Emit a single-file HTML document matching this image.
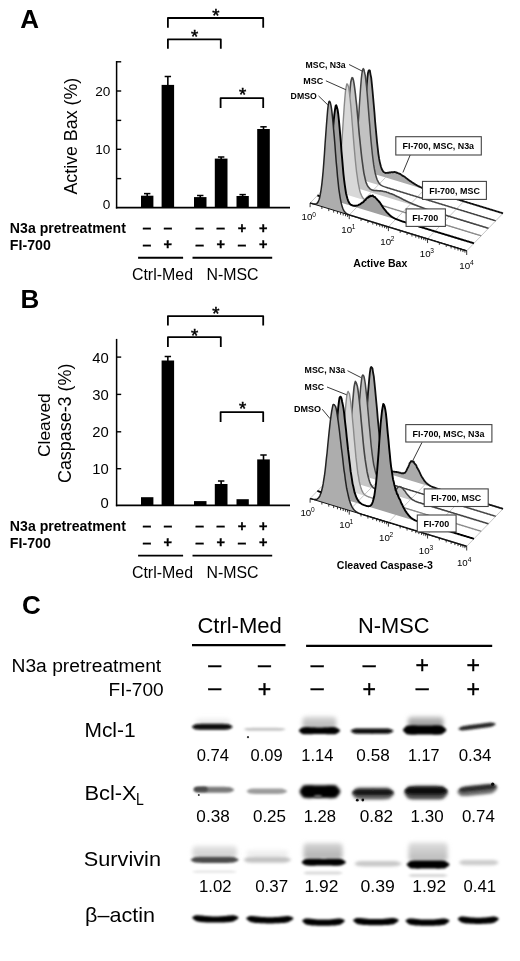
<!DOCTYPE html>
<html><head><meta charset="utf-8"><title>Figure</title>
<style>html,body{margin:0;padding:0;background:#fff;} svg{display:block;} text{font-family:'Liberation Sans', Arial, Helvetica, sans-serif;}</style>
</head><body>
<svg width="520" height="961" viewBox="0 0 520 961">
<defs><linearGradient id="g0" x1="0" y1="0" x2="0" y2="1"><stop offset="0" stop-color="#f2f2f2"/><stop offset="1" stop-color="#e4e4e4"/></linearGradient><linearGradient id="g1" x1="0" y1="0" x2="0" y2="1"><stop offset="0" stop-color="#d8d8d8"/><stop offset="1" stop-color="#b0b0b0"/></linearGradient><linearGradient id="g2" x1="0" y1="0" x2="0" y2="1"><stop offset="0" stop-color="#c8c8c8"/><stop offset="1" stop-color="#8a8a8a"/></linearGradient><linearGradient id="g3" x1="0" y1="0" x2="0" y2="1"><stop offset="0" stop-color="#e6e6e6"/><stop offset="1" stop-color="#cccccc"/></linearGradient><linearGradient id="g4" x1="0" y1="0" x2="0" y2="1"><stop offset="0" stop-color="#f4f4f4"/><stop offset="1" stop-color="#e8e8e8"/></linearGradient><linearGradient id="g5" x1="0" y1="0" x2="0" y2="1"><stop offset="0" stop-color="#d6d6d6"/><stop offset="1" stop-color="#acacac"/></linearGradient><linearGradient id="g6" x1="0" y1="0" x2="0" y2="1"><stop offset="0" stop-color="#dedede"/><stop offset="1" stop-color="#b8b8b8"/></linearGradient><filter id="bl5" filterUnits="userSpaceOnUse" x="0" y="0" width="520" height="961"><feGaussianBlur stdDeviation="0.5"/></filter><filter id="bl10" filterUnits="userSpaceOnUse" x="0" y="0" width="520" height="961"><feGaussianBlur stdDeviation="1.0"/></filter><filter id="bl12" filterUnits="userSpaceOnUse" x="0" y="0" width="520" height="961"><feGaussianBlur stdDeviation="1.2"/></filter><filter id="bl13" filterUnits="userSpaceOnUse" x="0" y="0" width="520" height="961"><feGaussianBlur stdDeviation="1.3"/></filter><filter id="bl14" filterUnits="userSpaceOnUse" x="0" y="0" width="520" height="961"><feGaussianBlur stdDeviation="1.4"/></filter><filter id="bl16" filterUnits="userSpaceOnUse" x="0" y="0" width="520" height="961"><feGaussianBlur stdDeviation="1.6"/></filter><filter id="bl17" filterUnits="userSpaceOnUse" x="0" y="0" width="520" height="961"><feGaussianBlur stdDeviation="1.7"/></filter><filter id="bl22" filterUnits="userSpaceOnUse" x="0" y="0" width="520" height="961"><feGaussianBlur stdDeviation="2.2"/></filter></defs>
<rect width="520" height="961" fill="#fff"/>
<text x="20.15" y="27.80" font-size="26" font-weight="bold" fill="#000">A</text>
<text transform="translate(76.60,194.53) rotate(-90) scale(1.012,1)" font-size="17.6">Active Bax (%)</text>
<line x1="116.60" y1="61.00" x2="116.60" y2="208.50" stroke="#000" stroke-width="1.5" stroke-linecap="butt" />
<line x1="116.60" y1="61.80" x2="121.20" y2="61.80" stroke="#000" stroke-width="1.4" stroke-linecap="butt" />
<line x1="116.60" y1="91.00" x2="121.20" y2="91.00" stroke="#000" stroke-width="1.4" stroke-linecap="butt" />
<line x1="116.60" y1="149.30" x2="121.20" y2="149.30" stroke="#000" stroke-width="1.4" stroke-linecap="butt" />
<line x1="116.60" y1="120.40" x2="121.20" y2="120.40" stroke="#000" stroke-width="1.4" stroke-linecap="butt" />
<line x1="116.60" y1="178.60" x2="121.20" y2="178.60" stroke="#000" stroke-width="1.4" stroke-linecap="butt" />
<line x1="115.90" y1="207.60" x2="290.00" y2="207.60" stroke="#000" stroke-width="1.8" stroke-linecap="butt" />
<text x="95.20" y="95.70" font-size="13.6" fill="#000">20</text>
<text x="95.20" y="154.40" font-size="13.6" fill="#000">10</text>
<text x="102.77" y="208.70" font-size="13.6" fill="#000">0</text>
<rect x="141.00" y="195.70" width="12.40" height="11.90" fill="#000" />
<line x1="147.20" y1="193.60" x2="147.20" y2="196.70" stroke="#000" stroke-width="1.6" stroke-linecap="butt" />
<line x1="144.00" y1="193.60" x2="150.40" y2="193.60" stroke="#000" stroke-width="1.5" stroke-linecap="butt" />
<rect x="161.60" y="84.90" width="12.50" height="122.70" fill="#000" />
<line x1="167.85" y1="76.50" x2="167.85" y2="85.90" stroke="#000" stroke-width="1.6" stroke-linecap="butt" />
<line x1="164.65" y1="76.50" x2="171.05" y2="76.50" stroke="#000" stroke-width="1.5" stroke-linecap="butt" />
<rect x="194.00" y="197.10" width="12.50" height="10.50" fill="#000" />
<line x1="200.25" y1="195.50" x2="200.25" y2="198.10" stroke="#000" stroke-width="1.6" stroke-linecap="butt" />
<line x1="197.05" y1="195.50" x2="203.45" y2="195.50" stroke="#000" stroke-width="1.5" stroke-linecap="butt" />
<rect x="214.80" y="158.60" width="12.70" height="49.00" fill="#000" />
<line x1="221.15" y1="157.00" x2="221.15" y2="159.60" stroke="#000" stroke-width="1.6" stroke-linecap="butt" />
<line x1="217.95" y1="157.00" x2="224.35" y2="157.00" stroke="#000" stroke-width="1.5" stroke-linecap="butt" />
<rect x="236.50" y="196.00" width="12.30" height="11.60" fill="#000" />
<line x1="242.65" y1="194.60" x2="242.65" y2="197.00" stroke="#000" stroke-width="1.6" stroke-linecap="butt" />
<line x1="239.45" y1="194.60" x2="245.85" y2="194.60" stroke="#000" stroke-width="1.5" stroke-linecap="butt" />
<rect x="257.20" y="129.00" width="12.60" height="78.60" fill="#000" />
<line x1="263.50" y1="126.80" x2="263.50" y2="130.00" stroke="#000" stroke-width="1.6" stroke-linecap="butt" />
<line x1="260.30" y1="126.80" x2="266.70" y2="126.80" stroke="#000" stroke-width="1.5" stroke-linecap="butt" />
<path d="M167.90,27.80 V18.00 H263.20 V27.80" fill="none" stroke="#000" stroke-width="1.8" stroke-linejoin="round" stroke-linejoin="miter"/>
<path d="M167.90,48.70 V39.30 H220.80 V48.70" fill="none" stroke="#000" stroke-width="1.8" stroke-linejoin="round" stroke-linejoin="miter"/>
<path d="M220.60,108.00 V98.10 H263.20 V108.00" fill="none" stroke="#000" stroke-width="1.8" stroke-linejoin="round" stroke-linejoin="miter"/>
<text x="212.20" y="22.07" font-size="18.6" fill="#000" stroke="#000" stroke-width="0.5">*</text>
<text x="190.90" y="43.27" font-size="18.6" fill="#000" stroke="#000" stroke-width="0.5">*</text>
<text x="239.00" y="101.37" font-size="18.6" fill="#000" stroke="#000" stroke-width="0.5">*</text>
<text transform="translate(9.86,232.90) scale(1.008,1)" font-size="14.0" font-weight="bold" fill="#000">N3a pretreatment</text>
<text transform="translate(9.85,250.40) scale(1.014,1)" font-size="14.0" font-weight="bold" fill="#000">FI-700</text>
<text transform="translate(142.40,232.88) scale(1.096,1)" font-size="14.46" font-weight="bold" fill="#000" stroke="#000" stroke-width="0.35">–</text>
<text transform="translate(142.40,249.78) scale(1.096,1)" font-size="14.46" font-weight="bold" fill="#000" stroke="#000" stroke-width="0.35">–</text>
<text transform="translate(163.40,232.88) scale(1.096,1)" font-size="14.46" font-weight="bold" fill="#000" stroke="#000" stroke-width="0.35">–</text>
<text x="163.57" y="249.41" font-size="14.46" font-weight="bold" fill="#000" stroke="#000" stroke-width="0.35">+</text>
<text transform="translate(195.20,232.88) scale(1.096,1)" font-size="14.46" font-weight="bold" fill="#000" stroke="#000" stroke-width="0.35">–</text>
<text transform="translate(195.20,249.78) scale(1.096,1)" font-size="14.46" font-weight="bold" fill="#000" stroke="#000" stroke-width="0.35">–</text>
<text transform="translate(216.30,232.88) scale(1.096,1)" font-size="14.46" font-weight="bold" fill="#000" stroke="#000" stroke-width="0.35">–</text>
<text x="216.47" y="249.41" font-size="14.46" font-weight="bold" fill="#000" stroke="#000" stroke-width="0.35">+</text>
<text x="237.77" y="233.21" font-size="14.46" font-weight="bold" fill="#000" stroke="#000" stroke-width="0.35">+</text>
<text transform="translate(237.60,249.78) scale(1.096,1)" font-size="14.46" font-weight="bold" fill="#000" stroke="#000" stroke-width="0.35">–</text>
<text x="258.97" y="233.21" font-size="14.46" font-weight="bold" fill="#000" stroke="#000" stroke-width="0.35">+</text>
<text x="258.97" y="249.41" font-size="14.46" font-weight="bold" fill="#000" stroke="#000" stroke-width="0.35">+</text>
<line x1="138.10" y1="257.80" x2="183.10" y2="257.80" stroke="#000" stroke-width="1.9" stroke-linecap="butt" />
<line x1="192.50" y1="257.80" x2="272.20" y2="257.80" stroke="#000" stroke-width="1.9" stroke-linecap="butt" />
<text transform="translate(131.89,279.80) scale(0.998,1)" font-size="16" fill="#000">Ctrl-Med</text>
<text transform="translate(206.50,279.80) scale(0.994,1)" font-size="16" fill="#000">N-MSC</text>
<text x="20.46" y="308.40" font-size="26" font-weight="bold" fill="#000">B</text>
<text transform="translate(49.70,456.98) rotate(-90) scale(0.999,1)" font-size="17.4">Cleaved</text>
<text transform="translate(70.70,483.01) rotate(-90) scale(1.017,1)" font-size="17.6">Caspase-3 (%)</text>
<line x1="116.60" y1="338.90" x2="116.60" y2="506.30" stroke="#000" stroke-width="1.5" stroke-linecap="butt" />
<line x1="116.60" y1="357.10" x2="121.20" y2="357.10" stroke="#000" stroke-width="1.4" stroke-linecap="butt" />
<line x1="116.60" y1="394.40" x2="121.20" y2="394.40" stroke="#000" stroke-width="1.4" stroke-linecap="butt" />
<line x1="116.60" y1="431.80" x2="121.20" y2="431.80" stroke="#000" stroke-width="1.4" stroke-linecap="butt" />
<line x1="116.60" y1="468.70" x2="121.20" y2="468.70" stroke="#000" stroke-width="1.4" stroke-linecap="butt" />
<line x1="115.90" y1="505.40" x2="290.00" y2="505.40" stroke="#000" stroke-width="1.8" stroke-linecap="butt" />
<text x="92.22" y="363.30" font-size="14.8" fill="#000">40</text>
<text x="92.22" y="399.90" font-size="14.8" fill="#000">30</text>
<text x="92.22" y="436.90" font-size="14.8" fill="#000">20</text>
<text x="92.22" y="474.00" font-size="14.8" fill="#000">10</text>
<text x="100.45" y="507.50" font-size="14.8" fill="#000">0</text>
<rect x="141.00" y="497.20" width="12.40" height="8.20" fill="#000" />
<rect x="161.60" y="360.50" width="12.50" height="144.90" fill="#000" />
<line x1="167.85" y1="356.50" x2="167.85" y2="361.50" stroke="#000" stroke-width="1.6" stroke-linecap="butt" />
<line x1="164.65" y1="356.50" x2="171.05" y2="356.50" stroke="#000" stroke-width="1.5" stroke-linecap="butt" />
<rect x="194.00" y="501.10" width="12.50" height="4.30" fill="#000" />
<rect x="214.80" y="484.00" width="12.70" height="21.40" fill="#000" />
<line x1="221.15" y1="481.00" x2="221.15" y2="485.00" stroke="#000" stroke-width="1.6" stroke-linecap="butt" />
<line x1="217.95" y1="481.00" x2="224.35" y2="481.00" stroke="#000" stroke-width="1.5" stroke-linecap="butt" />
<rect x="236.50" y="499.20" width="12.30" height="6.20" fill="#000" />
<rect x="257.20" y="459.40" width="12.60" height="46.00" fill="#000" />
<line x1="263.50" y1="455.00" x2="263.50" y2="460.40" stroke="#000" stroke-width="1.6" stroke-linecap="butt" />
<line x1="260.30" y1="455.00" x2="266.70" y2="455.00" stroke="#000" stroke-width="1.5" stroke-linecap="butt" />
<path d="M167.90,325.60 V316.10 H263.20 V325.60" fill="none" stroke="#000" stroke-width="1.8" stroke-linejoin="round" stroke-linejoin="miter"/>
<path d="M167.90,347.00 V337.20 H220.80 V347.00" fill="none" stroke="#000" stroke-width="1.8" stroke-linejoin="round" stroke-linejoin="miter"/>
<path d="M220.60,421.90 V412.05 H263.20 V421.90" fill="none" stroke="#000" stroke-width="1.8" stroke-linejoin="round" stroke-linejoin="miter"/>
<text x="212.20" y="320.17" font-size="18.6" fill="#000" stroke="#000" stroke-width="0.5">*</text>
<text x="190.90" y="341.57" font-size="18.6" fill="#000" stroke="#000" stroke-width="0.5">*</text>
<text x="239.00" y="415.37" font-size="18.6" fill="#000" stroke="#000" stroke-width="0.5">*</text>
<text transform="translate(9.86,530.70) scale(1.008,1)" font-size="14.0" font-weight="bold" fill="#000">N3a pretreatment</text>
<text transform="translate(9.85,548.20) scale(1.014,1)" font-size="14.0" font-weight="bold" fill="#000">FI-700</text>
<text transform="translate(142.40,530.68) scale(1.096,1)" font-size="14.46" font-weight="bold" fill="#000" stroke="#000" stroke-width="0.35">–</text>
<text transform="translate(142.40,547.58) scale(1.096,1)" font-size="14.46" font-weight="bold" fill="#000" stroke="#000" stroke-width="0.35">–</text>
<text transform="translate(163.40,530.68) scale(1.096,1)" font-size="14.46" font-weight="bold" fill="#000" stroke="#000" stroke-width="0.35">–</text>
<text x="163.57" y="547.21" font-size="14.46" font-weight="bold" fill="#000" stroke="#000" stroke-width="0.35">+</text>
<text transform="translate(195.20,530.68) scale(1.096,1)" font-size="14.46" font-weight="bold" fill="#000" stroke="#000" stroke-width="0.35">–</text>
<text transform="translate(195.20,547.58) scale(1.096,1)" font-size="14.46" font-weight="bold" fill="#000" stroke="#000" stroke-width="0.35">–</text>
<text transform="translate(216.30,530.68) scale(1.096,1)" font-size="14.46" font-weight="bold" fill="#000" stroke="#000" stroke-width="0.35">–</text>
<text x="216.47" y="547.21" font-size="14.46" font-weight="bold" fill="#000" stroke="#000" stroke-width="0.35">+</text>
<text x="237.77" y="531.01" font-size="14.46" font-weight="bold" fill="#000" stroke="#000" stroke-width="0.35">+</text>
<text transform="translate(237.60,547.58) scale(1.096,1)" font-size="14.46" font-weight="bold" fill="#000" stroke="#000" stroke-width="0.35">–</text>
<text x="258.97" y="531.01" font-size="14.46" font-weight="bold" fill="#000" stroke="#000" stroke-width="0.35">+</text>
<text x="258.97" y="547.21" font-size="14.46" font-weight="bold" fill="#000" stroke="#000" stroke-width="0.35">+</text>
<line x1="138.10" y1="555.60" x2="183.10" y2="555.60" stroke="#000" stroke-width="1.9" stroke-linecap="butt" />
<line x1="192.50" y1="555.60" x2="272.20" y2="555.60" stroke="#000" stroke-width="1.9" stroke-linecap="butt" />
<text transform="translate(131.89,577.60) scale(0.998,1)" font-size="16" fill="#000">Ctrl-Med</text>
<text transform="translate(206.50,577.60) scale(0.994,1)" font-size="16" fill="#000">N-MSC</text>
<line x1="310.10" y1="203.00" x2="346.40" y2="165.50" stroke="#b8b8b8" stroke-width="0.8" stroke-linecap="butt" />
<line x1="349.25" y1="214.95" x2="385.55" y2="177.45" stroke="#b8b8b8" stroke-width="0.8" stroke-linecap="butt" />
<line x1="388.40" y1="226.90" x2="424.70" y2="189.40" stroke="#b8b8b8" stroke-width="0.8" stroke-linecap="butt" />
<line x1="427.55" y1="238.85" x2="463.85" y2="201.35" stroke="#b8b8b8" stroke-width="0.8" stroke-linecap="butt" />
<line x1="466.70" y1="250.80" x2="503.00" y2="213.30" stroke="#b8b8b8" stroke-width="0.8" stroke-linecap="butt" />
<path d="M346.40,165.50 L347.05,165.70 L347.71,165.90 L348.36,166.10 L349.01,166.29 L349.66,166.49 L350.32,166.69 L350.97,166.88 L351.62,167.07 L352.27,167.25 L352.93,167.41 L353.58,167.55 L354.23,167.64 L354.88,167.68 L355.54,167.61 L356.19,167.41 L356.84,167.03 L357.49,166.38 L358.15,165.22 L358.80,163.87 L359.45,161.52 L360.10,158.72 L360.76,155.29 L361.41,150.04 L362.06,144.90 L362.71,137.51 L363.37,130.23 L364.02,121.65 L364.67,112.13 L365.32,102.39 L365.98,94.50 L366.63,86.28 L367.28,78.90 L367.93,73.35 L368.59,70.80 L369.24,70.26 L369.89,70.57 L370.54,74.57 L371.20,77.59 L371.85,83.82 L372.50,90.49 L373.15,97.78 L373.81,105.24 L374.46,112.48 L375.11,121.27 L375.76,128.33 L376.42,135.42 L377.07,142.36 L377.72,148.00 L378.37,153.82 L379.03,158.17 L379.68,161.60 L380.33,164.18 L380.98,166.80 L381.64,168.74 L382.29,170.05 L382.94,171.17 L383.59,171.98 L384.25,172.32 L384.90,172.67 L385.55,172.99 L386.20,172.95 L386.86,172.95 L387.51,172.75 L388.16,172.69 L388.81,172.74 L389.47,172.31 L390.12,172.56 L390.77,172.30 L391.42,172.04 L392.08,172.27 L392.73,172.06 L393.38,172.29 L394.03,171.98 L394.69,172.00 L395.34,172.23 L395.99,172.22 L396.64,172.75 L397.30,172.76 L397.95,173.08 L398.60,173.37 L399.25,173.74 L399.91,173.86 L400.56,174.16 L401.21,174.78 L401.86,175.07 L402.52,175.78 L403.17,175.88 L403.82,176.34 L404.47,176.64 L405.12,177.18 L405.78,177.86 L406.43,178.29 L407.08,178.66 L407.74,179.36 L408.39,179.68 L409.04,180.25 L409.69,180.73 L410.35,181.20 L411.00,181.47 L411.65,182.08 L412.30,182.50 L412.96,182.90 L413.61,183.24 L414.26,183.80 L414.91,184.14 L415.57,184.52 L416.22,184.86 L416.87,185.25 L417.52,185.61 L418.18,186.00 L418.83,186.34 L419.48,186.67 L420.13,186.99 L420.79,187.30 L421.44,187.60 L422.09,187.89 L422.74,188.17 L423.40,188.45 L424.05,188.72 L424.70,188.98 L425.35,189.23 L426.00,189.48 L426.66,189.72 L427.31,189.96 L427.96,190.19 L428.62,190.42 L429.27,190.64 L429.92,190.86 L430.57,191.08 L431.23,191.30 L431.88,191.51 L432.53,191.72 L433.18,191.93 L433.84,192.14 L434.49,192.35 L435.14,192.55 L435.79,192.76 L436.45,192.96 L437.10,193.17 L437.75,193.37 L438.40,193.57 L439.06,193.77 L439.71,193.97 L440.36,194.17 L441.01,194.37 L441.67,194.57 L442.32,194.77 L442.97,194.97 L443.62,195.17 L444.28,195.37 L444.93,195.57 L445.58,195.77 L446.23,195.97 L446.89,196.17 L447.54,196.37 L448.19,196.57 L448.84,196.77 L449.50,196.97 L450.15,197.17 L450.80,197.37 L451.45,197.57 L452.11,197.76 L452.76,197.96 L453.41,198.16 L454.06,198.36 L454.72,198.56 L455.37,198.76 L456.02,198.96 L456.67,199.16 L457.33,199.36 L457.98,199.56 L458.63,199.76 L459.28,199.96 L459.94,200.15 L460.59,200.35 L461.24,200.55 L461.89,200.75 L462.55,200.95 L463.20,201.15 L463.85,201.35 L464.50,201.55 L465.16,201.75 L465.81,201.95 L466.46,202.15 L467.11,202.35 L467.77,202.54 L468.42,202.74 L469.07,202.94 L469.72,203.14 L470.38,203.34 L471.03,203.54 L471.68,203.74 L472.33,203.94 L472.99,204.14 L473.64,204.34 L474.29,204.54 L474.94,204.74 L475.60,204.93 L476.25,205.13 L476.90,205.33 L477.55,205.53 L478.21,205.73 L478.86,205.93 L479.51,206.13 L480.16,206.33 L480.82,206.53 L481.47,206.73 L482.12,206.93 L482.77,207.13 L483.43,207.32 L484.08,207.52 L484.73,207.72 L485.38,207.92 L486.04,208.12 L486.69,208.32 L487.34,208.52 L487.99,208.72 L488.65,208.92 L489.30,209.12 L489.95,209.32 L490.60,209.52 L491.25,209.71 L491.91,209.91 L492.56,210.11 L493.21,210.31 L493.87,210.51 L494.52,210.71 L495.17,210.91 L495.82,211.11 L496.48,211.31 L497.13,211.51 L497.78,211.71 L498.43,211.91 L499.09,212.10 L499.74,212.30 L500.39,212.50 L501.04,212.70 L501.70,212.90 L502.35,213.10 L503.00,213.30 L503.00,213.30 L346.40,165.50 Z" fill="#ababab" stroke="none" stroke-width="1" stroke-linejoin="round" />
<path d="M346.40,165.50 L347.05,165.70 L347.71,165.90 L348.36,166.10 L349.01,166.29 L349.66,166.49 L350.32,166.69 L350.97,166.88 L351.62,167.07 L352.27,167.25 L352.93,167.41 L353.58,167.55 L354.23,167.64 L354.88,167.68 L355.54,167.61 L356.19,167.41 L356.84,167.03 L357.49,166.38 L358.15,165.22 L358.80,163.87 L359.45,161.52 L360.10,158.72 L360.76,155.29 L361.41,150.04 L362.06,144.90 L362.71,137.51 L363.37,130.23 L364.02,121.65 L364.67,112.13 L365.32,102.39 L365.98,94.50 L366.63,86.28 L367.28,78.90 L367.93,73.35 L368.59,70.80 L369.24,70.26 L369.89,70.57 L370.54,74.57 L371.20,77.59 L371.85,83.82 L372.50,90.49 L373.15,97.78 L373.81,105.24 L374.46,112.48 L375.11,121.27 L375.76,128.33 L376.42,135.42 L377.07,142.36 L377.72,148.00 L378.37,153.82 L379.03,158.17 L379.68,161.60 L380.33,164.18 L380.98,166.80 L381.64,168.74 L382.29,170.05 L382.94,171.17 L383.59,171.98 L384.25,172.32 L384.90,172.67 L385.55,172.99 L386.20,172.95 L386.86,172.95 L387.51,172.75 L388.16,172.69 L388.81,172.74 L389.47,172.31 L390.12,172.56 L390.77,172.30 L391.42,172.04 L392.08,172.27 L392.73,172.06 L393.38,172.29 L394.03,171.98 L394.69,172.00 L395.34,172.23 L395.99,172.22 L396.64,172.75 L397.30,172.76 L397.95,173.08 L398.60,173.37 L399.25,173.74 L399.91,173.86 L400.56,174.16 L401.21,174.78 L401.86,175.07 L402.52,175.78 L403.17,175.88 L403.82,176.34 L404.47,176.64 L405.12,177.18 L405.78,177.86 L406.43,178.29 L407.08,178.66 L407.74,179.36 L408.39,179.68 L409.04,180.25 L409.69,180.73 L410.35,181.20 L411.00,181.47 L411.65,182.08 L412.30,182.50 L412.96,182.90 L413.61,183.24 L414.26,183.80 L414.91,184.14 L415.57,184.52 L416.22,184.86 L416.87,185.25 L417.52,185.61 L418.18,186.00 L418.83,186.34 L419.48,186.67 L420.13,186.99 L420.79,187.30 L421.44,187.60 L422.09,187.89 L422.74,188.17 L423.40,188.45 L424.05,188.72 L424.70,188.98 L425.35,189.23 L426.00,189.48 L426.66,189.72 L427.31,189.96 L427.96,190.19 L428.62,190.42 L429.27,190.64 L429.92,190.86 L430.57,191.08 L431.23,191.30 L431.88,191.51 L432.53,191.72 L433.18,191.93 L433.84,192.14 L434.49,192.35 L435.14,192.55 L435.79,192.76 L436.45,192.96 L437.10,193.17 L437.75,193.37 L438.40,193.57 L439.06,193.77 L439.71,193.97 L440.36,194.17 L441.01,194.37 L441.67,194.57 L442.32,194.77 L442.97,194.97 L443.62,195.17 L444.28,195.37 L444.93,195.57 L445.58,195.77 L446.23,195.97 L446.89,196.17 L447.54,196.37 L448.19,196.57 L448.84,196.77 L449.50,196.97 L450.15,197.17 L450.80,197.37 L451.45,197.57 L452.11,197.76 L452.76,197.96 L453.41,198.16 L454.06,198.36 L454.72,198.56 L455.37,198.76 L456.02,198.96 L456.67,199.16 L457.33,199.36 L457.98,199.56 L458.63,199.76 L459.28,199.96 L459.94,200.15 L460.59,200.35 L461.24,200.55 L461.89,200.75 L462.55,200.95 L463.20,201.15 L463.85,201.35 L464.50,201.55 L465.16,201.75 L465.81,201.95 L466.46,202.15 L467.11,202.35 L467.77,202.54 L468.42,202.74 L469.07,202.94 L469.72,203.14 L470.38,203.34 L471.03,203.54 L471.68,203.74 L472.33,203.94 L472.99,204.14 L473.64,204.34 L474.29,204.54 L474.94,204.74 L475.60,204.93 L476.25,205.13 L476.90,205.33 L477.55,205.53 L478.21,205.73 L478.86,205.93 L479.51,206.13 L480.16,206.33 L480.82,206.53 L481.47,206.73 L482.12,206.93 L482.77,207.13 L483.43,207.32 L484.08,207.52 L484.73,207.72 L485.38,207.92 L486.04,208.12 L486.69,208.32 L487.34,208.52 L487.99,208.72 L488.65,208.92 L489.30,209.12 L489.95,209.32 L490.60,209.52 L491.25,209.71 L491.91,209.91 L492.56,210.11 L493.21,210.31 L493.87,210.51 L494.52,210.71 L495.17,210.91 L495.82,211.11 L496.48,211.31 L497.13,211.51 L497.78,211.71 L498.43,211.91 L499.09,212.10 L499.74,212.30 L500.39,212.50 L501.04,212.70 L501.70,212.90 L502.35,213.10 L503.00,213.30" fill="none" stroke="#111" stroke-width="1.8" stroke-linejoin="round" />
<path d="M339.14,173.00 L339.79,173.20 L340.45,173.40 L341.10,173.60 L341.75,173.80 L342.40,173.99 L343.06,174.19 L343.71,174.39 L344.36,174.59 L345.01,174.78 L345.67,174.97 L346.32,175.14 L346.97,175.31 L347.62,175.44 L348.28,175.53 L348.93,175.56 L349.58,175.49 L350.23,175.26 L350.89,174.86 L351.54,174.12 L352.19,173.01 L352.84,171.16 L353.50,168.74 L354.15,166.18 L354.80,162.20 L355.45,157.10 L356.11,150.86 L356.76,143.15 L357.41,134.59 L358.06,125.77 L358.72,116.28 L359.37,105.67 L360.02,95.99 L360.67,86.77 L361.33,78.63 L361.98,73.21 L362.63,69.87 L363.28,68.61 L363.94,69.46 L364.59,72.77 L365.24,75.43 L365.89,80.71 L366.55,86.77 L367.20,93.91 L367.85,102.13 L368.50,110.13 L369.16,118.68 L369.81,125.98 L370.46,134.53 L371.11,141.84 L371.77,148.40 L372.42,154.59 L373.07,159.79 L373.72,164.94 L374.38,168.97 L375.03,172.21 L375.68,175.08 L376.33,177.28 L376.99,179.35 L377.64,180.64 L378.29,181.99 L378.94,183.08 L379.60,183.86 L380.25,184.48 L380.90,185.01 L381.55,185.44 L382.21,185.80 L382.86,186.12 L383.51,186.39 L384.16,186.65 L384.82,186.88 L385.47,187.10 L386.12,187.32 L386.77,187.52 L387.43,187.73 L388.08,187.93 L388.73,188.13 L389.38,188.33 L390.04,188.53 L390.69,188.73 L391.34,188.93 L391.99,189.13 L392.65,189.33 L393.30,189.53 L393.95,189.73 L394.60,189.93 L395.26,190.13 L395.91,190.33 L396.56,190.53 L397.21,190.73 L397.87,190.92 L398.52,191.12 L399.17,191.32 L399.82,191.52 L400.48,191.72 L401.13,191.92 L401.78,192.12 L402.43,192.32 L403.09,192.52 L403.74,192.72 L404.39,192.92 L405.04,193.12 L405.70,193.31 L406.35,193.51 L407.00,193.71 L407.65,193.91 L408.31,194.11 L408.96,194.31 L409.61,194.51 L410.26,194.71 L410.92,194.91 L411.57,195.11 L412.22,195.31 L412.87,195.51 L413.53,195.70 L414.18,195.90 L414.83,196.10 L415.48,196.30 L416.14,196.50 L416.79,196.70 L417.44,196.90 L418.09,197.10 L418.75,197.30 L419.40,197.50 L420.05,197.70 L420.70,197.90 L421.36,198.09 L422.01,198.29 L422.66,198.49 L423.31,198.69 L423.97,198.89 L424.62,199.09 L425.27,199.29 L425.92,199.49 L426.58,199.69 L427.23,199.89 L427.88,200.09 L428.53,200.29 L429.19,200.48 L429.84,200.68 L430.49,200.88 L431.14,201.08 L431.80,201.28 L432.45,201.48 L433.10,201.68 L433.75,201.88 L434.41,202.08 L435.06,202.28 L435.71,202.48 L436.36,202.68 L437.02,202.88 L437.67,203.07 L438.32,203.27 L438.97,203.47 L439.63,203.67 L440.28,203.87 L440.93,204.07 L441.58,204.27 L442.24,204.47 L442.89,204.67 L443.54,204.87 L444.19,205.07 L444.85,205.26 L445.50,205.46 L446.15,205.66 L446.80,205.86 L447.46,206.06 L448.11,206.26 L448.76,206.46 L449.41,206.66 L450.07,206.86 L450.72,207.06 L451.37,207.26 L452.02,207.46 L452.68,207.66 L453.33,207.85 L453.98,208.05 L454.63,208.25 L455.29,208.45 L455.94,208.65 L456.59,208.85 L457.24,209.05 L457.90,209.25 L458.55,209.45 L459.20,209.65 L459.85,209.85 L460.51,210.05 L461.16,210.24 L461.81,210.44 L462.46,210.64 L463.12,210.84 L463.77,211.04 L464.42,211.24 L465.07,211.44 L465.73,211.64 L466.38,211.84 L467.03,212.04 L467.68,212.24 L468.34,212.44 L468.99,212.63 L469.64,212.83 L470.29,213.03 L470.95,213.23 L471.60,213.43 L472.25,213.63 L472.90,213.83 L473.56,214.03 L474.21,214.23 L474.86,214.43 L475.51,214.63 L476.17,214.82 L476.82,215.02 L477.47,215.22 L478.12,215.42 L478.78,215.62 L479.43,215.82 L480.08,216.02 L480.73,216.22 L481.39,216.42 L482.04,216.62 L482.69,216.82 L483.34,217.02 L484.00,217.22 L484.65,217.41 L485.30,217.61 L485.95,217.81 L486.61,218.01 L487.26,218.21 L487.91,218.41 L488.56,218.61 L489.22,218.81 L489.87,219.01 L490.52,219.21 L491.17,219.41 L491.83,219.60 L492.48,219.80 L493.13,220.00 L493.78,220.20 L494.44,220.40 L495.09,220.60 L495.74,220.80 L495.74,220.80 L339.14,173.00 Z" fill="#c2c2c2" stroke="none" stroke-width="1" stroke-linejoin="round" />
<path d="M339.14,173.00 L339.79,173.20 L340.45,173.40 L341.10,173.60 L341.75,173.80 L342.40,173.99 L343.06,174.19 L343.71,174.39 L344.36,174.59 L345.01,174.78 L345.67,174.97 L346.32,175.14 L346.97,175.31 L347.62,175.44 L348.28,175.53 L348.93,175.56 L349.58,175.49 L350.23,175.26 L350.89,174.86 L351.54,174.12 L352.19,173.01 L352.84,171.16 L353.50,168.74 L354.15,166.18 L354.80,162.20 L355.45,157.10 L356.11,150.86 L356.76,143.15 L357.41,134.59 L358.06,125.77 L358.72,116.28 L359.37,105.67 L360.02,95.99 L360.67,86.77 L361.33,78.63 L361.98,73.21 L362.63,69.87 L363.28,68.61 L363.94,69.46 L364.59,72.77 L365.24,75.43 L365.89,80.71 L366.55,86.77 L367.20,93.91 L367.85,102.13 L368.50,110.13 L369.16,118.68 L369.81,125.98 L370.46,134.53 L371.11,141.84 L371.77,148.40 L372.42,154.59 L373.07,159.79 L373.72,164.94 L374.38,168.97 L375.03,172.21 L375.68,175.08 L376.33,177.28 L376.99,179.35 L377.64,180.64 L378.29,181.99 L378.94,183.08 L379.60,183.86 L380.25,184.48 L380.90,185.01 L381.55,185.44 L382.21,185.80 L382.86,186.12 L383.51,186.39 L384.16,186.65 L384.82,186.88 L385.47,187.10 L386.12,187.32 L386.77,187.52 L387.43,187.73 L388.08,187.93 L388.73,188.13 L389.38,188.33 L390.04,188.53 L390.69,188.73 L391.34,188.93 L391.99,189.13 L392.65,189.33 L393.30,189.53 L393.95,189.73 L394.60,189.93 L395.26,190.13 L395.91,190.33 L396.56,190.53 L397.21,190.73 L397.87,190.92 L398.52,191.12 L399.17,191.32 L399.82,191.52 L400.48,191.72 L401.13,191.92 L401.78,192.12 L402.43,192.32 L403.09,192.52 L403.74,192.72 L404.39,192.92 L405.04,193.12 L405.70,193.31 L406.35,193.51 L407.00,193.71 L407.65,193.91 L408.31,194.11 L408.96,194.31 L409.61,194.51 L410.26,194.71 L410.92,194.91 L411.57,195.11 L412.22,195.31 L412.87,195.51 L413.53,195.70 L414.18,195.90 L414.83,196.10 L415.48,196.30 L416.14,196.50 L416.79,196.70 L417.44,196.90 L418.09,197.10 L418.75,197.30 L419.40,197.50 L420.05,197.70 L420.70,197.90 L421.36,198.09 L422.01,198.29 L422.66,198.49 L423.31,198.69 L423.97,198.89 L424.62,199.09 L425.27,199.29 L425.92,199.49 L426.58,199.69 L427.23,199.89 L427.88,200.09 L428.53,200.29 L429.19,200.48 L429.84,200.68 L430.49,200.88 L431.14,201.08 L431.80,201.28 L432.45,201.48 L433.10,201.68 L433.75,201.88 L434.41,202.08 L435.06,202.28 L435.71,202.48 L436.36,202.68 L437.02,202.88 L437.67,203.07 L438.32,203.27 L438.97,203.47 L439.63,203.67 L440.28,203.87 L440.93,204.07 L441.58,204.27 L442.24,204.47 L442.89,204.67 L443.54,204.87 L444.19,205.07 L444.85,205.26 L445.50,205.46 L446.15,205.66 L446.80,205.86 L447.46,206.06 L448.11,206.26 L448.76,206.46 L449.41,206.66 L450.07,206.86 L450.72,207.06 L451.37,207.26 L452.02,207.46 L452.68,207.66 L453.33,207.85 L453.98,208.05 L454.63,208.25 L455.29,208.45 L455.94,208.65 L456.59,208.85 L457.24,209.05 L457.90,209.25 L458.55,209.45 L459.20,209.65 L459.85,209.85 L460.51,210.05 L461.16,210.24 L461.81,210.44 L462.46,210.64 L463.12,210.84 L463.77,211.04 L464.42,211.24 L465.07,211.44 L465.73,211.64 L466.38,211.84 L467.03,212.04 L467.68,212.24 L468.34,212.44 L468.99,212.63 L469.64,212.83 L470.29,213.03 L470.95,213.23 L471.60,213.43 L472.25,213.63 L472.90,213.83 L473.56,214.03 L474.21,214.23 L474.86,214.43 L475.51,214.63 L476.17,214.82 L476.82,215.02 L477.47,215.22 L478.12,215.42 L478.78,215.62 L479.43,215.82 L480.08,216.02 L480.73,216.22 L481.39,216.42 L482.04,216.62 L482.69,216.82 L483.34,217.02 L484.00,217.22 L484.65,217.41 L485.30,217.61 L485.95,217.81 L486.61,218.01 L487.26,218.21 L487.91,218.41 L488.56,218.61 L489.22,218.81 L489.87,219.01 L490.52,219.21 L491.17,219.41 L491.83,219.60 L492.48,219.80 L493.13,220.00 L493.78,220.20 L494.44,220.40 L495.09,220.60 L495.74,220.80" fill="none" stroke="#444" stroke-width="1.5" stroke-linejoin="round" />
<path d="M331.88,180.50 L332.53,180.70 L333.19,180.89 L333.84,181.08 L334.49,181.27 L335.14,181.45 L335.80,181.61 L336.45,181.74 L337.10,181.84 L337.75,181.86 L338.40,181.79 L339.06,181.56 L339.71,181.15 L340.36,180.43 L341.01,179.38 L341.67,177.49 L342.32,175.05 L342.97,172.28 L343.62,168.26 L344.28,163.77 L344.93,157.60 L345.58,150.02 L346.24,141.86 L346.89,131.98 L347.54,123.28 L348.19,113.69 L348.84,102.91 L349.50,94.84 L350.15,88.05 L350.80,81.97 L351.45,79.33 L352.11,77.67 L352.76,77.90 L353.41,80.13 L354.06,83.59 L354.72,88.47 L355.37,93.51 L356.02,99.74 L356.68,105.43 L357.33,112.70 L357.98,119.52 L358.63,127.36 L359.28,134.61 L359.94,140.64 L360.59,146.90 L361.24,153.14 L361.89,158.75 L362.55,163.73 L363.20,168.28 L363.85,172.85 L364.50,175.84 L365.16,178.84 L365.81,181.44 L366.46,183.38 L367.12,184.85 L367.77,186.16 L368.42,187.06 L369.07,187.83 L369.73,188.62 L370.38,189.02 L371.03,189.41 L371.68,189.72 L372.33,190.06 L372.99,190.26 L373.64,190.39 L374.29,190.50 L374.94,190.58 L375.60,190.55 L376.25,190.54 L376.90,190.60 L377.56,190.73 L378.21,190.74 L378.86,190.74 L379.51,191.01 L380.17,190.90 L380.82,190.90 L381.47,191.02 L382.12,191.12 L382.77,191.31 L383.43,191.53 L384.08,191.46 L384.73,191.76 L385.38,191.76 L386.04,191.87 L386.69,192.27 L387.34,192.47 L388.00,192.49 L388.65,192.79 L389.30,193.21 L389.95,193.46 L390.61,193.70 L391.26,193.70 L391.91,193.99 L392.56,194.48 L393.21,194.53 L393.87,194.77 L394.52,195.16 L395.17,195.55 L395.82,195.79 L396.48,196.21 L397.13,196.55 L397.78,196.60 L398.44,197.00 L399.09,197.35 L399.74,197.57 L400.39,198.02 L401.04,198.24 L401.70,198.58 L402.35,199.04 L403.00,199.35 L403.65,199.67 L404.31,200.00 L404.96,200.26 L405.61,200.64 L406.26,200.93 L406.92,201.29 L407.57,201.49 L408.22,201.88 L408.88,202.17 L409.53,202.46 L410.18,202.73 L410.83,203.08 L411.49,203.37 L412.14,203.66 L412.79,203.95 L413.44,204.23 L414.10,204.51 L414.75,204.79 L415.40,205.06 L416.05,205.33 L416.70,205.60 L417.36,205.86 L418.01,206.11 L418.66,206.37 L419.31,206.62 L419.97,206.86 L420.62,207.11 L421.27,207.35 L421.92,207.59 L422.58,207.82 L423.23,208.05 L423.88,208.28 L424.53,208.51 L425.19,208.74 L425.84,208.96 L426.49,209.18 L427.14,209.40 L427.80,209.62 L428.45,209.83 L429.10,210.05 L429.75,210.26 L430.41,210.47 L431.06,210.68 L431.71,210.89 L432.37,211.10 L433.02,211.31 L433.67,211.51 L434.32,211.72 L434.98,211.93 L435.63,212.13 L436.28,212.33 L436.93,212.54 L437.58,212.74 L438.24,212.94 L438.89,213.14 L439.54,213.35 L440.19,213.55 L440.85,213.75 L441.50,213.95 L442.15,214.15 L442.81,214.35 L443.46,214.55 L444.11,214.75 L444.76,214.95 L445.41,215.15 L446.07,215.35 L446.72,215.55 L447.37,215.75 L448.02,215.95 L448.68,216.15 L449.33,216.35 L449.98,216.55 L450.63,216.75 L451.29,216.95 L451.94,217.15 L452.59,217.35 L453.25,217.54 L453.90,217.74 L454.55,217.94 L455.20,218.14 L455.86,218.34 L456.51,218.54 L457.16,218.74 L457.81,218.94 L458.46,219.14 L459.12,219.34 L459.77,219.54 L460.42,219.74 L461.07,219.93 L461.73,220.13 L462.38,220.33 L463.03,220.53 L463.69,220.73 L464.34,220.93 L464.99,221.13 L465.64,221.33 L466.29,221.53 L466.95,221.73 L467.60,221.93 L468.25,222.13 L468.90,222.32 L469.56,222.52 L470.21,222.72 L470.86,222.92 L471.51,223.12 L472.17,223.32 L472.82,223.52 L473.47,223.72 L474.12,223.92 L474.78,224.12 L475.43,224.32 L476.08,224.52 L476.74,224.71 L477.39,224.91 L478.04,225.11 L478.69,225.31 L479.35,225.51 L480.00,225.71 L480.65,225.91 L481.30,226.11 L481.95,226.31 L482.61,226.51 L483.26,226.71 L483.91,226.91 L484.56,227.10 L485.22,227.30 L485.87,227.50 L486.52,227.70 L487.17,227.90 L487.83,228.10 L488.48,228.30 L488.48,228.30 L331.88,180.50 Z" fill="#c6c6c6" stroke="none" stroke-width="1" stroke-linejoin="round" />
<path d="M331.88,180.50 L332.53,180.70 L333.19,180.89 L333.84,181.08 L334.49,181.27 L335.14,181.45 L335.80,181.61 L336.45,181.74 L337.10,181.84 L337.75,181.86 L338.40,181.79 L339.06,181.56 L339.71,181.15 L340.36,180.43 L341.01,179.38 L341.67,177.49 L342.32,175.05 L342.97,172.28 L343.62,168.26 L344.28,163.77 L344.93,157.60 L345.58,150.02 L346.24,141.86 L346.89,131.98 L347.54,123.28 L348.19,113.69 L348.84,102.91 L349.50,94.84 L350.15,88.05 L350.80,81.97 L351.45,79.33 L352.11,77.67 L352.76,77.90 L353.41,80.13 L354.06,83.59 L354.72,88.47 L355.37,93.51 L356.02,99.74 L356.68,105.43 L357.33,112.70 L357.98,119.52 L358.63,127.36 L359.28,134.61 L359.94,140.64 L360.59,146.90 L361.24,153.14 L361.89,158.75 L362.55,163.73 L363.20,168.28 L363.85,172.85 L364.50,175.84 L365.16,178.84 L365.81,181.44 L366.46,183.38 L367.12,184.85 L367.77,186.16 L368.42,187.06 L369.07,187.83 L369.73,188.62 L370.38,189.02 L371.03,189.41 L371.68,189.72 L372.33,190.06 L372.99,190.26 L373.64,190.39 L374.29,190.50 L374.94,190.58 L375.60,190.55 L376.25,190.54 L376.90,190.60 L377.56,190.73 L378.21,190.74 L378.86,190.74 L379.51,191.01 L380.17,190.90 L380.82,190.90 L381.47,191.02 L382.12,191.12 L382.77,191.31 L383.43,191.53 L384.08,191.46 L384.73,191.76 L385.38,191.76 L386.04,191.87 L386.69,192.27 L387.34,192.47 L388.00,192.49 L388.65,192.79 L389.30,193.21 L389.95,193.46 L390.61,193.70 L391.26,193.70 L391.91,193.99 L392.56,194.48 L393.21,194.53 L393.87,194.77 L394.52,195.16 L395.17,195.55 L395.82,195.79 L396.48,196.21 L397.13,196.55 L397.78,196.60 L398.44,197.00 L399.09,197.35 L399.74,197.57 L400.39,198.02 L401.04,198.24 L401.70,198.58 L402.35,199.04 L403.00,199.35 L403.65,199.67 L404.31,200.00 L404.96,200.26 L405.61,200.64 L406.26,200.93 L406.92,201.29 L407.57,201.49 L408.22,201.88 L408.88,202.17 L409.53,202.46 L410.18,202.73 L410.83,203.08 L411.49,203.37 L412.14,203.66 L412.79,203.95 L413.44,204.23 L414.10,204.51 L414.75,204.79 L415.40,205.06 L416.05,205.33 L416.70,205.60 L417.36,205.86 L418.01,206.11 L418.66,206.37 L419.31,206.62 L419.97,206.86 L420.62,207.11 L421.27,207.35 L421.92,207.59 L422.58,207.82 L423.23,208.05 L423.88,208.28 L424.53,208.51 L425.19,208.74 L425.84,208.96 L426.49,209.18 L427.14,209.40 L427.80,209.62 L428.45,209.83 L429.10,210.05 L429.75,210.26 L430.41,210.47 L431.06,210.68 L431.71,210.89 L432.37,211.10 L433.02,211.31 L433.67,211.51 L434.32,211.72 L434.98,211.93 L435.63,212.13 L436.28,212.33 L436.93,212.54 L437.58,212.74 L438.24,212.94 L438.89,213.14 L439.54,213.35 L440.19,213.55 L440.85,213.75 L441.50,213.95 L442.15,214.15 L442.81,214.35 L443.46,214.55 L444.11,214.75 L444.76,214.95 L445.41,215.15 L446.07,215.35 L446.72,215.55 L447.37,215.75 L448.02,215.95 L448.68,216.15 L449.33,216.35 L449.98,216.55 L450.63,216.75 L451.29,216.95 L451.94,217.15 L452.59,217.35 L453.25,217.54 L453.90,217.74 L454.55,217.94 L455.20,218.14 L455.86,218.34 L456.51,218.54 L457.16,218.74 L457.81,218.94 L458.46,219.14 L459.12,219.34 L459.77,219.54 L460.42,219.74 L461.07,219.93 L461.73,220.13 L462.38,220.33 L463.03,220.53 L463.69,220.73 L464.34,220.93 L464.99,221.13 L465.64,221.33 L466.29,221.53 L466.95,221.73 L467.60,221.93 L468.25,222.13 L468.90,222.32 L469.56,222.52 L470.21,222.72 L470.86,222.92 L471.51,223.12 L472.17,223.32 L472.82,223.52 L473.47,223.72 L474.12,223.92 L474.78,224.12 L475.43,224.32 L476.08,224.52 L476.74,224.71 L477.39,224.91 L478.04,225.11 L478.69,225.31 L479.35,225.51 L480.00,225.71 L480.65,225.91 L481.30,226.11 L481.95,226.31 L482.61,226.51 L483.26,226.71 L483.91,226.91 L484.56,227.10 L485.22,227.30 L485.87,227.50 L486.52,227.70 L487.17,227.90 L487.83,228.10 L488.48,228.30" fill="none" stroke="#444" stroke-width="1.6" stroke-linejoin="round" />
<path d="M324.62,188.00 L325.27,188.20 L325.93,188.40 L326.58,188.60 L327.23,188.79 L327.88,188.99 L328.54,189.19 L329.19,189.38 L329.84,189.56 L330.49,189.73 L331.14,189.89 L331.80,190.01 L332.45,190.08 L333.10,190.07 L333.75,189.94 L334.41,189.65 L335.06,189.05 L335.71,188.23 L336.37,186.90 L337.02,185.01 L337.67,182.73 L338.32,179.00 L338.98,174.89 L339.63,169.65 L340.28,161.86 L340.93,154.96 L341.58,145.78 L342.24,135.91 L342.89,126.20 L343.54,116.56 L344.19,106.83 L344.85,98.34 L345.50,91.11 L346.15,87.13 L346.81,83.88 L347.46,84.14 L348.11,85.67 L348.76,88.07 L349.42,92.91 L350.07,98.53 L350.72,104.94 L351.37,112.18 L352.02,120.78 L352.68,128.74 L353.33,137.09 L353.98,145.08 L354.63,152.43 L355.29,159.86 L355.94,166.21 L356.59,172.08 L357.25,176.52 L357.90,181.30 L358.55,184.92 L359.20,188.08 L359.86,191.11 L360.51,193.06 L361.16,194.66 L361.81,196.08 L362.47,197.30 L363.12,198.15 L363.77,198.79 L364.42,199.35 L365.07,199.80 L365.73,200.18 L366.38,200.50 L367.03,200.79 L367.69,201.04 L368.34,201.28 L368.99,201.50 L369.64,201.72 L370.30,201.93 L370.95,202.13 L371.60,202.33 L372.25,202.54 L372.91,202.74 L373.56,202.94 L374.21,203.14 L374.86,203.34 L375.51,203.53 L376.17,203.73 L376.82,203.93 L377.47,204.13 L378.12,204.33 L378.78,204.53 L379.43,204.73 L380.08,204.93 L380.74,205.13 L381.39,205.33 L382.04,205.53 L382.69,205.73 L383.35,205.92 L384.00,206.12 L384.65,206.32 L385.30,206.52 L385.95,206.72 L386.61,206.92 L387.26,207.12 L387.91,207.32 L388.56,207.52 L389.22,207.72 L389.87,207.92 L390.52,208.12 L391.18,208.31 L391.83,208.51 L392.48,208.71 L393.13,208.91 L393.78,209.11 L394.44,209.31 L395.09,209.51 L395.74,209.71 L396.39,209.91 L397.05,210.11 L397.70,210.31 L398.35,210.51 L399.00,210.70 L399.66,210.90 L400.31,211.10 L400.96,211.30 L401.62,211.50 L402.27,211.70 L402.92,211.90 L403.57,212.10 L404.23,212.30 L404.88,212.50 L405.53,212.70 L406.18,212.90 L406.84,213.09 L407.49,213.29 L408.14,213.49 L408.79,213.69 L409.44,213.89 L410.10,214.09 L410.75,214.29 L411.40,214.49 L412.06,214.69 L412.71,214.89 L413.36,215.09 L414.01,215.29 L414.66,215.48 L415.32,215.68 L415.97,215.88 L416.62,216.08 L417.27,216.28 L417.93,216.48 L418.58,216.68 L419.23,216.88 L419.88,217.08 L420.54,217.28 L421.19,217.48 L421.84,217.68 L422.50,217.88 L423.15,218.07 L423.80,218.27 L424.45,218.47 L425.11,218.67 L425.76,218.87 L426.41,219.07 L427.06,219.27 L427.72,219.47 L428.37,219.67 L429.02,219.87 L429.67,220.07 L430.32,220.26 L430.98,220.46 L431.63,220.66 L432.28,220.86 L432.94,221.06 L433.59,221.26 L434.24,221.46 L434.89,221.66 L435.55,221.86 L436.20,222.06 L436.85,222.26 L437.50,222.46 L438.15,222.66 L438.81,222.85 L439.46,223.05 L440.11,223.25 L440.76,223.45 L441.42,223.65 L442.07,223.85 L442.72,224.05 L443.38,224.25 L444.03,224.45 L444.68,224.65 L445.33,224.85 L445.99,225.05 L446.64,225.24 L447.29,225.44 L447.94,225.64 L448.60,225.84 L449.25,226.04 L449.90,226.24 L450.55,226.44 L451.20,226.64 L451.86,226.84 L452.51,227.04 L453.16,227.24 L453.81,227.44 L454.47,227.63 L455.12,227.83 L455.77,228.03 L456.43,228.23 L457.08,228.43 L457.73,228.63 L458.38,228.83 L459.03,229.03 L459.69,229.23 L460.34,229.43 L460.99,229.63 L461.64,229.82 L462.30,230.02 L462.95,230.22 L463.60,230.42 L464.25,230.62 L464.91,230.82 L465.56,231.02 L466.21,231.22 L466.87,231.42 L467.52,231.62 L468.17,231.82 L468.82,232.02 L469.48,232.22 L470.13,232.41 L470.78,232.61 L471.43,232.81 L472.09,233.01 L472.74,233.21 L473.39,233.41 L474.04,233.61 L474.69,233.81 L475.35,234.01 L476.00,234.21 L476.65,234.41 L477.31,234.60 L477.96,234.80 L478.61,235.00 L479.26,235.20 L479.91,235.40 L480.57,235.60 L481.22,235.80 L481.22,235.80 L324.62,188.00 Z" fill="#d8d8d8" stroke="none" stroke-width="1" stroke-linejoin="round" />
<path d="M324.62,188.00 L325.27,188.20 L325.93,188.40 L326.58,188.60 L327.23,188.79 L327.88,188.99 L328.54,189.19 L329.19,189.38 L329.84,189.56 L330.49,189.73 L331.14,189.89 L331.80,190.01 L332.45,190.08 L333.10,190.07 L333.75,189.94 L334.41,189.65 L335.06,189.05 L335.71,188.23 L336.37,186.90 L337.02,185.01 L337.67,182.73 L338.32,179.00 L338.98,174.89 L339.63,169.65 L340.28,161.86 L340.93,154.96 L341.58,145.78 L342.24,135.91 L342.89,126.20 L343.54,116.56 L344.19,106.83 L344.85,98.34 L345.50,91.11 L346.15,87.13 L346.81,83.88 L347.46,84.14 L348.11,85.67 L348.76,88.07 L349.42,92.91 L350.07,98.53 L350.72,104.94 L351.37,112.18 L352.02,120.78 L352.68,128.74 L353.33,137.09 L353.98,145.08 L354.63,152.43 L355.29,159.86 L355.94,166.21 L356.59,172.08 L357.25,176.52 L357.90,181.30 L358.55,184.92 L359.20,188.08 L359.86,191.11 L360.51,193.06 L361.16,194.66 L361.81,196.08 L362.47,197.30 L363.12,198.15 L363.77,198.79 L364.42,199.35 L365.07,199.80 L365.73,200.18 L366.38,200.50 L367.03,200.79 L367.69,201.04 L368.34,201.28 L368.99,201.50 L369.64,201.72 L370.30,201.93 L370.95,202.13 L371.60,202.33 L372.25,202.54 L372.91,202.74 L373.56,202.94 L374.21,203.14 L374.86,203.34 L375.51,203.53 L376.17,203.73 L376.82,203.93 L377.47,204.13 L378.12,204.33 L378.78,204.53 L379.43,204.73 L380.08,204.93 L380.74,205.13 L381.39,205.33 L382.04,205.53 L382.69,205.73 L383.35,205.92 L384.00,206.12 L384.65,206.32 L385.30,206.52 L385.95,206.72 L386.61,206.92 L387.26,207.12 L387.91,207.32 L388.56,207.52 L389.22,207.72 L389.87,207.92 L390.52,208.12 L391.18,208.31 L391.83,208.51 L392.48,208.71 L393.13,208.91 L393.78,209.11 L394.44,209.31 L395.09,209.51 L395.74,209.71 L396.39,209.91 L397.05,210.11 L397.70,210.31 L398.35,210.51 L399.00,210.70 L399.66,210.90 L400.31,211.10 L400.96,211.30 L401.62,211.50 L402.27,211.70 L402.92,211.90 L403.57,212.10 L404.23,212.30 L404.88,212.50 L405.53,212.70 L406.18,212.90 L406.84,213.09 L407.49,213.29 L408.14,213.49 L408.79,213.69 L409.44,213.89 L410.10,214.09 L410.75,214.29 L411.40,214.49 L412.06,214.69 L412.71,214.89 L413.36,215.09 L414.01,215.29 L414.66,215.48 L415.32,215.68 L415.97,215.88 L416.62,216.08 L417.27,216.28 L417.93,216.48 L418.58,216.68 L419.23,216.88 L419.88,217.08 L420.54,217.28 L421.19,217.48 L421.84,217.68 L422.50,217.88 L423.15,218.07 L423.80,218.27 L424.45,218.47 L425.11,218.67 L425.76,218.87 L426.41,219.07 L427.06,219.27 L427.72,219.47 L428.37,219.67 L429.02,219.87 L429.67,220.07 L430.32,220.26 L430.98,220.46 L431.63,220.66 L432.28,220.86 L432.94,221.06 L433.59,221.26 L434.24,221.46 L434.89,221.66 L435.55,221.86 L436.20,222.06 L436.85,222.26 L437.50,222.46 L438.15,222.66 L438.81,222.85 L439.46,223.05 L440.11,223.25 L440.76,223.45 L441.42,223.65 L442.07,223.85 L442.72,224.05 L443.38,224.25 L444.03,224.45 L444.68,224.65 L445.33,224.85 L445.99,225.05 L446.64,225.24 L447.29,225.44 L447.94,225.64 L448.60,225.84 L449.25,226.04 L449.90,226.24 L450.55,226.44 L451.20,226.64 L451.86,226.84 L452.51,227.04 L453.16,227.24 L453.81,227.44 L454.47,227.63 L455.12,227.83 L455.77,228.03 L456.43,228.23 L457.08,228.43 L457.73,228.63 L458.38,228.83 L459.03,229.03 L459.69,229.23 L460.34,229.43 L460.99,229.63 L461.64,229.82 L462.30,230.02 L462.95,230.22 L463.60,230.42 L464.25,230.62 L464.91,230.82 L465.56,231.02 L466.21,231.22 L466.87,231.42 L467.52,231.62 L468.17,231.82 L468.82,232.02 L469.48,232.22 L470.13,232.41 L470.78,232.61 L471.43,232.81 L472.09,233.01 L472.74,233.21 L473.39,233.41 L474.04,233.61 L474.69,233.81 L475.35,234.01 L476.00,234.21 L476.65,234.41 L477.31,234.60 L477.96,234.80 L478.61,235.00 L479.26,235.20 L479.91,235.40 L480.57,235.60 L481.22,235.80" fill="none" stroke="#8a8a8a" stroke-width="1.4" stroke-linejoin="round" />
<path d="M317.36,195.49 L318.01,195.69 L318.67,195.88 L319.32,196.06 L319.97,196.23 L320.62,196.37 L321.28,196.48 L321.93,196.53 L322.58,196.50 L323.23,196.34 L323.88,196.00 L324.54,195.42 L325.19,194.58 L325.84,193.19 L326.50,191.38 L327.15,188.42 L327.80,184.84 L328.45,180.28 L329.11,175.97 L329.76,168.92 L330.41,161.84 L331.06,154.66 L331.72,145.22 L332.37,136.53 L333.02,129.25 L333.67,120.58 L334.32,114.84 L334.98,109.75 L335.63,105.97 L336.28,105.21 L336.94,107.19 L337.59,109.65 L338.24,114.00 L338.89,120.12 L339.55,127.29 L340.20,134.85 L340.85,142.44 L341.50,151.65 L342.16,158.91 L342.81,166.62 L343.46,174.12 L344.11,179.82 L344.76,184.76 L345.42,189.42 L346.07,193.52 L346.72,195.93 L347.38,198.50 L348.03,200.35 L348.68,202.03 L349.33,203.07 L349.99,203.91 L350.64,204.46 L351.29,204.91 L351.94,205.23 L352.60,205.46 L353.25,205.62 L353.90,205.71 L354.55,205.76 L355.21,205.76 L355.86,205.68 L356.51,205.65 L357.16,205.54 L357.81,205.31 L358.47,204.98 L359.12,204.70 L359.77,204.51 L360.43,204.17 L361.08,203.47 L361.73,203.11 L362.38,202.52 L363.04,202.26 L363.69,201.70 L364.34,200.71 L364.99,200.25 L365.65,199.88 L366.30,198.59 L366.95,198.22 L367.60,197.50 L368.25,197.65 L368.91,196.44 L369.56,196.87 L370.21,195.72 L370.87,195.96 L371.52,195.99 L372.17,195.75 L372.82,195.44 L373.48,196.43 L374.13,196.90 L374.78,196.86 L375.43,197.69 L376.09,198.40 L376.74,199.00 L377.39,199.83 L378.04,200.46 L378.69,201.18 L379.35,202.07 L380.00,202.60 L380.65,203.92 L381.31,204.71 L381.96,205.88 L382.61,206.71 L383.26,207.83 L383.92,208.60 L384.57,209.59 L385.22,210.13 L385.87,211.04 L386.52,211.95 L387.18,212.60 L387.83,213.18 L388.48,214.05 L389.13,214.52 L389.79,215.18 L390.44,215.71 L391.09,216.17 L391.75,216.69 L392.40,217.11 L393.05,217.52 L393.70,217.90 L394.36,218.25 L395.01,218.58 L395.66,218.89 L396.31,219.18 L396.97,219.46 L397.62,219.72 L398.27,219.98 L398.92,220.22 L399.58,220.46 L400.23,220.68 L400.88,220.91 L401.53,221.13 L402.19,221.34 L402.84,221.55 L403.49,221.76 L404.14,221.97 L404.80,222.17 L405.45,222.37 L406.10,222.58 L406.75,222.78 L407.40,222.98 L408.06,223.18 L408.71,223.38 L409.36,223.58 L410.01,223.78 L410.67,223.98 L411.32,224.18 L411.97,224.38 L412.62,224.58 L413.28,224.78 L413.93,224.98 L414.58,225.18 L415.24,225.37 L415.89,225.57 L416.54,225.77 L417.19,225.97 L417.85,226.17 L418.50,226.37 L419.15,226.57 L419.80,226.77 L420.46,226.97 L421.11,227.17 L421.76,227.37 L422.41,227.57 L423.06,227.76 L423.72,227.96 L424.37,228.16 L425.02,228.36 L425.68,228.56 L426.33,228.76 L426.98,228.96 L427.63,229.16 L428.29,229.36 L428.94,229.56 L429.59,229.76 L430.24,229.96 L430.89,230.15 L431.55,230.35 L432.20,230.55 L432.85,230.75 L433.50,230.95 L434.16,231.15 L434.81,231.35 L435.46,231.55 L436.12,231.75 L436.77,231.95 L437.42,232.15 L438.07,232.35 L438.73,232.54 L439.38,232.74 L440.03,232.94 L440.68,233.14 L441.34,233.34 L441.99,233.54 L442.64,233.74 L443.29,233.94 L443.94,234.14 L444.60,234.34 L445.25,234.54 L445.90,234.74 L446.56,234.94 L447.21,235.13 L447.86,235.33 L448.51,235.53 L449.17,235.73 L449.82,235.93 L450.47,236.13 L451.12,236.33 L451.77,236.53 L452.43,236.73 L453.08,236.93 L453.73,237.13 L454.38,237.32 L455.04,237.52 L455.69,237.72 L456.34,237.92 L457.00,238.12 L457.65,238.32 L458.30,238.52 L458.95,238.72 L459.61,238.92 L460.26,239.12 L460.91,239.32 L461.56,239.52 L462.22,239.72 L462.87,239.91 L463.52,240.11 L464.17,240.31 L464.83,240.51 L465.48,240.71 L466.13,240.91 L466.78,241.11 L467.44,241.31 L468.09,241.51 L468.74,241.71 L469.39,241.91 L470.05,242.10 L470.70,242.30 L471.35,242.50 L472.00,242.70 L472.65,242.90 L473.31,243.10 L473.96,243.30 L473.96,243.30 L317.36,195.50 Z" fill="#a0a0a0" stroke="none" stroke-width="1" stroke-linejoin="round" />
<path d="M317.36,195.49 L318.01,195.69 L318.67,195.88 L319.32,196.06 L319.97,196.23 L320.62,196.37 L321.28,196.48 L321.93,196.53 L322.58,196.50 L323.23,196.34 L323.88,196.00 L324.54,195.42 L325.19,194.58 L325.84,193.19 L326.50,191.38 L327.15,188.42 L327.80,184.84 L328.45,180.28 L329.11,175.97 L329.76,168.92 L330.41,161.84 L331.06,154.66 L331.72,145.22 L332.37,136.53 L333.02,129.25 L333.67,120.58 L334.32,114.84 L334.98,109.75 L335.63,105.97 L336.28,105.21 L336.94,107.19 L337.59,109.65 L338.24,114.00 L338.89,120.12 L339.55,127.29 L340.20,134.85 L340.85,142.44 L341.50,151.65 L342.16,158.91 L342.81,166.62 L343.46,174.12 L344.11,179.82 L344.76,184.76 L345.42,189.42 L346.07,193.52 L346.72,195.93 L347.38,198.50 L348.03,200.35 L348.68,202.03 L349.33,203.07 L349.99,203.91 L350.64,204.46 L351.29,204.91 L351.94,205.23 L352.60,205.46 L353.25,205.62 L353.90,205.71 L354.55,205.76 L355.21,205.76 L355.86,205.68 L356.51,205.65 L357.16,205.54 L357.81,205.31 L358.47,204.98 L359.12,204.70 L359.77,204.51 L360.43,204.17 L361.08,203.47 L361.73,203.11 L362.38,202.52 L363.04,202.26 L363.69,201.70 L364.34,200.71 L364.99,200.25 L365.65,199.88 L366.30,198.59 L366.95,198.22 L367.60,197.50 L368.25,197.65 L368.91,196.44 L369.56,196.87 L370.21,195.72 L370.87,195.96 L371.52,195.99 L372.17,195.75 L372.82,195.44 L373.48,196.43 L374.13,196.90 L374.78,196.86 L375.43,197.69 L376.09,198.40 L376.74,199.00 L377.39,199.83 L378.04,200.46 L378.69,201.18 L379.35,202.07 L380.00,202.60 L380.65,203.92 L381.31,204.71 L381.96,205.88 L382.61,206.71 L383.26,207.83 L383.92,208.60 L384.57,209.59 L385.22,210.13 L385.87,211.04 L386.52,211.95 L387.18,212.60 L387.83,213.18 L388.48,214.05 L389.13,214.52 L389.79,215.18 L390.44,215.71 L391.09,216.17 L391.75,216.69 L392.40,217.11 L393.05,217.52 L393.70,217.90 L394.36,218.25 L395.01,218.58 L395.66,218.89 L396.31,219.18 L396.97,219.46 L397.62,219.72 L398.27,219.98 L398.92,220.22 L399.58,220.46 L400.23,220.68 L400.88,220.91 L401.53,221.13 L402.19,221.34 L402.84,221.55 L403.49,221.76 L404.14,221.97 L404.80,222.17 L405.45,222.37 L406.10,222.58 L406.75,222.78 L407.40,222.98 L408.06,223.18 L408.71,223.38 L409.36,223.58 L410.01,223.78 L410.67,223.98 L411.32,224.18 L411.97,224.38 L412.62,224.58 L413.28,224.78 L413.93,224.98 L414.58,225.18 L415.24,225.37 L415.89,225.57 L416.54,225.77 L417.19,225.97 L417.85,226.17 L418.50,226.37 L419.15,226.57 L419.80,226.77 L420.46,226.97 L421.11,227.17 L421.76,227.37 L422.41,227.57 L423.06,227.76 L423.72,227.96 L424.37,228.16 L425.02,228.36 L425.68,228.56 L426.33,228.76 L426.98,228.96 L427.63,229.16 L428.29,229.36 L428.94,229.56 L429.59,229.76 L430.24,229.96 L430.89,230.15 L431.55,230.35 L432.20,230.55 L432.85,230.75 L433.50,230.95 L434.16,231.15 L434.81,231.35 L435.46,231.55 L436.12,231.75 L436.77,231.95 L437.42,232.15 L438.07,232.35 L438.73,232.54 L439.38,232.74 L440.03,232.94 L440.68,233.14 L441.34,233.34 L441.99,233.54 L442.64,233.74 L443.29,233.94 L443.94,234.14 L444.60,234.34 L445.25,234.54 L445.90,234.74 L446.56,234.94 L447.21,235.13 L447.86,235.33 L448.51,235.53 L449.17,235.73 L449.82,235.93 L450.47,236.13 L451.12,236.33 L451.77,236.53 L452.43,236.73 L453.08,236.93 L453.73,237.13 L454.38,237.32 L455.04,237.52 L455.69,237.72 L456.34,237.92 L457.00,238.12 L457.65,238.32 L458.30,238.52 L458.95,238.72 L459.61,238.92 L460.26,239.12 L460.91,239.32 L461.56,239.52 L462.22,239.72 L462.87,239.91 L463.52,240.11 L464.17,240.31 L464.83,240.51 L465.48,240.71 L466.13,240.91 L466.78,241.11 L467.44,241.31 L468.09,241.51 L468.74,241.71 L469.39,241.91 L470.05,242.10 L470.70,242.30 L471.35,242.50 L472.00,242.70 L472.65,242.90 L473.31,243.10 L473.96,243.30" fill="none" stroke="#000" stroke-width="1.9" stroke-linejoin="round" />
<path d="M310.10,202.99 L310.75,203.19 L311.41,203.38 L312.06,203.56 L312.71,203.73 L313.36,203.88 L314.02,204.00 L314.67,204.07 L315.32,204.05 L315.97,203.93 L316.62,203.63 L317.28,203.10 L317.93,202.21 L318.58,200.83 L319.24,199.24 L319.89,196.47 L320.54,193.21 L321.19,189.01 L321.85,184.08 L322.50,177.88 L323.15,170.96 L323.80,162.59 L324.46,153.68 L325.11,143.30 L325.76,134.47 L326.41,125.48 L327.06,117.34 L327.72,109.38 L328.37,104.20 L329.02,101.46 L329.68,101.29 L330.33,102.56 L330.98,105.30 L331.63,109.35 L332.29,115.36 L332.94,121.60 L333.59,129.32 L334.24,136.33 L334.90,144.56 L335.55,153.40 L336.20,161.84 L336.85,168.42 L337.50,176.37 L338.16,182.68 L338.81,188.83 L339.46,193.21 L340.12,197.28 L340.77,200.79 L341.42,203.90 L342.07,206.10 L342.73,208.19 L343.38,209.61 L344.03,210.84 L344.68,211.73 L345.34,212.47 L345.99,213.07 L346.64,213.56 L347.29,213.96 L347.95,214.29 L348.60,214.58 L349.25,214.84 L349.90,215.08 L350.56,215.31 L351.21,215.52 L351.86,215.73 L352.51,215.94 L353.17,216.14 L353.82,216.34 L354.47,216.54 L355.12,216.74 L355.78,216.94 L356.43,217.14 L357.08,217.34 L357.73,217.54 L358.39,217.74 L359.04,217.94 L359.69,218.14 L360.34,218.34 L361.00,218.53 L361.65,218.73 L362.30,218.93 L362.95,219.13 L363.61,219.33 L364.26,219.53 L364.91,219.73 L365.56,219.93 L366.22,220.13 L366.87,220.33 L367.52,220.53 L368.17,220.73 L368.83,220.92 L369.48,221.12 L370.13,221.32 L370.78,221.52 L371.44,221.72 L372.09,221.92 L372.74,222.12 L373.39,222.32 L374.05,222.52 L374.70,222.72 L375.35,222.92 L376.00,223.12 L376.66,223.31 L377.31,223.51 L377.96,223.71 L378.61,223.91 L379.26,224.11 L379.92,224.31 L380.57,224.51 L381.22,224.71 L381.88,224.91 L382.53,225.11 L383.18,225.31 L383.83,225.51 L384.49,225.70 L385.14,225.90 L385.79,226.10 L386.44,226.30 L387.10,226.50 L387.75,226.70 L388.40,226.90 L389.05,227.10 L389.71,227.30 L390.36,227.50 L391.01,227.70 L391.66,227.90 L392.32,228.09 L392.97,228.29 L393.62,228.49 L394.27,228.69 L394.93,228.89 L395.58,229.09 L396.23,229.29 L396.88,229.49 L397.54,229.69 L398.19,229.89 L398.84,230.09 L399.49,230.29 L400.14,230.48 L400.80,230.68 L401.45,230.88 L402.10,231.08 L402.75,231.28 L403.41,231.48 L404.06,231.68 L404.71,231.88 L405.37,232.08 L406.02,232.28 L406.67,232.48 L407.32,232.68 L407.98,232.88 L408.63,233.07 L409.28,233.27 L409.93,233.47 L410.59,233.67 L411.24,233.87 L411.89,234.07 L412.54,234.27 L413.20,234.47 L413.85,234.67 L414.50,234.87 L415.15,235.07 L415.81,235.26 L416.46,235.46 L417.11,235.66 L417.76,235.86 L418.42,236.06 L419.07,236.26 L419.72,236.46 L420.37,236.66 L421.03,236.86 L421.68,237.06 L422.33,237.26 L422.98,237.46 L423.63,237.66 L424.29,237.85 L424.94,238.05 L425.59,238.25 L426.25,238.45 L426.90,238.65 L427.55,238.85 L428.20,239.05 L428.86,239.25 L429.51,239.45 L430.16,239.65 L430.81,239.85 L431.47,240.05 L432.12,240.24 L432.77,240.44 L433.42,240.64 L434.08,240.84 L434.73,241.04 L435.38,241.24 L436.03,241.44 L436.69,241.64 L437.34,241.84 L437.99,242.04 L438.64,242.24 L439.30,242.44 L439.95,242.63 L440.60,242.83 L441.25,243.03 L441.91,243.23 L442.56,243.43 L443.21,243.63 L443.86,243.83 L444.51,244.03 L445.17,244.23 L445.82,244.43 L446.47,244.63 L447.12,244.82 L447.78,245.02 L448.43,245.22 L449.08,245.42 L449.74,245.62 L450.39,245.82 L451.04,246.02 L451.69,246.22 L452.35,246.42 L453.00,246.62 L453.65,246.82 L454.30,247.02 L454.96,247.22 L455.61,247.41 L456.26,247.61 L456.91,247.81 L457.57,248.01 L458.22,248.21 L458.87,248.41 L459.52,248.61 L460.18,248.81 L460.83,249.01 L461.48,249.21 L462.13,249.41 L462.79,249.60 L463.44,249.80 L464.09,250.00 L464.74,250.20 L465.39,250.40 L466.05,250.60 L466.70,250.80 L466.70,250.80 L310.10,203.00 Z" fill="#adadad" stroke="none" stroke-width="1" stroke-linejoin="round" />
<path d="M310.10,202.99 L310.75,203.19 L311.41,203.38 L312.06,203.56 L312.71,203.73 L313.36,203.88 L314.02,204.00 L314.67,204.07 L315.32,204.05 L315.97,203.93 L316.62,203.63 L317.28,203.10 L317.93,202.21 L318.58,200.83 L319.24,199.24 L319.89,196.47 L320.54,193.21 L321.19,189.01 L321.85,184.08 L322.50,177.88 L323.15,170.96 L323.80,162.59 L324.46,153.68 L325.11,143.30 L325.76,134.47 L326.41,125.48 L327.06,117.34 L327.72,109.38 L328.37,104.20 L329.02,101.46 L329.68,101.29 L330.33,102.56 L330.98,105.30 L331.63,109.35 L332.29,115.36 L332.94,121.60 L333.59,129.32 L334.24,136.33 L334.90,144.56 L335.55,153.40 L336.20,161.84 L336.85,168.42 L337.50,176.37 L338.16,182.68 L338.81,188.83 L339.46,193.21 L340.12,197.28 L340.77,200.79 L341.42,203.90 L342.07,206.10 L342.73,208.19 L343.38,209.61 L344.03,210.84 L344.68,211.73 L345.34,212.47 L345.99,213.07 L346.64,213.56 L347.29,213.96 L347.95,214.29 L348.60,214.58 L349.25,214.84 L349.90,215.08 L350.56,215.31 L351.21,215.52 L351.86,215.73 L352.51,215.94 L353.17,216.14 L353.82,216.34 L354.47,216.54 L355.12,216.74 L355.78,216.94 L356.43,217.14 L357.08,217.34 L357.73,217.54 L358.39,217.74 L359.04,217.94 L359.69,218.14 L360.34,218.34 L361.00,218.53 L361.65,218.73 L362.30,218.93 L362.95,219.13 L363.61,219.33 L364.26,219.53 L364.91,219.73 L365.56,219.93 L366.22,220.13 L366.87,220.33 L367.52,220.53 L368.17,220.73 L368.83,220.92 L369.48,221.12 L370.13,221.32 L370.78,221.52 L371.44,221.72 L372.09,221.92 L372.74,222.12 L373.39,222.32 L374.05,222.52 L374.70,222.72 L375.35,222.92 L376.00,223.12 L376.66,223.31 L377.31,223.51 L377.96,223.71 L378.61,223.91 L379.26,224.11 L379.92,224.31 L380.57,224.51 L381.22,224.71 L381.88,224.91 L382.53,225.11 L383.18,225.31 L383.83,225.51 L384.49,225.70 L385.14,225.90 L385.79,226.10 L386.44,226.30 L387.10,226.50 L387.75,226.70 L388.40,226.90 L389.05,227.10 L389.71,227.30 L390.36,227.50 L391.01,227.70 L391.66,227.90 L392.32,228.09 L392.97,228.29 L393.62,228.49 L394.27,228.69 L394.93,228.89 L395.58,229.09 L396.23,229.29 L396.88,229.49 L397.54,229.69 L398.19,229.89 L398.84,230.09 L399.49,230.29 L400.14,230.48 L400.80,230.68 L401.45,230.88 L402.10,231.08 L402.75,231.28 L403.41,231.48 L404.06,231.68 L404.71,231.88 L405.37,232.08 L406.02,232.28 L406.67,232.48 L407.32,232.68 L407.98,232.88 L408.63,233.07 L409.28,233.27 L409.93,233.47 L410.59,233.67 L411.24,233.87 L411.89,234.07 L412.54,234.27 L413.20,234.47 L413.85,234.67 L414.50,234.87 L415.15,235.07 L415.81,235.26 L416.46,235.46 L417.11,235.66 L417.76,235.86 L418.42,236.06 L419.07,236.26 L419.72,236.46 L420.37,236.66 L421.03,236.86 L421.68,237.06 L422.33,237.26 L422.98,237.46 L423.63,237.66 L424.29,237.85 L424.94,238.05 L425.59,238.25 L426.25,238.45 L426.90,238.65 L427.55,238.85 L428.20,239.05 L428.86,239.25 L429.51,239.45 L430.16,239.65 L430.81,239.85 L431.47,240.05 L432.12,240.24 L432.77,240.44 L433.42,240.64 L434.08,240.84 L434.73,241.04 L435.38,241.24 L436.03,241.44 L436.69,241.64 L437.34,241.84 L437.99,242.04 L438.64,242.24 L439.30,242.44 L439.95,242.63 L440.60,242.83 L441.25,243.03 L441.91,243.23 L442.56,243.43 L443.21,243.63 L443.86,243.83 L444.51,244.03 L445.17,244.23 L445.82,244.43 L446.47,244.63 L447.12,244.82 L447.78,245.02 L448.43,245.22 L449.08,245.42 L449.74,245.62 L450.39,245.82 L451.04,246.02 L451.69,246.22 L452.35,246.42 L453.00,246.62 L453.65,246.82 L454.30,247.02 L454.96,247.22 L455.61,247.41 L456.26,247.61 L456.91,247.81 L457.57,248.01 L458.22,248.21 L458.87,248.41 L459.52,248.61 L460.18,248.81 L460.83,249.01 L461.48,249.21 L462.13,249.41 L462.79,249.60 L463.44,249.80 L464.09,250.00 L464.74,250.20 L465.39,250.40 L466.05,250.60 L466.70,250.80" fill="none" stroke="#222" stroke-width="1.5" stroke-linejoin="round" />
<line x1="310.10" y1="203.00" x2="310.10" y2="207.20" stroke="#222" stroke-width="0.9" stroke-linecap="butt" />
<line x1="321.89" y1="206.60" x2="321.89" y2="209.00" stroke="#222" stroke-width="0.9" stroke-linecap="butt" />
<line x1="328.78" y1="208.70" x2="328.78" y2="211.10" stroke="#222" stroke-width="0.9" stroke-linecap="butt" />
<line x1="333.67" y1="210.19" x2="333.67" y2="212.59" stroke="#222" stroke-width="0.9" stroke-linecap="butt" />
<line x1="337.46" y1="211.35" x2="337.46" y2="213.75" stroke="#222" stroke-width="0.9" stroke-linecap="butt" />
<line x1="340.56" y1="212.30" x2="340.56" y2="214.70" stroke="#222" stroke-width="0.9" stroke-linecap="butt" />
<line x1="343.19" y1="213.10" x2="343.19" y2="215.50" stroke="#222" stroke-width="0.9" stroke-linecap="butt" />
<line x1="345.46" y1="213.79" x2="345.46" y2="216.19" stroke="#222" stroke-width="0.9" stroke-linecap="butt" />
<line x1="347.46" y1="214.40" x2="347.46" y2="216.80" stroke="#222" stroke-width="0.9" stroke-linecap="butt" />
<line x1="349.25" y1="214.95" x2="349.25" y2="219.15" stroke="#222" stroke-width="0.9" stroke-linecap="butt" />
<line x1="361.04" y1="218.55" x2="361.04" y2="220.95" stroke="#222" stroke-width="0.9" stroke-linecap="butt" />
<line x1="367.93" y1="220.65" x2="367.93" y2="223.05" stroke="#222" stroke-width="0.9" stroke-linecap="butt" />
<line x1="372.82" y1="222.14" x2="372.82" y2="224.54" stroke="#222" stroke-width="0.9" stroke-linecap="butt" />
<line x1="376.61" y1="223.30" x2="376.61" y2="225.70" stroke="#222" stroke-width="0.9" stroke-linecap="butt" />
<line x1="379.71" y1="224.25" x2="379.71" y2="226.65" stroke="#222" stroke-width="0.9" stroke-linecap="butt" />
<line x1="382.34" y1="225.05" x2="382.34" y2="227.45" stroke="#222" stroke-width="0.9" stroke-linecap="butt" />
<line x1="384.61" y1="225.74" x2="384.61" y2="228.14" stroke="#222" stroke-width="0.9" stroke-linecap="butt" />
<line x1="386.61" y1="226.35" x2="386.61" y2="228.75" stroke="#222" stroke-width="0.9" stroke-linecap="butt" />
<line x1="388.40" y1="226.90" x2="388.40" y2="231.10" stroke="#222" stroke-width="0.9" stroke-linecap="butt" />
<line x1="400.19" y1="230.50" x2="400.19" y2="232.90" stroke="#222" stroke-width="0.9" stroke-linecap="butt" />
<line x1="407.08" y1="232.60" x2="407.08" y2="235.00" stroke="#222" stroke-width="0.9" stroke-linecap="butt" />
<line x1="411.97" y1="234.09" x2="411.97" y2="236.49" stroke="#222" stroke-width="0.9" stroke-linecap="butt" />
<line x1="415.76" y1="235.25" x2="415.76" y2="237.65" stroke="#222" stroke-width="0.9" stroke-linecap="butt" />
<line x1="418.86" y1="236.20" x2="418.86" y2="238.60" stroke="#222" stroke-width="0.9" stroke-linecap="butt" />
<line x1="421.49" y1="237.00" x2="421.49" y2="239.40" stroke="#222" stroke-width="0.9" stroke-linecap="butt" />
<line x1="423.76" y1="237.69" x2="423.76" y2="240.09" stroke="#222" stroke-width="0.9" stroke-linecap="butt" />
<line x1="425.76" y1="238.30" x2="425.76" y2="240.70" stroke="#222" stroke-width="0.9" stroke-linecap="butt" />
<line x1="427.55" y1="238.85" x2="427.55" y2="243.05" stroke="#222" stroke-width="0.9" stroke-linecap="butt" />
<line x1="439.34" y1="242.45" x2="439.34" y2="244.85" stroke="#222" stroke-width="0.9" stroke-linecap="butt" />
<line x1="446.23" y1="244.55" x2="446.23" y2="246.95" stroke="#222" stroke-width="0.9" stroke-linecap="butt" />
<line x1="451.12" y1="246.04" x2="451.12" y2="248.44" stroke="#222" stroke-width="0.9" stroke-linecap="butt" />
<line x1="454.91" y1="247.20" x2="454.91" y2="249.60" stroke="#222" stroke-width="0.9" stroke-linecap="butt" />
<line x1="458.01" y1="248.15" x2="458.01" y2="250.55" stroke="#222" stroke-width="0.9" stroke-linecap="butt" />
<line x1="460.64" y1="248.95" x2="460.64" y2="251.35" stroke="#222" stroke-width="0.9" stroke-linecap="butt" />
<line x1="462.91" y1="249.64" x2="462.91" y2="252.04" stroke="#222" stroke-width="0.9" stroke-linecap="butt" />
<line x1="464.91" y1="250.25" x2="464.91" y2="252.65" stroke="#222" stroke-width="0.9" stroke-linecap="butt" />
<line x1="466.70" y1="250.80" x2="466.70" y2="255.00" stroke="#222" stroke-width="0.9" stroke-linecap="butt" />
<line x1="310.10" y1="203.00" x2="466.70" y2="250.80" stroke="#111" stroke-width="1.0" stroke-linecap="butt" />
<text transform="translate(305.62,67.70) scale(0.946,1)" font-size="9.2" font-weight="bold" fill="#000">MSC, N3a</text>
<text transform="translate(303.20,83.60) scale(0.976,1)" font-size="9.2" font-weight="bold" fill="#000">MSC</text>
<text transform="translate(290.62,98.80) scale(0.947,1)" font-size="9.2" font-weight="bold" fill="#000">DMSO</text>
<line x1="349.10" y1="64.50" x2="362.60" y2="71.30" stroke="#222" stroke-width="0.9" stroke-linecap="butt" />
<line x1="325.90" y1="80.80" x2="345.80" y2="89.70" stroke="#222" stroke-width="0.9" stroke-linecap="butt" />
<line x1="318.50" y1="95.90" x2="327.80" y2="104.90" stroke="#222" stroke-width="0.9" stroke-linecap="butt" />
<line x1="410.20" y1="155.00" x2="402.90" y2="172.50" stroke="#222" stroke-width="0.9" stroke-linecap="butt" />
<rect x="395.80" y="136.70" width="85.50" height="18.30" fill="#fff" stroke="#444" stroke-width="1.1"/>
<text transform="translate(402.51,149.20) scale(0.936,1)" font-size="9.5" font-weight="bold" fill="#000">FI-700, MSC, N3a</text>
<rect x="422.50" y="181.40" width="63.90" height="18.00" fill="#fff" stroke="#444" stroke-width="1.1"/>
<text transform="translate(429.20,193.90) scale(0.941,1)" font-size="9.5" font-weight="bold" fill="#000">FI-700, MSC</text>
<rect x="406.10" y="208.90" width="39.30" height="17.50" fill="#fff" stroke="#444" stroke-width="1.1"/>
<text transform="translate(412.20,221.00) scale(0.950,1)" font-size="9.5" font-weight="bold" fill="#000">FI-700</text>
<text transform="translate(301.56,220.40) scale(1.093,1)" font-size="8.9" fill="#000">10</text>
<text x="312.14" y="216.50" font-size="6.6" fill="#000">0</text>
<text transform="translate(341.36,232.50) scale(1.093,1)" font-size="8.9" fill="#000">10</text>
<text x="351.70" y="228.60" font-size="6.6" fill="#000">1</text>
<text transform="translate(380.26,244.50) scale(1.093,1)" font-size="8.9" fill="#000">10</text>
<text x="390.77" y="240.60" font-size="6.6" fill="#000">2</text>
<text transform="translate(419.76,256.50) scale(1.093,1)" font-size="8.9" fill="#000">10</text>
<text x="430.35" y="252.60" font-size="6.6" fill="#000">3</text>
<text transform="translate(459.26,268.50) scale(1.093,1)" font-size="8.9" fill="#000">10</text>
<text x="469.95" y="264.60" font-size="6.6" fill="#000">4</text>
<text transform="translate(353.34,266.50) scale(1.006,1)" font-size="10.5" font-weight="bold" fill="#000">Active Bax</text>
<line x1="310.10" y1="498.50" x2="346.40" y2="461.00" stroke="#b8b8b8" stroke-width="0.8" stroke-linecap="butt" />
<line x1="349.25" y1="510.45" x2="385.55" y2="472.95" stroke="#b8b8b8" stroke-width="0.8" stroke-linecap="butt" />
<line x1="388.40" y1="522.40" x2="424.70" y2="484.90" stroke="#b8b8b8" stroke-width="0.8" stroke-linecap="butt" />
<line x1="427.55" y1="534.35" x2="463.85" y2="496.85" stroke="#b8b8b8" stroke-width="0.8" stroke-linecap="butt" />
<line x1="466.70" y1="546.30" x2="503.00" y2="508.80" stroke="#b8b8b8" stroke-width="0.8" stroke-linecap="butt" />
<path d="M346.40,461.00 L347.05,461.20 L347.71,461.40 L348.36,461.60 L349.01,461.80 L349.66,462.00 L350.32,462.19 L350.97,462.39 L351.62,462.59 L352.27,462.79 L352.93,462.98 L353.58,463.17 L354.23,463.35 L354.88,463.53 L355.54,463.67 L356.19,463.79 L356.84,463.86 L357.49,463.84 L358.15,463.70 L358.80,463.40 L359.45,462.87 L360.10,462.04 L360.76,460.59 L361.41,458.96 L362.06,456.16 L362.71,452.92 L363.37,449.03 L364.02,443.14 L364.67,437.44 L365.32,429.53 L365.98,421.84 L366.63,412.99 L367.28,403.41 L367.93,393.85 L368.59,386.42 L369.24,378.93 L369.89,372.53 L370.54,368.15 L371.20,366.92 L371.85,367.54 L372.50,368.56 L373.15,373.04 L373.81,376.31 L374.46,382.57 L375.11,389.08 L375.76,396.05 L376.42,403.10 L377.07,409.86 L377.72,418.16 L378.37,424.77 L379.03,431.46 L379.68,438.09 L380.33,443.52 L380.98,449.22 L381.64,453.57 L382.29,457.05 L382.94,459.73 L383.59,462.53 L384.25,464.70 L384.90,466.24 L385.55,467.62 L386.20,468.69 L386.86,469.33 L387.51,469.94 L388.16,470.48 L388.81,470.72 L389.47,470.96 L390.12,471.05 L390.77,471.20 L391.42,471.40 L392.08,471.30 L392.73,471.58 L393.38,471.57 L394.03,471.54 L394.69,471.79 L395.34,471.78 L395.99,472.01 L396.64,471.94 L397.30,472.04 L397.95,472.25 L398.60,472.31 L399.25,472.67 L399.91,472.73 L400.56,472.94 L401.21,473.11 L401.86,473.28 L402.52,473.23 L403.17,473.18 L403.82,473.23 L404.47,472.87 L405.12,472.65 L405.78,471.63 L406.43,470.67 L407.08,469.19 L407.74,467.82 L408.39,466.69 L409.04,464.97 L409.69,463.09 L410.35,462.60 L411.00,461.10 L411.65,461.08 L412.30,461.30 L412.96,461.82 L413.61,461.45 L414.26,463.08 L414.91,463.82 L415.57,464.66 L416.22,465.24 L416.87,467.36 L417.52,468.24 L418.18,469.48 L418.83,470.54 L419.48,471.97 L420.13,473.28 L420.79,474.96 L421.44,476.10 L422.09,477.28 L422.74,478.15 L423.40,479.16 L424.05,480.37 L424.70,481.21 L425.35,481.96 L426.00,482.66 L426.66,483.25 L427.31,483.81 L427.96,484.37 L428.62,484.81 L429.27,485.24 L429.92,485.63 L430.57,485.98 L431.23,486.31 L431.88,486.61 L432.53,486.89 L433.18,487.16 L433.84,487.41 L434.49,487.66 L435.14,487.90 L435.79,488.13 L436.45,488.35 L437.10,488.57 L437.75,488.79 L438.40,489.00 L439.06,489.21 L439.71,489.42 L440.36,489.63 L441.01,489.83 L441.67,490.04 L442.32,490.24 L442.97,490.45 L443.62,490.65 L444.28,490.85 L444.93,491.06 L445.58,491.26 L446.23,491.46 L446.89,491.66 L447.54,491.86 L448.19,492.06 L448.84,492.26 L449.50,492.46 L450.15,492.66 L450.80,492.86 L451.45,493.06 L452.11,493.26 L452.76,493.46 L453.41,493.66 L454.06,493.86 L454.72,494.06 L455.37,494.26 L456.02,494.46 L456.67,494.66 L457.33,494.86 L457.98,495.06 L458.63,495.26 L459.28,495.46 L459.94,495.65 L460.59,495.85 L461.24,496.05 L461.89,496.25 L462.55,496.45 L463.20,496.65 L463.85,496.85 L464.50,497.05 L465.16,497.25 L465.81,497.45 L466.46,497.65 L467.11,497.85 L467.77,498.04 L468.42,498.24 L469.07,498.44 L469.72,498.64 L470.38,498.84 L471.03,499.04 L471.68,499.24 L472.33,499.44 L472.99,499.64 L473.64,499.84 L474.29,500.04 L474.94,500.24 L475.60,500.43 L476.25,500.63 L476.90,500.83 L477.55,501.03 L478.21,501.23 L478.86,501.43 L479.51,501.63 L480.16,501.83 L480.82,502.03 L481.47,502.23 L482.12,502.43 L482.77,502.63 L483.43,502.82 L484.08,503.02 L484.73,503.22 L485.38,503.42 L486.04,503.62 L486.69,503.82 L487.34,504.02 L487.99,504.22 L488.65,504.42 L489.30,504.62 L489.95,504.82 L490.60,505.02 L491.25,505.21 L491.91,505.41 L492.56,505.61 L493.21,505.81 L493.87,506.01 L494.52,506.21 L495.17,506.41 L495.82,506.61 L496.48,506.81 L497.13,507.01 L497.78,507.21 L498.43,507.41 L499.09,507.60 L499.74,507.80 L500.39,508.00 L501.04,508.20 L501.70,508.40 L502.35,508.60 L503.00,508.80 L503.00,508.80 L346.40,461.00 Z" fill="#ababab" stroke="none" stroke-width="1" stroke-linejoin="round" />
<path d="M346.40,461.00 L347.05,461.20 L347.71,461.40 L348.36,461.60 L349.01,461.80 L349.66,462.00 L350.32,462.19 L350.97,462.39 L351.62,462.59 L352.27,462.79 L352.93,462.98 L353.58,463.17 L354.23,463.35 L354.88,463.53 L355.54,463.67 L356.19,463.79 L356.84,463.86 L357.49,463.84 L358.15,463.70 L358.80,463.40 L359.45,462.87 L360.10,462.04 L360.76,460.59 L361.41,458.96 L362.06,456.16 L362.71,452.92 L363.37,449.03 L364.02,443.14 L364.67,437.44 L365.32,429.53 L365.98,421.84 L366.63,412.99 L367.28,403.41 L367.93,393.85 L368.59,386.42 L369.24,378.93 L369.89,372.53 L370.54,368.15 L371.20,366.92 L371.85,367.54 L372.50,368.56 L373.15,373.04 L373.81,376.31 L374.46,382.57 L375.11,389.08 L375.76,396.05 L376.42,403.10 L377.07,409.86 L377.72,418.16 L378.37,424.77 L379.03,431.46 L379.68,438.09 L380.33,443.52 L380.98,449.22 L381.64,453.57 L382.29,457.05 L382.94,459.73 L383.59,462.53 L384.25,464.70 L384.90,466.24 L385.55,467.62 L386.20,468.69 L386.86,469.33 L387.51,469.94 L388.16,470.48 L388.81,470.72 L389.47,470.96 L390.12,471.05 L390.77,471.20 L391.42,471.40 L392.08,471.30 L392.73,471.58 L393.38,471.57 L394.03,471.54 L394.69,471.79 L395.34,471.78 L395.99,472.01 L396.64,471.94 L397.30,472.04 L397.95,472.25 L398.60,472.31 L399.25,472.67 L399.91,472.73 L400.56,472.94 L401.21,473.11 L401.86,473.28 L402.52,473.23 L403.17,473.18 L403.82,473.23 L404.47,472.87 L405.12,472.65 L405.78,471.63 L406.43,470.67 L407.08,469.19 L407.74,467.82 L408.39,466.69 L409.04,464.97 L409.69,463.09 L410.35,462.60 L411.00,461.10 L411.65,461.08 L412.30,461.30 L412.96,461.82 L413.61,461.45 L414.26,463.08 L414.91,463.82 L415.57,464.66 L416.22,465.24 L416.87,467.36 L417.52,468.24 L418.18,469.48 L418.83,470.54 L419.48,471.97 L420.13,473.28 L420.79,474.96 L421.44,476.10 L422.09,477.28 L422.74,478.15 L423.40,479.16 L424.05,480.37 L424.70,481.21 L425.35,481.96 L426.00,482.66 L426.66,483.25 L427.31,483.81 L427.96,484.37 L428.62,484.81 L429.27,485.24 L429.92,485.63 L430.57,485.98 L431.23,486.31 L431.88,486.61 L432.53,486.89 L433.18,487.16 L433.84,487.41 L434.49,487.66 L435.14,487.90 L435.79,488.13 L436.45,488.35 L437.10,488.57 L437.75,488.79 L438.40,489.00 L439.06,489.21 L439.71,489.42 L440.36,489.63 L441.01,489.83 L441.67,490.04 L442.32,490.24 L442.97,490.45 L443.62,490.65 L444.28,490.85 L444.93,491.06 L445.58,491.26 L446.23,491.46 L446.89,491.66 L447.54,491.86 L448.19,492.06 L448.84,492.26 L449.50,492.46 L450.15,492.66 L450.80,492.86 L451.45,493.06 L452.11,493.26 L452.76,493.46 L453.41,493.66 L454.06,493.86 L454.72,494.06 L455.37,494.26 L456.02,494.46 L456.67,494.66 L457.33,494.86 L457.98,495.06 L458.63,495.26 L459.28,495.46 L459.94,495.65 L460.59,495.85 L461.24,496.05 L461.89,496.25 L462.55,496.45 L463.20,496.65 L463.85,496.85 L464.50,497.05 L465.16,497.25 L465.81,497.45 L466.46,497.65 L467.11,497.85 L467.77,498.04 L468.42,498.24 L469.07,498.44 L469.72,498.64 L470.38,498.84 L471.03,499.04 L471.68,499.24 L472.33,499.44 L472.99,499.64 L473.64,499.84 L474.29,500.04 L474.94,500.24 L475.60,500.43 L476.25,500.63 L476.90,500.83 L477.55,501.03 L478.21,501.23 L478.86,501.43 L479.51,501.63 L480.16,501.83 L480.82,502.03 L481.47,502.23 L482.12,502.43 L482.77,502.63 L483.43,502.82 L484.08,503.02 L484.73,503.22 L485.38,503.42 L486.04,503.62 L486.69,503.82 L487.34,504.02 L487.99,504.22 L488.65,504.42 L489.30,504.62 L489.95,504.82 L490.60,505.02 L491.25,505.21 L491.91,505.41 L492.56,505.61 L493.21,505.81 L493.87,506.01 L494.52,506.21 L495.17,506.41 L495.82,506.61 L496.48,506.81 L497.13,507.01 L497.78,507.21 L498.43,507.41 L499.09,507.60 L499.74,507.80 L500.39,508.00 L501.04,508.20 L501.70,508.40 L502.35,508.60 L503.00,508.80" fill="none" stroke="#111" stroke-width="1.8" stroke-linejoin="round" />
<path d="M339.14,468.50 L339.79,468.70 L340.45,468.90 L341.10,469.10 L341.75,469.30 L342.40,469.49 L343.06,469.69 L343.71,469.89 L344.36,470.08 L345.01,470.28 L345.67,470.46 L346.32,470.63 L346.97,470.79 L347.62,470.91 L348.28,470.99 L348.93,470.99 L349.58,470.89 L350.23,470.62 L350.89,470.19 L351.54,469.33 L352.19,468.13 L352.84,466.31 L353.50,463.63 L354.15,460.54 L354.80,456.57 L355.45,451.31 L356.11,445.07 L356.76,438.79 L357.41,429.57 L358.06,421.03 L358.72,411.83 L359.37,402.89 L360.02,394.91 L360.67,387.31 L361.33,381.57 L361.98,376.51 L362.63,375.12 L363.28,375.13 L363.94,376.50 L364.59,379.50 L365.24,383.45 L365.89,389.14 L366.55,395.39 L367.20,402.04 L367.85,409.40 L368.50,416.53 L369.16,424.49 L369.81,430.59 L370.46,437.88 L371.11,444.97 L371.77,450.69 L372.42,455.80 L373.07,460.37 L373.72,464.57 L374.38,467.27 L375.03,470.07 L375.68,472.73 L376.33,474.63 L376.99,476.28 L377.64,477.49 L378.29,478.42 L378.94,479.19 L379.60,479.82 L380.25,480.34 L380.90,480.76 L381.55,481.12 L382.21,481.43 L382.86,481.70 L383.51,481.95 L384.16,482.18 L384.82,482.41 L385.47,482.62 L386.12,482.83 L386.77,483.03 L387.43,483.23 L388.08,483.43 L388.73,483.64 L389.38,483.83 L390.04,484.03 L390.69,484.23 L391.34,484.43 L391.99,484.63 L392.65,484.83 L393.30,485.03 L393.95,485.23 L394.60,485.43 L395.26,485.63 L395.91,485.83 L396.56,486.03 L397.21,486.23 L397.87,486.42 L398.52,486.62 L399.17,486.82 L399.82,487.02 L400.48,487.22 L401.13,487.42 L401.78,487.62 L402.43,487.82 L403.09,488.02 L403.74,488.22 L404.39,488.42 L405.04,488.62 L405.70,488.81 L406.35,489.01 L407.00,489.21 L407.65,489.41 L408.31,489.61 L408.96,489.81 L409.61,490.01 L410.26,490.21 L410.92,490.41 L411.57,490.61 L412.22,490.81 L412.87,491.01 L413.53,491.20 L414.18,491.40 L414.83,491.60 L415.48,491.80 L416.14,492.00 L416.79,492.20 L417.44,492.40 L418.09,492.60 L418.75,492.80 L419.40,493.00 L420.05,493.20 L420.70,493.40 L421.36,493.60 L422.01,493.79 L422.66,493.99 L423.31,494.19 L423.97,494.39 L424.62,494.59 L425.27,494.79 L425.92,494.99 L426.58,495.19 L427.23,495.39 L427.88,495.59 L428.53,495.79 L429.19,495.99 L429.84,496.18 L430.49,496.38 L431.14,496.58 L431.80,496.78 L432.45,496.98 L433.10,497.18 L433.75,497.38 L434.41,497.58 L435.06,497.78 L435.71,497.98 L436.36,498.18 L437.02,498.38 L437.67,498.57 L438.32,498.77 L438.97,498.97 L439.63,499.17 L440.28,499.37 L440.93,499.57 L441.58,499.77 L442.24,499.97 L442.89,500.17 L443.54,500.37 L444.19,500.57 L444.85,500.76 L445.50,500.96 L446.15,501.16 L446.80,501.36 L447.46,501.56 L448.11,501.76 L448.76,501.96 L449.41,502.16 L450.07,502.36 L450.72,502.56 L451.37,502.76 L452.02,502.96 L452.68,503.15 L453.33,503.35 L453.98,503.55 L454.63,503.75 L455.29,503.95 L455.94,504.15 L456.59,504.35 L457.24,504.55 L457.90,504.75 L458.55,504.95 L459.20,505.15 L459.85,505.35 L460.51,505.55 L461.16,505.74 L461.81,505.94 L462.46,506.14 L463.12,506.34 L463.77,506.54 L464.42,506.74 L465.07,506.94 L465.73,507.14 L466.38,507.34 L467.03,507.54 L467.68,507.74 L468.34,507.94 L468.99,508.13 L469.64,508.33 L470.29,508.53 L470.95,508.73 L471.60,508.93 L472.25,509.13 L472.90,509.33 L473.56,509.53 L474.21,509.73 L474.86,509.93 L475.51,510.13 L476.17,510.32 L476.82,510.52 L477.47,510.72 L478.12,510.92 L478.78,511.12 L479.43,511.32 L480.08,511.52 L480.73,511.72 L481.39,511.92 L482.04,512.12 L482.69,512.32 L483.34,512.52 L484.00,512.72 L484.65,512.91 L485.30,513.11 L485.95,513.31 L486.61,513.51 L487.26,513.71 L487.91,513.91 L488.56,514.11 L489.22,514.31 L489.87,514.51 L490.52,514.71 L491.17,514.91 L491.83,515.11 L492.48,515.30 L493.13,515.50 L493.78,515.70 L494.44,515.90 L495.09,516.10 L495.74,516.30 L495.74,516.30 L339.14,468.50 Z" fill="#c2c2c2" stroke="none" stroke-width="1" stroke-linejoin="round" />
<path d="M339.14,468.50 L339.79,468.70 L340.45,468.90 L341.10,469.10 L341.75,469.30 L342.40,469.49 L343.06,469.69 L343.71,469.89 L344.36,470.08 L345.01,470.28 L345.67,470.46 L346.32,470.63 L346.97,470.79 L347.62,470.91 L348.28,470.99 L348.93,470.99 L349.58,470.89 L350.23,470.62 L350.89,470.19 L351.54,469.33 L352.19,468.13 L352.84,466.31 L353.50,463.63 L354.15,460.54 L354.80,456.57 L355.45,451.31 L356.11,445.07 L356.76,438.79 L357.41,429.57 L358.06,421.03 L358.72,411.83 L359.37,402.89 L360.02,394.91 L360.67,387.31 L361.33,381.57 L361.98,376.51 L362.63,375.12 L363.28,375.13 L363.94,376.50 L364.59,379.50 L365.24,383.45 L365.89,389.14 L366.55,395.39 L367.20,402.04 L367.85,409.40 L368.50,416.53 L369.16,424.49 L369.81,430.59 L370.46,437.88 L371.11,444.97 L371.77,450.69 L372.42,455.80 L373.07,460.37 L373.72,464.57 L374.38,467.27 L375.03,470.07 L375.68,472.73 L376.33,474.63 L376.99,476.28 L377.64,477.49 L378.29,478.42 L378.94,479.19 L379.60,479.82 L380.25,480.34 L380.90,480.76 L381.55,481.12 L382.21,481.43 L382.86,481.70 L383.51,481.95 L384.16,482.18 L384.82,482.41 L385.47,482.62 L386.12,482.83 L386.77,483.03 L387.43,483.23 L388.08,483.43 L388.73,483.64 L389.38,483.83 L390.04,484.03 L390.69,484.23 L391.34,484.43 L391.99,484.63 L392.65,484.83 L393.30,485.03 L393.95,485.23 L394.60,485.43 L395.26,485.63 L395.91,485.83 L396.56,486.03 L397.21,486.23 L397.87,486.42 L398.52,486.62 L399.17,486.82 L399.82,487.02 L400.48,487.22 L401.13,487.42 L401.78,487.62 L402.43,487.82 L403.09,488.02 L403.74,488.22 L404.39,488.42 L405.04,488.62 L405.70,488.81 L406.35,489.01 L407.00,489.21 L407.65,489.41 L408.31,489.61 L408.96,489.81 L409.61,490.01 L410.26,490.21 L410.92,490.41 L411.57,490.61 L412.22,490.81 L412.87,491.01 L413.53,491.20 L414.18,491.40 L414.83,491.60 L415.48,491.80 L416.14,492.00 L416.79,492.20 L417.44,492.40 L418.09,492.60 L418.75,492.80 L419.40,493.00 L420.05,493.20 L420.70,493.40 L421.36,493.60 L422.01,493.79 L422.66,493.99 L423.31,494.19 L423.97,494.39 L424.62,494.59 L425.27,494.79 L425.92,494.99 L426.58,495.19 L427.23,495.39 L427.88,495.59 L428.53,495.79 L429.19,495.99 L429.84,496.18 L430.49,496.38 L431.14,496.58 L431.80,496.78 L432.45,496.98 L433.10,497.18 L433.75,497.38 L434.41,497.58 L435.06,497.78 L435.71,497.98 L436.36,498.18 L437.02,498.38 L437.67,498.57 L438.32,498.77 L438.97,498.97 L439.63,499.17 L440.28,499.37 L440.93,499.57 L441.58,499.77 L442.24,499.97 L442.89,500.17 L443.54,500.37 L444.19,500.57 L444.85,500.76 L445.50,500.96 L446.15,501.16 L446.80,501.36 L447.46,501.56 L448.11,501.76 L448.76,501.96 L449.41,502.16 L450.07,502.36 L450.72,502.56 L451.37,502.76 L452.02,502.96 L452.68,503.15 L453.33,503.35 L453.98,503.55 L454.63,503.75 L455.29,503.95 L455.94,504.15 L456.59,504.35 L457.24,504.55 L457.90,504.75 L458.55,504.95 L459.20,505.15 L459.85,505.35 L460.51,505.55 L461.16,505.74 L461.81,505.94 L462.46,506.14 L463.12,506.34 L463.77,506.54 L464.42,506.74 L465.07,506.94 L465.73,507.14 L466.38,507.34 L467.03,507.54 L467.68,507.74 L468.34,507.94 L468.99,508.13 L469.64,508.33 L470.29,508.53 L470.95,508.73 L471.60,508.93 L472.25,509.13 L472.90,509.33 L473.56,509.53 L474.21,509.73 L474.86,509.93 L475.51,510.13 L476.17,510.32 L476.82,510.52 L477.47,510.72 L478.12,510.92 L478.78,511.12 L479.43,511.32 L480.08,511.52 L480.73,511.72 L481.39,511.92 L482.04,512.12 L482.69,512.32 L483.34,512.52 L484.00,512.72 L484.65,512.91 L485.30,513.11 L485.95,513.31 L486.61,513.51 L487.26,513.71 L487.91,513.91 L488.56,514.11 L489.22,514.31 L489.87,514.51 L490.52,514.71 L491.17,514.91 L491.83,515.11 L492.48,515.30 L493.13,515.50 L493.78,515.70 L494.44,515.90 L495.09,516.10 L495.74,516.30" fill="none" stroke="#444" stroke-width="1.5" stroke-linejoin="round" />
<path d="M331.88,476.00 L332.53,476.20 L333.19,476.40 L333.84,476.60 L334.49,476.80 L335.14,476.99 L335.80,477.19 L336.45,477.39 L337.10,477.58 L337.75,477.77 L338.40,477.96 L339.06,478.13 L339.71,478.28 L340.36,478.40 L341.01,478.46 L341.67,478.45 L342.32,478.32 L342.97,478.01 L343.62,477.50 L344.28,476.52 L344.93,475.39 L345.58,473.64 L346.24,470.56 L346.89,467.47 L347.54,463.64 L348.19,457.84 L348.84,452.23 L349.50,444.21 L350.15,435.40 L350.80,426.76 L351.45,417.90 L352.11,409.52 L352.76,400.96 L353.41,393.88 L354.06,387.18 L354.72,383.56 L355.37,381.43 L356.02,382.36 L356.68,384.13 L357.33,386.11 L357.98,389.76 L358.63,394.80 L359.28,400.53 L359.94,406.80 L360.59,413.64 L361.24,421.32 L361.89,427.94 L362.55,435.10 L363.20,442.24 L363.85,448.56 L364.50,454.08 L365.16,459.46 L365.81,463.66 L366.46,467.60 L367.12,471.94 L367.77,474.71 L368.42,477.45 L369.07,479.80 L369.73,481.97 L370.38,483.55 L371.03,484.79 L371.68,485.81 L372.33,486.63 L372.99,487.28 L373.64,487.84 L374.29,488.30 L374.94,488.70 L375.60,489.04 L376.25,489.33 L376.90,489.60 L377.56,489.85 L378.21,490.08 L378.86,490.30 L379.51,490.51 L380.17,490.72 L380.82,490.93 L381.47,491.13 L382.12,491.33 L382.77,491.53 L383.43,491.73 L384.08,491.93 L384.73,492.13 L385.38,492.32 L386.04,492.51 L386.69,492.70 L387.34,492.88 L388.00,493.04 L388.65,493.18 L389.30,493.29 L389.95,493.35 L390.61,493.36 L391.26,493.30 L391.91,493.14 L392.56,492.86 L393.21,492.43 L393.87,491.92 L394.52,491.37 L395.17,490.60 L395.82,489.74 L396.48,489.24 L397.13,488.19 L397.78,487.35 L398.44,486.90 L399.09,486.61 L399.74,486.75 L400.39,487.16 L401.04,487.07 L401.70,487.83 L402.35,488.08 L403.00,488.64 L403.65,489.73 L404.31,490.52 L404.96,491.09 L405.61,492.07 L406.26,493.17 L406.92,494.04 L407.57,494.85 L408.22,495.44 L408.88,496.24 L409.53,497.08 L410.18,497.62 L410.83,498.21 L411.49,498.82 L412.14,499.32 L412.79,499.76 L413.44,500.17 L414.10,500.53 L414.75,500.87 L415.40,501.17 L416.05,501.45 L416.70,501.72 L417.36,501.96 L418.01,502.20 L418.66,502.43 L419.31,502.64 L419.97,502.86 L420.62,503.07 L421.27,503.27 L421.92,503.48 L422.58,503.68 L423.23,503.88 L423.88,504.08 L424.53,504.28 L425.19,504.48 L425.84,504.68 L426.49,504.88 L427.14,505.08 L427.80,505.28 L428.45,505.48 L429.10,505.68 L429.75,505.87 L430.41,506.07 L431.06,506.27 L431.71,506.47 L432.37,506.67 L433.02,506.87 L433.67,507.07 L434.32,507.27 L434.98,507.47 L435.63,507.67 L436.28,507.87 L436.93,508.07 L437.58,508.26 L438.24,508.46 L438.89,508.66 L439.54,508.86 L440.19,509.06 L440.85,509.26 L441.50,509.46 L442.15,509.66 L442.81,509.86 L443.46,510.06 L444.11,510.26 L444.76,510.46 L445.41,510.65 L446.07,510.85 L446.72,511.05 L447.37,511.25 L448.02,511.45 L448.68,511.65 L449.33,511.85 L449.98,512.05 L450.63,512.25 L451.29,512.45 L451.94,512.65 L452.59,512.85 L453.25,513.04 L453.90,513.24 L454.55,513.44 L455.20,513.64 L455.86,513.84 L456.51,514.04 L457.16,514.24 L457.81,514.44 L458.46,514.64 L459.12,514.84 L459.77,515.04 L460.42,515.24 L461.07,515.43 L461.73,515.63 L462.38,515.83 L463.03,516.03 L463.69,516.23 L464.34,516.43 L464.99,516.63 L465.64,516.83 L466.29,517.03 L466.95,517.23 L467.60,517.43 L468.25,517.63 L468.90,517.83 L469.56,518.02 L470.21,518.22 L470.86,518.42 L471.51,518.62 L472.17,518.82 L472.82,519.02 L473.47,519.22 L474.12,519.42 L474.78,519.62 L475.43,519.82 L476.08,520.02 L476.74,520.22 L477.39,520.41 L478.04,520.61 L478.69,520.81 L479.35,521.01 L480.00,521.21 L480.65,521.41 L481.30,521.61 L481.95,521.81 L482.61,522.01 L483.26,522.21 L483.91,522.41 L484.56,522.61 L485.22,522.80 L485.87,523.00 L486.52,523.20 L487.17,523.40 L487.83,523.60 L488.48,523.80 L488.48,523.80 L331.88,476.00 Z" fill="#c6c6c6" stroke="none" stroke-width="1" stroke-linejoin="round" />
<path d="M331.88,476.00 L332.53,476.20 L333.19,476.40 L333.84,476.60 L334.49,476.80 L335.14,476.99 L335.80,477.19 L336.45,477.39 L337.10,477.58 L337.75,477.77 L338.40,477.96 L339.06,478.13 L339.71,478.28 L340.36,478.40 L341.01,478.46 L341.67,478.45 L342.32,478.32 L342.97,478.01 L343.62,477.50 L344.28,476.52 L344.93,475.39 L345.58,473.64 L346.24,470.56 L346.89,467.47 L347.54,463.64 L348.19,457.84 L348.84,452.23 L349.50,444.21 L350.15,435.40 L350.80,426.76 L351.45,417.90 L352.11,409.52 L352.76,400.96 L353.41,393.88 L354.06,387.18 L354.72,383.56 L355.37,381.43 L356.02,382.36 L356.68,384.13 L357.33,386.11 L357.98,389.76 L358.63,394.80 L359.28,400.53 L359.94,406.80 L360.59,413.64 L361.24,421.32 L361.89,427.94 L362.55,435.10 L363.20,442.24 L363.85,448.56 L364.50,454.08 L365.16,459.46 L365.81,463.66 L366.46,467.60 L367.12,471.94 L367.77,474.71 L368.42,477.45 L369.07,479.80 L369.73,481.97 L370.38,483.55 L371.03,484.79 L371.68,485.81 L372.33,486.63 L372.99,487.28 L373.64,487.84 L374.29,488.30 L374.94,488.70 L375.60,489.04 L376.25,489.33 L376.90,489.60 L377.56,489.85 L378.21,490.08 L378.86,490.30 L379.51,490.51 L380.17,490.72 L380.82,490.93 L381.47,491.13 L382.12,491.33 L382.77,491.53 L383.43,491.73 L384.08,491.93 L384.73,492.13 L385.38,492.32 L386.04,492.51 L386.69,492.70 L387.34,492.88 L388.00,493.04 L388.65,493.18 L389.30,493.29 L389.95,493.35 L390.61,493.36 L391.26,493.30 L391.91,493.14 L392.56,492.86 L393.21,492.43 L393.87,491.92 L394.52,491.37 L395.17,490.60 L395.82,489.74 L396.48,489.24 L397.13,488.19 L397.78,487.35 L398.44,486.90 L399.09,486.61 L399.74,486.75 L400.39,487.16 L401.04,487.07 L401.70,487.83 L402.35,488.08 L403.00,488.64 L403.65,489.73 L404.31,490.52 L404.96,491.09 L405.61,492.07 L406.26,493.17 L406.92,494.04 L407.57,494.85 L408.22,495.44 L408.88,496.24 L409.53,497.08 L410.18,497.62 L410.83,498.21 L411.49,498.82 L412.14,499.32 L412.79,499.76 L413.44,500.17 L414.10,500.53 L414.75,500.87 L415.40,501.17 L416.05,501.45 L416.70,501.72 L417.36,501.96 L418.01,502.20 L418.66,502.43 L419.31,502.64 L419.97,502.86 L420.62,503.07 L421.27,503.27 L421.92,503.48 L422.58,503.68 L423.23,503.88 L423.88,504.08 L424.53,504.28 L425.19,504.48 L425.84,504.68 L426.49,504.88 L427.14,505.08 L427.80,505.28 L428.45,505.48 L429.10,505.68 L429.75,505.87 L430.41,506.07 L431.06,506.27 L431.71,506.47 L432.37,506.67 L433.02,506.87 L433.67,507.07 L434.32,507.27 L434.98,507.47 L435.63,507.67 L436.28,507.87 L436.93,508.07 L437.58,508.26 L438.24,508.46 L438.89,508.66 L439.54,508.86 L440.19,509.06 L440.85,509.26 L441.50,509.46 L442.15,509.66 L442.81,509.86 L443.46,510.06 L444.11,510.26 L444.76,510.46 L445.41,510.65 L446.07,510.85 L446.72,511.05 L447.37,511.25 L448.02,511.45 L448.68,511.65 L449.33,511.85 L449.98,512.05 L450.63,512.25 L451.29,512.45 L451.94,512.65 L452.59,512.85 L453.25,513.04 L453.90,513.24 L454.55,513.44 L455.20,513.64 L455.86,513.84 L456.51,514.04 L457.16,514.24 L457.81,514.44 L458.46,514.64 L459.12,514.84 L459.77,515.04 L460.42,515.24 L461.07,515.43 L461.73,515.63 L462.38,515.83 L463.03,516.03 L463.69,516.23 L464.34,516.43 L464.99,516.63 L465.64,516.83 L466.29,517.03 L466.95,517.23 L467.60,517.43 L468.25,517.63 L468.90,517.83 L469.56,518.02 L470.21,518.22 L470.86,518.42 L471.51,518.62 L472.17,518.82 L472.82,519.02 L473.47,519.22 L474.12,519.42 L474.78,519.62 L475.43,519.82 L476.08,520.02 L476.74,520.22 L477.39,520.41 L478.04,520.61 L478.69,520.81 L479.35,521.01 L480.00,521.21 L480.65,521.41 L481.30,521.61 L481.95,521.81 L482.61,522.01 L483.26,522.21 L483.91,522.41 L484.56,522.61 L485.22,522.80 L485.87,523.00 L486.52,523.20 L487.17,523.40 L487.83,523.60 L488.48,523.80" fill="none" stroke="#444" stroke-width="1.6" stroke-linejoin="round" />
<path d="M324.62,483.50 L325.27,483.70 L325.93,483.90 L326.58,484.10 L327.23,484.30 L327.88,484.49 L328.54,484.69 L329.19,484.89 L329.84,485.08 L330.49,485.27 L331.14,485.45 L331.80,485.62 L332.45,485.76 L333.10,485.87 L333.75,485.93 L334.41,485.89 L335.06,485.73 L335.71,485.39 L336.37,484.77 L337.02,483.88 L337.67,482.43 L338.32,480.66 L338.98,478.14 L339.63,473.85 L340.28,469.67 L340.93,464.40 L341.58,457.39 L342.24,450.71 L342.89,441.92 L343.54,433.27 L344.19,425.21 L344.85,416.45 L345.50,408.36 L346.15,401.54 L346.81,395.75 L347.46,392.83 L348.11,391.40 L348.76,392.53 L349.42,393.55 L350.07,397.75 L350.72,402.18 L351.37,407.58 L352.02,413.50 L352.68,421.10 L353.33,427.66 L353.98,435.61 L354.63,442.85 L355.29,449.87 L355.94,457.17 L356.59,462.66 L357.25,468.52 L357.90,473.65 L358.55,476.86 L359.20,481.16 L359.86,483.96 L360.51,486.38 L361.16,488.59 L361.81,490.38 L362.47,491.70 L363.12,492.81 L363.77,493.67 L364.42,494.41 L365.07,494.99 L365.73,495.45 L366.38,495.84 L367.03,496.18 L367.69,496.47 L368.34,496.73 L368.99,496.97 L369.64,497.20 L370.30,497.41 L370.95,497.62 L371.60,497.83 L372.25,498.03 L372.91,498.23 L373.56,498.44 L374.21,498.64 L374.86,498.84 L375.51,499.03 L376.17,499.23 L376.82,499.43 L377.47,499.63 L378.12,499.83 L378.78,500.03 L379.43,500.23 L380.08,500.43 L380.74,500.63 L381.39,500.83 L382.04,501.03 L382.69,501.23 L383.35,501.42 L384.00,501.62 L384.65,501.82 L385.30,502.02 L385.95,502.22 L386.61,502.42 L387.26,502.62 L387.91,502.82 L388.56,503.02 L389.22,503.22 L389.87,503.42 L390.52,503.62 L391.18,503.81 L391.83,504.01 L392.48,504.21 L393.13,504.41 L393.78,504.61 L394.44,504.81 L395.09,505.01 L395.74,505.21 L396.39,505.41 L397.05,505.61 L397.70,505.81 L398.35,506.01 L399.00,506.20 L399.66,506.40 L400.31,506.60 L400.96,506.80 L401.62,507.00 L402.27,507.20 L402.92,507.40 L403.57,507.60 L404.23,507.80 L404.88,508.00 L405.53,508.20 L406.18,508.40 L406.84,508.60 L407.49,508.79 L408.14,508.99 L408.79,509.19 L409.44,509.39 L410.10,509.59 L410.75,509.79 L411.40,509.99 L412.06,510.19 L412.71,510.39 L413.36,510.59 L414.01,510.79 L414.66,510.99 L415.32,511.18 L415.97,511.38 L416.62,511.58 L417.27,511.78 L417.93,511.98 L418.58,512.18 L419.23,512.38 L419.88,512.58 L420.54,512.78 L421.19,512.98 L421.84,513.18 L422.50,513.38 L423.15,513.57 L423.80,513.77 L424.45,513.97 L425.11,514.17 L425.76,514.37 L426.41,514.57 L427.06,514.77 L427.72,514.97 L428.37,515.17 L429.02,515.37 L429.67,515.57 L430.32,515.76 L430.98,515.96 L431.63,516.16 L432.28,516.36 L432.94,516.56 L433.59,516.76 L434.24,516.96 L434.89,517.16 L435.55,517.36 L436.20,517.56 L436.85,517.76 L437.50,517.96 L438.15,518.15 L438.81,518.35 L439.46,518.55 L440.11,518.75 L440.76,518.95 L441.42,519.15 L442.07,519.35 L442.72,519.55 L443.38,519.75 L444.03,519.95 L444.68,520.15 L445.33,520.35 L445.99,520.54 L446.64,520.74 L447.29,520.94 L447.94,521.14 L448.60,521.34 L449.25,521.54 L449.90,521.74 L450.55,521.94 L451.20,522.14 L451.86,522.34 L452.51,522.54 L453.16,522.74 L453.81,522.93 L454.47,523.13 L455.12,523.33 L455.77,523.53 L456.43,523.73 L457.08,523.93 L457.73,524.13 L458.38,524.33 L459.03,524.53 L459.69,524.73 L460.34,524.93 L460.99,525.13 L461.64,525.33 L462.30,525.52 L462.95,525.72 L463.60,525.92 L464.25,526.12 L464.91,526.32 L465.56,526.52 L466.21,526.72 L466.87,526.92 L467.52,527.12 L468.17,527.32 L468.82,527.52 L469.48,527.72 L470.13,527.91 L470.78,528.11 L471.43,528.31 L472.09,528.51 L472.74,528.71 L473.39,528.91 L474.04,529.11 L474.69,529.31 L475.35,529.51 L476.00,529.71 L476.65,529.91 L477.31,530.11 L477.96,530.30 L478.61,530.50 L479.26,530.70 L479.91,530.90 L480.57,531.10 L481.22,531.30 L481.22,531.30 L324.62,483.50 Z" fill="#d8d8d8" stroke="none" stroke-width="1" stroke-linejoin="round" />
<path d="M324.62,483.50 L325.27,483.70 L325.93,483.90 L326.58,484.10 L327.23,484.30 L327.88,484.49 L328.54,484.69 L329.19,484.89 L329.84,485.08 L330.49,485.27 L331.14,485.45 L331.80,485.62 L332.45,485.76 L333.10,485.87 L333.75,485.93 L334.41,485.89 L335.06,485.73 L335.71,485.39 L336.37,484.77 L337.02,483.88 L337.67,482.43 L338.32,480.66 L338.98,478.14 L339.63,473.85 L340.28,469.67 L340.93,464.40 L341.58,457.39 L342.24,450.71 L342.89,441.92 L343.54,433.27 L344.19,425.21 L344.85,416.45 L345.50,408.36 L346.15,401.54 L346.81,395.75 L347.46,392.83 L348.11,391.40 L348.76,392.53 L349.42,393.55 L350.07,397.75 L350.72,402.18 L351.37,407.58 L352.02,413.50 L352.68,421.10 L353.33,427.66 L353.98,435.61 L354.63,442.85 L355.29,449.87 L355.94,457.17 L356.59,462.66 L357.25,468.52 L357.90,473.65 L358.55,476.86 L359.20,481.16 L359.86,483.96 L360.51,486.38 L361.16,488.59 L361.81,490.38 L362.47,491.70 L363.12,492.81 L363.77,493.67 L364.42,494.41 L365.07,494.99 L365.73,495.45 L366.38,495.84 L367.03,496.18 L367.69,496.47 L368.34,496.73 L368.99,496.97 L369.64,497.20 L370.30,497.41 L370.95,497.62 L371.60,497.83 L372.25,498.03 L372.91,498.23 L373.56,498.44 L374.21,498.64 L374.86,498.84 L375.51,499.03 L376.17,499.23 L376.82,499.43 L377.47,499.63 L378.12,499.83 L378.78,500.03 L379.43,500.23 L380.08,500.43 L380.74,500.63 L381.39,500.83 L382.04,501.03 L382.69,501.23 L383.35,501.42 L384.00,501.62 L384.65,501.82 L385.30,502.02 L385.95,502.22 L386.61,502.42 L387.26,502.62 L387.91,502.82 L388.56,503.02 L389.22,503.22 L389.87,503.42 L390.52,503.62 L391.18,503.81 L391.83,504.01 L392.48,504.21 L393.13,504.41 L393.78,504.61 L394.44,504.81 L395.09,505.01 L395.74,505.21 L396.39,505.41 L397.05,505.61 L397.70,505.81 L398.35,506.01 L399.00,506.20 L399.66,506.40 L400.31,506.60 L400.96,506.80 L401.62,507.00 L402.27,507.20 L402.92,507.40 L403.57,507.60 L404.23,507.80 L404.88,508.00 L405.53,508.20 L406.18,508.40 L406.84,508.60 L407.49,508.79 L408.14,508.99 L408.79,509.19 L409.44,509.39 L410.10,509.59 L410.75,509.79 L411.40,509.99 L412.06,510.19 L412.71,510.39 L413.36,510.59 L414.01,510.79 L414.66,510.99 L415.32,511.18 L415.97,511.38 L416.62,511.58 L417.27,511.78 L417.93,511.98 L418.58,512.18 L419.23,512.38 L419.88,512.58 L420.54,512.78 L421.19,512.98 L421.84,513.18 L422.50,513.38 L423.15,513.57 L423.80,513.77 L424.45,513.97 L425.11,514.17 L425.76,514.37 L426.41,514.57 L427.06,514.77 L427.72,514.97 L428.37,515.17 L429.02,515.37 L429.67,515.57 L430.32,515.76 L430.98,515.96 L431.63,516.16 L432.28,516.36 L432.94,516.56 L433.59,516.76 L434.24,516.96 L434.89,517.16 L435.55,517.36 L436.20,517.56 L436.85,517.76 L437.50,517.96 L438.15,518.15 L438.81,518.35 L439.46,518.55 L440.11,518.75 L440.76,518.95 L441.42,519.15 L442.07,519.35 L442.72,519.55 L443.38,519.75 L444.03,519.95 L444.68,520.15 L445.33,520.35 L445.99,520.54 L446.64,520.74 L447.29,520.94 L447.94,521.14 L448.60,521.34 L449.25,521.54 L449.90,521.74 L450.55,521.94 L451.20,522.14 L451.86,522.34 L452.51,522.54 L453.16,522.74 L453.81,522.93 L454.47,523.13 L455.12,523.33 L455.77,523.53 L456.43,523.73 L457.08,523.93 L457.73,524.13 L458.38,524.33 L459.03,524.53 L459.69,524.73 L460.34,524.93 L460.99,525.13 L461.64,525.33 L462.30,525.52 L462.95,525.72 L463.60,525.92 L464.25,526.12 L464.91,526.32 L465.56,526.52 L466.21,526.72 L466.87,526.92 L467.52,527.12 L468.17,527.32 L468.82,527.52 L469.48,527.72 L470.13,527.91 L470.78,528.11 L471.43,528.31 L472.09,528.51 L472.74,528.71 L473.39,528.91 L474.04,529.11 L474.69,529.31 L475.35,529.51 L476.00,529.71 L476.65,529.91 L477.31,530.11 L477.96,530.30 L478.61,530.50 L479.26,530.70 L479.91,530.90 L480.57,531.10 L481.22,531.30" fill="none" stroke="#8a8a8a" stroke-width="1.4" stroke-linejoin="round" />
<path d="M317.36,491.00 L318.01,491.20 L318.67,491.40 L319.32,491.60 L319.97,491.80 L320.62,491.99 L321.28,492.19 L321.93,492.38 L322.58,492.57 L323.23,492.75 L323.88,492.92 L324.54,493.07 L325.19,493.18 L325.84,493.23 L326.50,493.20 L327.15,493.04 L327.80,492.69 L328.45,492.16 L329.11,491.13 L329.76,489.83 L330.41,487.87 L331.06,484.88 L331.72,481.54 L332.37,477.00 L333.02,471.24 L333.67,464.52 L334.32,457.71 L334.98,449.19 L335.63,440.49 L336.28,431.42 L336.94,422.30 L337.59,414.44 L338.24,407.26 L338.89,401.87 L339.55,397.70 L340.20,396.72 L340.85,396.98 L341.50,398.38 L342.16,401.74 L342.81,404.59 L343.46,408.10 L344.11,412.96 L344.76,419.21 L345.42,424.93 L346.07,430.47 L346.72,437.14 L347.38,443.10 L348.03,449.47 L348.68,454.59 L349.33,460.13 L349.99,465.35 L350.64,471.40 L351.29,475.21 L351.94,479.45 L352.60,483.87 L353.25,486.31 L353.90,489.22 L354.55,492.35 L355.21,494.06 L355.86,496.22 L356.51,497.75 L357.16,498.93 L357.81,500.11 L358.47,501.17 L359.12,501.90 L359.77,502.55 L360.43,503.10 L361.08,503.57 L361.73,503.98 L362.38,504.33 L363.04,504.64 L363.69,504.92 L364.34,505.18 L364.99,505.41 L365.65,505.63 L366.30,505.82 L366.95,505.98 L367.60,506.11 L368.25,506.19 L368.91,506.18 L369.56,506.07 L370.21,505.80 L370.87,505.31 L371.52,504.56 L372.17,503.45 L372.82,501.78 L373.48,499.29 L374.13,496.83 L374.78,492.53 L375.43,487.91 L376.09,482.76 L376.74,475.61 L377.39,467.58 L378.04,459.37 L378.69,451.12 L379.35,440.74 L380.00,432.10 L380.65,423.51 L381.31,417.40 L381.96,411.24 L382.61,407.35 L383.26,404.04 L383.92,404.49 L384.57,406.27 L385.22,409.14 L385.87,413.19 L386.52,419.20 L387.18,426.67 L387.83,433.95 L388.48,440.10 L389.13,447.65 L389.79,454.11 L390.44,461.07 L391.09,466.59 L391.75,470.56 L392.40,475.20 L393.05,479.48 L393.70,481.65 L394.36,485.03 L395.01,487.29 L395.66,490.43 L396.31,491.21 L396.97,493.98 L397.62,494.41 L398.27,496.44 L398.92,498.00 L399.58,499.12 L400.23,500.09 L400.88,502.16 L401.53,503.63 L402.19,504.59 L402.84,506.13 L403.49,507.48 L404.14,508.65 L404.80,509.87 L405.45,510.89 L406.10,511.89 L406.75,512.87 L407.40,513.64 L408.06,514.65 L408.71,515.38 L409.36,516.17 L410.01,516.80 L410.67,517.45 L411.32,517.96 L411.97,518.43 L412.62,518.89 L413.28,519.31 L413.93,519.69 L414.58,520.05 L415.24,520.37 L415.89,520.68 L416.54,520.96 L417.19,521.23 L417.85,521.48 L418.50,521.72 L419.15,521.96 L419.80,522.18 L420.46,522.40 L421.11,522.62 L421.76,522.83 L422.41,523.04 L423.06,523.25 L423.72,523.45 L424.37,523.65 L425.02,523.86 L425.68,524.06 L426.33,524.26 L426.98,524.46 L427.63,524.66 L428.29,524.86 L428.94,525.06 L429.59,525.26 L430.24,525.46 L430.89,525.65 L431.55,525.85 L432.20,526.05 L432.85,526.25 L433.50,526.45 L434.16,526.65 L434.81,526.85 L435.46,527.05 L436.12,527.25 L436.77,527.45 L437.42,527.65 L438.07,527.85 L438.73,528.04 L439.38,528.24 L440.03,528.44 L440.68,528.64 L441.34,528.84 L441.99,529.04 L442.64,529.24 L443.29,529.44 L443.94,529.64 L444.60,529.84 L445.25,530.04 L445.90,530.24 L446.56,530.43 L447.21,530.63 L447.86,530.83 L448.51,531.03 L449.17,531.23 L449.82,531.43 L450.47,531.63 L451.12,531.83 L451.77,532.03 L452.43,532.23 L453.08,532.43 L453.73,532.63 L454.38,532.82 L455.04,533.02 L455.69,533.22 L456.34,533.42 L457.00,533.62 L457.65,533.82 L458.30,534.02 L458.95,534.22 L459.61,534.42 L460.26,534.62 L460.91,534.82 L461.56,535.02 L462.22,535.22 L462.87,535.41 L463.52,535.61 L464.17,535.81 L464.83,536.01 L465.48,536.21 L466.13,536.41 L466.78,536.61 L467.44,536.81 L468.09,537.01 L468.74,537.21 L469.39,537.41 L470.05,537.61 L470.70,537.80 L471.35,538.00 L472.00,538.20 L472.65,538.40 L473.31,538.60 L473.96,538.80 L473.96,538.80 L317.36,491.00 Z" fill="#a0a0a0" stroke="none" stroke-width="1" stroke-linejoin="round" />
<path d="M317.36,491.00 L318.01,491.20 L318.67,491.40 L319.32,491.60 L319.97,491.80 L320.62,491.99 L321.28,492.19 L321.93,492.38 L322.58,492.57 L323.23,492.75 L323.88,492.92 L324.54,493.07 L325.19,493.18 L325.84,493.23 L326.50,493.20 L327.15,493.04 L327.80,492.69 L328.45,492.16 L329.11,491.13 L329.76,489.83 L330.41,487.87 L331.06,484.88 L331.72,481.54 L332.37,477.00 L333.02,471.24 L333.67,464.52 L334.32,457.71 L334.98,449.19 L335.63,440.49 L336.28,431.42 L336.94,422.30 L337.59,414.44 L338.24,407.26 L338.89,401.87 L339.55,397.70 L340.20,396.72 L340.85,396.98 L341.50,398.38 L342.16,401.74 L342.81,404.59 L343.46,408.10 L344.11,412.96 L344.76,419.21 L345.42,424.93 L346.07,430.47 L346.72,437.14 L347.38,443.10 L348.03,449.47 L348.68,454.59 L349.33,460.13 L349.99,465.35 L350.64,471.40 L351.29,475.21 L351.94,479.45 L352.60,483.87 L353.25,486.31 L353.90,489.22 L354.55,492.35 L355.21,494.06 L355.86,496.22 L356.51,497.75 L357.16,498.93 L357.81,500.11 L358.47,501.17 L359.12,501.90 L359.77,502.55 L360.43,503.10 L361.08,503.57 L361.73,503.98 L362.38,504.33 L363.04,504.64 L363.69,504.92 L364.34,505.18 L364.99,505.41 L365.65,505.63 L366.30,505.82 L366.95,505.98 L367.60,506.11 L368.25,506.19 L368.91,506.18 L369.56,506.07 L370.21,505.80 L370.87,505.31 L371.52,504.56 L372.17,503.45 L372.82,501.78 L373.48,499.29 L374.13,496.83 L374.78,492.53 L375.43,487.91 L376.09,482.76 L376.74,475.61 L377.39,467.58 L378.04,459.37 L378.69,451.12 L379.35,440.74 L380.00,432.10 L380.65,423.51 L381.31,417.40 L381.96,411.24 L382.61,407.35 L383.26,404.04 L383.92,404.49 L384.57,406.27 L385.22,409.14 L385.87,413.19 L386.52,419.20 L387.18,426.67 L387.83,433.95 L388.48,440.10 L389.13,447.65 L389.79,454.11 L390.44,461.07 L391.09,466.59 L391.75,470.56 L392.40,475.20 L393.05,479.48 L393.70,481.65 L394.36,485.03 L395.01,487.29 L395.66,490.43 L396.31,491.21 L396.97,493.98 L397.62,494.41 L398.27,496.44 L398.92,498.00 L399.58,499.12 L400.23,500.09 L400.88,502.16 L401.53,503.63 L402.19,504.59 L402.84,506.13 L403.49,507.48 L404.14,508.65 L404.80,509.87 L405.45,510.89 L406.10,511.89 L406.75,512.87 L407.40,513.64 L408.06,514.65 L408.71,515.38 L409.36,516.17 L410.01,516.80 L410.67,517.45 L411.32,517.96 L411.97,518.43 L412.62,518.89 L413.28,519.31 L413.93,519.69 L414.58,520.05 L415.24,520.37 L415.89,520.68 L416.54,520.96 L417.19,521.23 L417.85,521.48 L418.50,521.72 L419.15,521.96 L419.80,522.18 L420.46,522.40 L421.11,522.62 L421.76,522.83 L422.41,523.04 L423.06,523.25 L423.72,523.45 L424.37,523.65 L425.02,523.86 L425.68,524.06 L426.33,524.26 L426.98,524.46 L427.63,524.66 L428.29,524.86 L428.94,525.06 L429.59,525.26 L430.24,525.46 L430.89,525.65 L431.55,525.85 L432.20,526.05 L432.85,526.25 L433.50,526.45 L434.16,526.65 L434.81,526.85 L435.46,527.05 L436.12,527.25 L436.77,527.45 L437.42,527.65 L438.07,527.85 L438.73,528.04 L439.38,528.24 L440.03,528.44 L440.68,528.64 L441.34,528.84 L441.99,529.04 L442.64,529.24 L443.29,529.44 L443.94,529.64 L444.60,529.84 L445.25,530.04 L445.90,530.24 L446.56,530.43 L447.21,530.63 L447.86,530.83 L448.51,531.03 L449.17,531.23 L449.82,531.43 L450.47,531.63 L451.12,531.83 L451.77,532.03 L452.43,532.23 L453.08,532.43 L453.73,532.63 L454.38,532.82 L455.04,533.02 L455.69,533.22 L456.34,533.42 L457.00,533.62 L457.65,533.82 L458.30,534.02 L458.95,534.22 L459.61,534.42 L460.26,534.62 L460.91,534.82 L461.56,535.02 L462.22,535.22 L462.87,535.41 L463.52,535.61 L464.17,535.81 L464.83,536.01 L465.48,536.21 L466.13,536.41 L466.78,536.61 L467.44,536.81 L468.09,537.01 L468.74,537.21 L469.39,537.41 L470.05,537.61 L470.70,537.80 L471.35,538.00 L472.00,538.20 L472.65,538.40 L473.31,538.60 L473.96,538.80" fill="none" stroke="#000" stroke-width="1.9" stroke-linejoin="round" />
<path d="M310.10,498.47 L310.75,498.66 L311.41,498.84 L312.06,499.00 L312.71,499.15 L313.36,499.28 L314.02,499.38 L314.67,499.44 L315.32,499.44 L315.97,499.37 L316.62,499.20 L317.28,498.97 L317.93,498.42 L318.58,497.81 L319.24,497.03 L319.89,495.78 L320.54,494.05 L321.19,492.64 L321.85,489.79 L322.50,487.31 L323.15,483.91 L323.80,479.55 L324.46,475.72 L325.11,470.57 L325.76,464.81 L326.41,458.44 L327.06,453.02 L327.72,445.78 L328.37,439.30 L329.02,432.82 L329.68,426.81 L330.33,421.00 L330.98,416.16 L331.63,411.62 L332.29,408.23 L332.94,404.93 L333.59,404.44 L334.24,404.61 L334.90,405.66 L335.55,406.34 L336.20,408.81 L336.85,412.32 L337.50,416.73 L338.16,421.21 L338.81,426.04 L339.46,431.07 L340.12,437.02 L340.77,442.30 L341.42,448.32 L342.07,453.07 L342.73,458.67 L343.38,464.71 L344.03,470.33 L344.68,474.23 L345.34,479.73 L345.99,483.89 L346.64,488.25 L347.29,491.20 L347.95,494.21 L348.60,496.96 L349.25,499.65 L349.90,501.56 L350.56,503.68 L351.21,505.13 L351.86,506.55 L352.51,507.62 L353.17,508.69 L353.82,509.53 L354.47,510.21 L355.12,510.80 L355.78,511.34 L356.43,511.80 L357.08,512.21 L357.73,512.57 L358.39,512.89 L359.04,513.18 L359.69,513.45 L360.34,513.70 L361.00,513.94 L361.65,514.17 L362.30,514.38 L362.95,514.60 L363.61,514.81 L364.26,515.01 L364.91,515.22 L365.56,515.42 L366.22,515.62 L366.87,515.82 L367.52,516.02 L368.17,516.22 L368.83,516.42 L369.48,516.62 L370.13,516.82 L370.78,517.02 L371.44,517.22 L372.09,517.42 L372.74,517.62 L373.39,517.82 L374.05,518.02 L374.70,518.22 L375.35,518.42 L376.00,518.62 L376.66,518.81 L377.31,519.01 L377.96,519.21 L378.61,519.41 L379.26,519.61 L379.92,519.81 L380.57,520.01 L381.22,520.21 L381.88,520.41 L382.53,520.61 L383.18,520.81 L383.83,521.01 L384.49,521.20 L385.14,521.40 L385.79,521.60 L386.44,521.80 L387.10,522.00 L387.75,522.20 L388.40,522.40 L389.05,522.60 L389.71,522.80 L390.36,523.00 L391.01,523.20 L391.66,523.40 L392.32,523.59 L392.97,523.79 L393.62,523.99 L394.27,524.19 L394.93,524.39 L395.58,524.59 L396.23,524.79 L396.88,524.99 L397.54,525.19 L398.19,525.39 L398.84,525.59 L399.49,525.79 L400.14,525.99 L400.80,526.18 L401.45,526.38 L402.10,526.58 L402.75,526.78 L403.41,526.98 L404.06,527.18 L404.71,527.38 L405.37,527.58 L406.02,527.78 L406.67,527.98 L407.32,528.18 L407.98,528.38 L408.63,528.57 L409.28,528.77 L409.93,528.97 L410.59,529.17 L411.24,529.37 L411.89,529.57 L412.54,529.77 L413.20,529.97 L413.85,530.17 L414.50,530.37 L415.15,530.57 L415.81,530.76 L416.46,530.96 L417.11,531.16 L417.76,531.36 L418.42,531.56 L419.07,531.76 L419.72,531.96 L420.37,532.16 L421.03,532.36 L421.68,532.56 L422.33,532.76 L422.98,532.96 L423.63,533.15 L424.29,533.35 L424.94,533.55 L425.59,533.75 L426.25,533.95 L426.90,534.15 L427.55,534.35 L428.20,534.55 L428.86,534.75 L429.51,534.95 L430.16,535.15 L430.81,535.35 L431.47,535.54 L432.12,535.74 L432.77,535.94 L433.42,536.14 L434.08,536.34 L434.73,536.54 L435.38,536.74 L436.03,536.94 L436.69,537.14 L437.34,537.34 L437.99,537.54 L438.64,537.74 L439.30,537.93 L439.95,538.13 L440.60,538.33 L441.25,538.53 L441.91,538.73 L442.56,538.93 L443.21,539.13 L443.86,539.33 L444.51,539.53 L445.17,539.73 L445.82,539.93 L446.47,540.13 L447.12,540.33 L447.78,540.52 L448.43,540.72 L449.08,540.92 L449.74,541.12 L450.39,541.32 L451.04,541.52 L451.69,541.72 L452.35,541.92 L453.00,542.12 L453.65,542.32 L454.30,542.52 L454.96,542.72 L455.61,542.91 L456.26,543.11 L456.91,543.31 L457.57,543.51 L458.22,543.71 L458.87,543.91 L459.52,544.11 L460.18,544.31 L460.83,544.51 L461.48,544.71 L462.13,544.91 L462.79,545.11 L463.44,545.30 L464.09,545.50 L464.74,545.70 L465.39,545.90 L466.05,546.10 L466.70,546.30 L466.70,546.30 L310.10,498.50 Z" fill="#adadad" stroke="none" stroke-width="1" stroke-linejoin="round" />
<path d="M310.10,498.47 L310.75,498.66 L311.41,498.84 L312.06,499.00 L312.71,499.15 L313.36,499.28 L314.02,499.38 L314.67,499.44 L315.32,499.44 L315.97,499.37 L316.62,499.20 L317.28,498.97 L317.93,498.42 L318.58,497.81 L319.24,497.03 L319.89,495.78 L320.54,494.05 L321.19,492.64 L321.85,489.79 L322.50,487.31 L323.15,483.91 L323.80,479.55 L324.46,475.72 L325.11,470.57 L325.76,464.81 L326.41,458.44 L327.06,453.02 L327.72,445.78 L328.37,439.30 L329.02,432.82 L329.68,426.81 L330.33,421.00 L330.98,416.16 L331.63,411.62 L332.29,408.23 L332.94,404.93 L333.59,404.44 L334.24,404.61 L334.90,405.66 L335.55,406.34 L336.20,408.81 L336.85,412.32 L337.50,416.73 L338.16,421.21 L338.81,426.04 L339.46,431.07 L340.12,437.02 L340.77,442.30 L341.42,448.32 L342.07,453.07 L342.73,458.67 L343.38,464.71 L344.03,470.33 L344.68,474.23 L345.34,479.73 L345.99,483.89 L346.64,488.25 L347.29,491.20 L347.95,494.21 L348.60,496.96 L349.25,499.65 L349.90,501.56 L350.56,503.68 L351.21,505.13 L351.86,506.55 L352.51,507.62 L353.17,508.69 L353.82,509.53 L354.47,510.21 L355.12,510.80 L355.78,511.34 L356.43,511.80 L357.08,512.21 L357.73,512.57 L358.39,512.89 L359.04,513.18 L359.69,513.45 L360.34,513.70 L361.00,513.94 L361.65,514.17 L362.30,514.38 L362.95,514.60 L363.61,514.81 L364.26,515.01 L364.91,515.22 L365.56,515.42 L366.22,515.62 L366.87,515.82 L367.52,516.02 L368.17,516.22 L368.83,516.42 L369.48,516.62 L370.13,516.82 L370.78,517.02 L371.44,517.22 L372.09,517.42 L372.74,517.62 L373.39,517.82 L374.05,518.02 L374.70,518.22 L375.35,518.42 L376.00,518.62 L376.66,518.81 L377.31,519.01 L377.96,519.21 L378.61,519.41 L379.26,519.61 L379.92,519.81 L380.57,520.01 L381.22,520.21 L381.88,520.41 L382.53,520.61 L383.18,520.81 L383.83,521.01 L384.49,521.20 L385.14,521.40 L385.79,521.60 L386.44,521.80 L387.10,522.00 L387.75,522.20 L388.40,522.40 L389.05,522.60 L389.71,522.80 L390.36,523.00 L391.01,523.20 L391.66,523.40 L392.32,523.59 L392.97,523.79 L393.62,523.99 L394.27,524.19 L394.93,524.39 L395.58,524.59 L396.23,524.79 L396.88,524.99 L397.54,525.19 L398.19,525.39 L398.84,525.59 L399.49,525.79 L400.14,525.99 L400.80,526.18 L401.45,526.38 L402.10,526.58 L402.75,526.78 L403.41,526.98 L404.06,527.18 L404.71,527.38 L405.37,527.58 L406.02,527.78 L406.67,527.98 L407.32,528.18 L407.98,528.38 L408.63,528.57 L409.28,528.77 L409.93,528.97 L410.59,529.17 L411.24,529.37 L411.89,529.57 L412.54,529.77 L413.20,529.97 L413.85,530.17 L414.50,530.37 L415.15,530.57 L415.81,530.76 L416.46,530.96 L417.11,531.16 L417.76,531.36 L418.42,531.56 L419.07,531.76 L419.72,531.96 L420.37,532.16 L421.03,532.36 L421.68,532.56 L422.33,532.76 L422.98,532.96 L423.63,533.15 L424.29,533.35 L424.94,533.55 L425.59,533.75 L426.25,533.95 L426.90,534.15 L427.55,534.35 L428.20,534.55 L428.86,534.75 L429.51,534.95 L430.16,535.15 L430.81,535.35 L431.47,535.54 L432.12,535.74 L432.77,535.94 L433.42,536.14 L434.08,536.34 L434.73,536.54 L435.38,536.74 L436.03,536.94 L436.69,537.14 L437.34,537.34 L437.99,537.54 L438.64,537.74 L439.30,537.93 L439.95,538.13 L440.60,538.33 L441.25,538.53 L441.91,538.73 L442.56,538.93 L443.21,539.13 L443.86,539.33 L444.51,539.53 L445.17,539.73 L445.82,539.93 L446.47,540.13 L447.12,540.33 L447.78,540.52 L448.43,540.72 L449.08,540.92 L449.74,541.12 L450.39,541.32 L451.04,541.52 L451.69,541.72 L452.35,541.92 L453.00,542.12 L453.65,542.32 L454.30,542.52 L454.96,542.72 L455.61,542.91 L456.26,543.11 L456.91,543.31 L457.57,543.51 L458.22,543.71 L458.87,543.91 L459.52,544.11 L460.18,544.31 L460.83,544.51 L461.48,544.71 L462.13,544.91 L462.79,545.11 L463.44,545.30 L464.09,545.50 L464.74,545.70 L465.39,545.90 L466.05,546.10 L466.70,546.30" fill="none" stroke="#222" stroke-width="1.5" stroke-linejoin="round" />
<line x1="310.10" y1="498.50" x2="310.10" y2="502.70" stroke="#222" stroke-width="0.9" stroke-linecap="butt" />
<line x1="321.89" y1="502.10" x2="321.89" y2="504.50" stroke="#222" stroke-width="0.9" stroke-linecap="butt" />
<line x1="328.78" y1="504.20" x2="328.78" y2="506.60" stroke="#222" stroke-width="0.9" stroke-linecap="butt" />
<line x1="333.67" y1="505.69" x2="333.67" y2="508.09" stroke="#222" stroke-width="0.9" stroke-linecap="butt" />
<line x1="337.46" y1="506.85" x2="337.46" y2="509.25" stroke="#222" stroke-width="0.9" stroke-linecap="butt" />
<line x1="340.56" y1="507.80" x2="340.56" y2="510.20" stroke="#222" stroke-width="0.9" stroke-linecap="butt" />
<line x1="343.19" y1="508.60" x2="343.19" y2="511.00" stroke="#222" stroke-width="0.9" stroke-linecap="butt" />
<line x1="345.46" y1="509.29" x2="345.46" y2="511.69" stroke="#222" stroke-width="0.9" stroke-linecap="butt" />
<line x1="347.46" y1="509.90" x2="347.46" y2="512.30" stroke="#222" stroke-width="0.9" stroke-linecap="butt" />
<line x1="349.25" y1="510.45" x2="349.25" y2="514.65" stroke="#222" stroke-width="0.9" stroke-linecap="butt" />
<line x1="361.04" y1="514.05" x2="361.04" y2="516.45" stroke="#222" stroke-width="0.9" stroke-linecap="butt" />
<line x1="367.93" y1="516.15" x2="367.93" y2="518.55" stroke="#222" stroke-width="0.9" stroke-linecap="butt" />
<line x1="372.82" y1="517.64" x2="372.82" y2="520.04" stroke="#222" stroke-width="0.9" stroke-linecap="butt" />
<line x1="376.61" y1="518.80" x2="376.61" y2="521.20" stroke="#222" stroke-width="0.9" stroke-linecap="butt" />
<line x1="379.71" y1="519.75" x2="379.71" y2="522.15" stroke="#222" stroke-width="0.9" stroke-linecap="butt" />
<line x1="382.34" y1="520.55" x2="382.34" y2="522.95" stroke="#222" stroke-width="0.9" stroke-linecap="butt" />
<line x1="384.61" y1="521.24" x2="384.61" y2="523.64" stroke="#222" stroke-width="0.9" stroke-linecap="butt" />
<line x1="386.61" y1="521.85" x2="386.61" y2="524.25" stroke="#222" stroke-width="0.9" stroke-linecap="butt" />
<line x1="388.40" y1="522.40" x2="388.40" y2="526.60" stroke="#222" stroke-width="0.9" stroke-linecap="butt" />
<line x1="400.19" y1="526.00" x2="400.19" y2="528.40" stroke="#222" stroke-width="0.9" stroke-linecap="butt" />
<line x1="407.08" y1="528.10" x2="407.08" y2="530.50" stroke="#222" stroke-width="0.9" stroke-linecap="butt" />
<line x1="411.97" y1="529.59" x2="411.97" y2="531.99" stroke="#222" stroke-width="0.9" stroke-linecap="butt" />
<line x1="415.76" y1="530.75" x2="415.76" y2="533.15" stroke="#222" stroke-width="0.9" stroke-linecap="butt" />
<line x1="418.86" y1="531.70" x2="418.86" y2="534.10" stroke="#222" stroke-width="0.9" stroke-linecap="butt" />
<line x1="421.49" y1="532.50" x2="421.49" y2="534.90" stroke="#222" stroke-width="0.9" stroke-linecap="butt" />
<line x1="423.76" y1="533.19" x2="423.76" y2="535.59" stroke="#222" stroke-width="0.9" stroke-linecap="butt" />
<line x1="425.76" y1="533.80" x2="425.76" y2="536.20" stroke="#222" stroke-width="0.9" stroke-linecap="butt" />
<line x1="427.55" y1="534.35" x2="427.55" y2="538.55" stroke="#222" stroke-width="0.9" stroke-linecap="butt" />
<line x1="439.34" y1="537.95" x2="439.34" y2="540.35" stroke="#222" stroke-width="0.9" stroke-linecap="butt" />
<line x1="446.23" y1="540.05" x2="446.23" y2="542.45" stroke="#222" stroke-width="0.9" stroke-linecap="butt" />
<line x1="451.12" y1="541.54" x2="451.12" y2="543.94" stroke="#222" stroke-width="0.9" stroke-linecap="butt" />
<line x1="454.91" y1="542.70" x2="454.91" y2="545.10" stroke="#222" stroke-width="0.9" stroke-linecap="butt" />
<line x1="458.01" y1="543.65" x2="458.01" y2="546.05" stroke="#222" stroke-width="0.9" stroke-linecap="butt" />
<line x1="460.64" y1="544.45" x2="460.64" y2="546.85" stroke="#222" stroke-width="0.9" stroke-linecap="butt" />
<line x1="462.91" y1="545.14" x2="462.91" y2="547.54" stroke="#222" stroke-width="0.9" stroke-linecap="butt" />
<line x1="464.91" y1="545.75" x2="464.91" y2="548.15" stroke="#222" stroke-width="0.9" stroke-linecap="butt" />
<line x1="466.70" y1="546.30" x2="466.70" y2="550.50" stroke="#222" stroke-width="0.9" stroke-linecap="butt" />
<line x1="310.10" y1="498.50" x2="466.70" y2="546.30" stroke="#111" stroke-width="1.0" stroke-linecap="butt" />
<text transform="translate(304.61,373.30) scale(0.960,1)" font-size="9.2" font-weight="bold" fill="#000">MSC, N3a</text>
<text transform="translate(304.62,389.80) scale(0.950,1)" font-size="9.2" font-weight="bold" fill="#000">MSC</text>
<text transform="translate(294.10,412.00) scale(0.978,1)" font-size="9.2" font-weight="bold" fill="#000">DMSO</text>
<line x1="347.50" y1="370.70" x2="360.90" y2="377.50" stroke="#222" stroke-width="0.9" stroke-linecap="butt" />
<line x1="327.00" y1="387.00" x2="346.70" y2="394.80" stroke="#222" stroke-width="0.9" stroke-linecap="butt" />
<line x1="322.20" y1="409.20" x2="330.20" y2="418.80" stroke="#222" stroke-width="0.9" stroke-linecap="butt" />
<line x1="422.00" y1="442.40" x2="412.70" y2="460.80" stroke="#222" stroke-width="0.9" stroke-linecap="butt" />
<rect x="405.80" y="424.60" width="86.10" height="17.40" fill="#fff" stroke="#444" stroke-width="1.1"/>
<text transform="translate(412.60,437.00) scale(0.938,1)" font-size="9.5" font-weight="bold" fill="#000">FI-700, MSC, N3a</text>
<rect x="424.20" y="488.90" width="64.00" height="17.60" fill="#fff" stroke="#444" stroke-width="1.1"/>
<text transform="translate(430.91,501.00) scale(0.935,1)" font-size="9.5" font-weight="bold" fill="#000">FI-700, MSC</text>
<rect x="417.30" y="515.00" width="38.80" height="16.90" fill="#fff" stroke="#444" stroke-width="1.1"/>
<text transform="translate(423.40,527.00) scale(0.946,1)" font-size="9.5" font-weight="bold" fill="#000">FI-700</text>
<text transform="translate(300.46,515.60) scale(1.093,1)" font-size="8.9" fill="#000">10</text>
<text x="311.04" y="511.70" font-size="6.6" fill="#000">0</text>
<text transform="translate(339.26,527.70) scale(1.093,1)" font-size="8.9" fill="#000">10</text>
<text x="349.60" y="523.80" font-size="6.6" fill="#000">1</text>
<text transform="translate(379.06,540.80) scale(1.093,1)" font-size="8.9" fill="#000">10</text>
<text x="389.57" y="536.90" font-size="6.6" fill="#000">2</text>
<text transform="translate(418.86,553.70) scale(1.093,1)" font-size="8.9" fill="#000">10</text>
<text x="429.45" y="549.80" font-size="6.6" fill="#000">3</text>
<text transform="translate(456.96,565.80) scale(1.093,1)" font-size="8.9" fill="#000">10</text>
<text x="467.65" y="561.90" font-size="6.6" fill="#000">4</text>
<text transform="translate(336.77,569.20) scale(1.007,1)" font-size="10.5" font-weight="bold" fill="#000">Cleaved Caspase-3</text>
<text x="22.03" y="614.20" font-size="26" font-weight="bold" fill="#000">C</text>
<text transform="translate(197.38,632.70) scale(1.001,1)" font-size="22" fill="#000">Ctrl-Med</text>
<text transform="translate(358.01,633.40) scale(0.992,1)" font-size="22" fill="#000">N-MSC</text>
<line x1="192.00" y1="645.20" x2="285.50" y2="645.20" stroke="#000" stroke-width="2.2" stroke-linecap="butt" />
<line x1="306.10" y1="645.80" x2="492.20" y2="645.80" stroke="#000" stroke-width="2.2" stroke-linecap="butt" />
<text transform="translate(11.52,671.50) scale(1.013,1)" font-size="19" fill="#000">N3a pretreatment</text>
<text transform="translate(108.53,696.20) scale(1.005,1)" font-size="19" fill="#000">FI-700</text>
<text transform="translate(208.15,671.65) scale(1.007,1)" font-size="23.05" fill="#000" stroke="#000" stroke-width="0.4">–</text>
<text transform="translate(208.15,695.05) scale(1.007,1)" font-size="23.05" fill="#000" stroke="#000" stroke-width="0.4">–</text>
<text transform="translate(257.95,671.65) scale(1.007,1)" font-size="23.05" fill="#000" stroke="#000" stroke-width="0.4">–</text>
<text x="257.68" y="696.86" font-size="23.05" fill="#000" stroke="#000" stroke-width="0.4">+</text>
<text transform="translate(310.85,671.65) scale(1.007,1)" font-size="23.05" fill="#000" stroke="#000" stroke-width="0.4">–</text>
<text transform="translate(310.85,695.05) scale(1.007,1)" font-size="23.05" fill="#000" stroke="#000" stroke-width="0.4">–</text>
<text transform="translate(362.75,671.65) scale(1.007,1)" font-size="23.05" fill="#000" stroke="#000" stroke-width="0.4">–</text>
<text x="362.48" y="696.86" font-size="23.05" fill="#000" stroke="#000" stroke-width="0.4">+</text>
<text x="415.58" y="673.46" font-size="23.05" fill="#000" stroke="#000" stroke-width="0.4">+</text>
<text transform="translate(415.85,695.05) scale(1.007,1)" font-size="23.05" fill="#000" stroke="#000" stroke-width="0.4">–</text>
<text x="466.48" y="673.46" font-size="23.05" fill="#000" stroke="#000" stroke-width="0.4">+</text>
<text x="466.48" y="696.86" font-size="23.05" fill="#000" stroke="#000" stroke-width="0.4">+</text>
<text transform="translate(84.48,737.30) scale(1.021,1)" font-size="20.5" fill="#000">Mcl-1</text>
<text transform="translate(84.41,799.70) scale(1.067,1)" font-size="20.5" fill="#000">Bcl-X</text>
<text transform="translate(136.05,805.40) scale(0.896,1)" font-size="15.7" fill="#000">L</text>
<text transform="translate(83.81,865.80) scale(1.059,1)" font-size="20.5" fill="#000">Survivin</text>
<text transform="translate(85.11,922.00) scale(1.051,1)" font-size="20.5" fill="#000">β–actin</text>
<text transform="translate(196.65,761.40) scale(1.026,1)" font-size="16.2" fill="#000">0.74</text>
<text transform="translate(250.56,761.40) scale(1.019,1)" font-size="16.2" fill="#000">0.09</text>
<text transform="translate(301.34,761.40) scale(1.019,1)" font-size="16.2" fill="#000">1.14</text>
<text transform="translate(356.33,761.40) scale(1.060,1)" font-size="16.2" fill="#000">0.58</text>
<text transform="translate(408.07,761.40) scale(0.997,1)" font-size="16.2" fill="#000">1.17</text>
<text transform="translate(458.64,761.40) scale(1.042,1)" font-size="16.2" fill="#000">0.34</text>
<text transform="translate(196.33,822.00) scale(1.060,1)" font-size="16.2" fill="#000">0.38</text>
<text transform="translate(252.94,822.00) scale(1.049,1)" font-size="16.2" fill="#000">0.25</text>
<text transform="translate(303.63,822.00) scale(1.027,1)" font-size="16.2" fill="#000">1.28</text>
<text transform="translate(359.63,822.00) scale(1.064,1)" font-size="16.2" fill="#000">0.82</text>
<text transform="translate(410.61,822.00) scale(1.048,1)" font-size="16.2" fill="#000">1.30</text>
<text transform="translate(461.94,822.00) scale(1.042,1)" font-size="16.2" fill="#000">0.74</text>
<text transform="translate(199.03,892.00) scale(1.031,1)" font-size="16.2" fill="#000">1.02</text>
<text transform="translate(255.14,892.00) scale(1.044,1)" font-size="16.2" fill="#000">0.37</text>
<text transform="translate(304.57,892.00) scale(1.075,1)" font-size="16.2" fill="#000">1.92</text>
<text transform="translate(360.51,892.00) scale(1.089,1)" font-size="16.2" fill="#000">0.39</text>
<text transform="translate(412.27,892.00) scale(1.075,1)" font-size="16.2" fill="#000">1.92</text>
<text transform="translate(463.55,892.00) scale(1.033,1)" font-size="16.2" fill="#000">0.41</text>
<rect x="196.0" y="718.5" width="34.0" height="6.5" rx="4" fill="url(#g0)" filter="url(#bl22)"/>
<path d="M191.8,726.8 L192.8,725.7 L193.8,725.2 L194.9,724.4 L195.9,724.2 L196.9,724.1 L197.9,724.0 L199.0,723.9 L200.0,723.9 L201.0,723.8 L202.0,723.8 L203.0,723.8 L204.1,723.8 L205.1,723.8 L206.1,723.8 L207.1,723.8 L208.2,723.8 L209.2,723.8 L210.2,723.8 L211.2,723.8 L212.2,723.8 L213.3,723.8 L214.3,723.8 L215.3,723.8 L216.3,723.8 L217.4,723.8 L218.4,723.8 L219.4,723.8 L220.4,723.8 L221.5,723.8 L222.5,723.8 L223.5,723.8 L224.5,723.9 L225.5,723.9 L226.6,724.0 L227.6,724.1 L228.6,724.2 L229.6,724.8 L230.7,725.2 L231.7,725.7 L232.7,726.8 L232.7,726.8 L231.7,727.9 L230.7,728.4 L229.6,728.8 L228.6,729.4 L227.6,729.5 L226.6,729.6 L225.5,729.7 L224.5,729.7 L223.5,729.8 L222.5,729.8 L221.5,729.8 L220.4,729.8 L219.4,729.8 L218.4,729.8 L217.4,729.8 L216.3,729.8 L215.3,729.8 L214.3,729.8 L213.3,729.8 L212.2,729.8 L211.2,729.8 L210.2,729.8 L209.2,729.8 L208.2,729.8 L207.1,729.8 L206.1,729.8 L205.1,729.8 L204.1,729.8 L203.0,729.8 L202.0,729.8 L201.0,729.8 L200.0,729.7 L199.0,729.7 L197.9,729.6 L196.9,729.5 L195.9,729.4 L194.9,729.2 L193.8,728.4 L192.8,727.9 L191.8,726.8 Z" fill="#080808" opacity="1.0" filter="url(#bl10)"/>
<path d="M243.5,729.3 L244.6,728.8 L245.6,728.5 L246.7,728.1 L247.7,728.0 L248.8,727.9 L249.9,727.9 L250.9,727.9 L252.0,727.8 L253.0,727.8 L254.1,727.8 L255.2,727.8 L256.2,727.8 L257.3,727.8 L258.3,727.8 L259.4,727.8 L260.5,727.8 L261.5,727.8 L262.6,727.8 L263.6,727.8 L264.7,727.8 L265.8,727.8 L266.8,727.8 L267.9,727.8 L268.9,727.8 L270.0,727.8 L271.1,727.8 L272.1,727.8 L273.2,727.8 L274.2,727.8 L275.3,727.8 L276.4,727.8 L277.4,727.8 L278.5,727.9 L279.5,727.9 L280.6,727.9 L281.7,728.0 L282.7,728.3 L283.8,728.5 L284.8,728.8 L285.9,729.3 L285.9,729.3 L284.8,729.8 L283.8,730.1 L282.7,730.3 L281.7,730.6 L280.6,730.7 L279.5,730.7 L278.5,730.7 L277.4,730.8 L276.4,730.8 L275.3,730.8 L274.2,730.8 L273.2,730.8 L272.1,730.8 L271.1,730.8 L270.0,730.8 L268.9,730.8 L267.9,730.8 L266.8,730.8 L265.8,730.8 L264.7,730.8 L263.6,730.8 L262.6,730.8 L261.5,730.8 L260.5,730.8 L259.4,730.8 L258.3,730.8 L257.3,730.8 L256.2,730.8 L255.2,730.8 L254.1,730.8 L253.0,730.8 L252.0,730.8 L250.9,730.7 L249.9,730.7 L248.8,730.7 L247.7,730.6 L246.7,730.5 L245.6,730.1 L244.6,729.8 L243.5,729.3 Z" fill="#c4c4c4" opacity="1.0" filter="url(#bl10)"/>
<circle cx="248" cy="737.2" r="1.1" fill="#333" filter="url(#bl5)"/>
<rect x="302.5" y="716.5" width="33.8" height="12.0" rx="4" fill="url(#g1)" filter="url(#bl22)"/>
<path d="M298.7,730.7 L299.7,729.3 L300.8,728.6 L301.8,727.6 L302.8,727.4 L303.9,727.2 L304.9,727.1 L306.0,727.1 L307.0,727.1 L308.0,727.1 L309.1,727.1 L310.1,727.2 L311.1,727.2 L312.2,727.2 L313.2,727.3 L314.3,727.3 L315.3,727.3 L316.3,727.4 L317.4,727.4 L318.4,727.4 L319.4,727.4 L320.5,727.4 L321.5,727.4 L322.6,727.4 L323.6,727.3 L324.6,727.3 L325.7,727.3 L326.7,727.2 L327.8,727.2 L328.8,727.2 L329.8,727.1 L330.9,727.1 L331.9,727.1 L332.9,727.1 L334.0,727.1 L335.0,727.2 L336.1,727.4 L337.1,728.2 L338.1,728.6 L339.2,729.3 L340.2,730.7 L340.2,730.7 L339.2,732.1 L338.1,732.8 L337.1,733.2 L336.1,734.0 L335.0,734.2 L334.0,734.3 L332.9,734.3 L331.9,734.3 L330.9,734.3 L329.8,734.3 L328.8,734.2 L327.8,734.2 L326.7,734.2 L325.7,734.1 L324.6,734.1 L323.6,734.1 L322.6,734.0 L321.5,734.0 L320.5,734.0 L319.4,734.0 L318.4,734.0 L317.4,734.0 L316.3,734.0 L315.3,734.1 L314.3,734.1 L313.2,734.1 L312.2,734.2 L311.1,734.2 L310.1,734.2 L309.1,734.3 L308.0,734.3 L307.0,734.3 L306.0,734.3 L304.9,734.3 L303.9,734.2 L302.8,734.0 L301.8,733.8 L300.8,732.8 L299.7,732.1 L298.7,730.7 Z" fill="#000" opacity="1.0" filter="url(#bl10)"/>
<path d="M350.5,731.1 L351.6,730.1 L352.7,729.6 L353.7,728.9 L354.8,728.7 L355.9,728.6 L357.0,728.5 L358.0,728.5 L359.1,728.4 L360.2,728.4 L361.3,728.4 L362.4,728.4 L363.4,728.4 L364.5,728.4 L365.6,728.4 L366.7,728.4 L367.7,728.4 L368.8,728.4 L369.9,728.4 L371.0,728.4 L372.1,728.4 L373.1,728.4 L374.2,728.4 L375.3,728.4 L376.4,728.4 L377.4,728.4 L378.5,728.4 L379.6,728.4 L380.7,728.4 L381.7,728.4 L382.8,728.4 L383.9,728.4 L385.0,728.4 L386.1,728.5 L387.1,728.5 L388.2,728.6 L389.3,728.7 L390.4,729.3 L391.4,729.6 L392.5,730.1 L393.6,731.1 L393.6,731.1 L392.5,732.1 L391.4,732.6 L390.4,732.9 L389.3,733.5 L388.2,733.6 L387.1,733.7 L386.1,733.7 L385.0,733.8 L383.9,733.8 L382.8,733.8 L381.7,733.8 L380.7,733.8 L379.6,733.8 L378.5,733.8 L377.4,733.8 L376.4,733.8 L375.3,733.8 L374.2,733.8 L373.1,733.8 L372.1,733.9 L371.0,733.8 L369.9,733.8 L368.8,733.8 L367.7,733.8 L366.7,733.8 L365.6,733.8 L364.5,733.8 L363.4,733.8 L362.4,733.8 L361.3,733.8 L360.2,733.8 L359.1,733.8 L358.0,733.7 L357.0,733.7 L355.9,733.6 L354.8,733.5 L353.7,733.3 L352.7,732.6 L351.6,732.1 L350.5,731.1 Z" fill="#0a0a0a" opacity="1.0" filter="url(#bl10)"/>
<rect x="408.0" y="716.6" width="35.5" height="10.9" rx="4" fill="url(#g2)" filter="url(#bl22)"/>
<path d="M402.8,730.0 L403.9,728.2 L405.0,727.4 L406.1,726.1 L407.2,725.7 L408.3,725.5 L409.4,725.4 L410.4,725.3 L411.5,725.3 L412.6,725.3 L413.7,725.3 L414.8,725.3 L415.9,725.3 L417.0,725.4 L418.1,725.4 L419.2,725.4 L420.3,725.5 L421.4,725.5 L422.5,725.5 L423.6,725.5 L424.6,725.5 L425.7,725.5 L426.8,725.5 L427.9,725.5 L429.0,725.5 L430.1,725.4 L431.2,725.4 L432.3,725.4 L433.4,725.3 L434.5,725.3 L435.6,725.3 L436.7,725.3 L437.8,725.3 L438.9,725.3 L439.9,725.4 L441.0,725.5 L442.1,725.7 L443.2,726.7 L444.3,727.4 L445.4,728.2 L446.5,730.0 L446.5,730.0 L445.4,731.8 L444.3,732.6 L443.2,733.3 L442.1,734.3 L441.0,734.5 L439.9,734.6 L438.9,734.7 L437.8,734.7 L436.7,734.7 L435.6,734.7 L434.5,734.7 L433.4,734.7 L432.3,734.6 L431.2,734.6 L430.1,734.6 L429.0,734.5 L427.9,734.5 L426.8,734.5 L425.7,734.5 L424.6,734.5 L423.6,734.5 L422.5,734.5 L421.4,734.5 L420.3,734.5 L419.2,734.6 L418.1,734.6 L417.0,734.6 L415.9,734.7 L414.8,734.7 L413.7,734.7 L412.6,734.7 L411.5,734.7 L410.4,734.7 L409.4,734.6 L408.3,734.5 L407.2,734.3 L406.1,733.9 L405.0,732.6 L403.9,731.8 L402.8,730.0 Z" fill="#000" opacity="1.0" filter="url(#bl10)"/>
<path d="M458.2,728.9 L459.1,728.0 L460.1,727.4 L461.0,726.7 L462.0,726.4 L462.9,726.2 L463.8,726.0 L464.8,725.8 L465.7,725.7 L466.7,725.5 L467.6,725.4 L468.5,725.3 L469.5,725.1 L470.4,725.0 L471.4,724.9 L472.3,724.8 L473.2,724.6 L474.2,724.5 L475.1,724.4 L476.1,724.3 L477.0,724.2 L477.9,724.0 L478.9,723.9 L479.8,723.8 L480.8,723.7 L481.7,723.5 L482.6,723.4 L483.6,723.3 L484.5,723.2 L485.5,723.1 L486.4,722.9 L487.3,722.8 L488.3,722.7 L489.2,722.6 L490.2,722.6 L491.1,722.5 L492.0,722.5 L493.0,722.9 L493.9,723.0 L494.9,723.3 L495.8,724.0 L495.8,724.0 L494.9,724.9 L493.9,725.5 L493.0,725.9 L492.0,726.5 L491.1,726.7 L490.2,726.9 L489.2,727.1 L488.3,727.2 L487.3,727.4 L486.4,727.5 L485.5,727.6 L484.5,727.8 L483.6,727.9 L482.6,728.0 L481.7,728.1 L480.8,728.3 L479.8,728.4 L478.9,728.5 L477.9,728.6 L477.0,728.8 L476.1,728.9 L475.1,729.0 L474.2,729.1 L473.2,729.2 L472.3,729.4 L471.4,729.5 L470.4,729.6 L469.5,729.7 L468.5,729.8 L467.6,730.0 L466.7,730.1 L465.7,730.2 L464.8,730.3 L463.8,730.3 L462.9,730.4 L462.0,730.4 L461.0,730.3 L460.1,729.9 L459.1,729.6 L458.2,728.9 Z" fill="#262626" opacity="1.0" filter="url(#bl10)"/>
<path d="M193.6,789.8 L194.6,788.7 L195.6,788.2 L196.6,787.4 L197.7,787.2 L198.7,787.1 L199.7,787.0 L200.7,786.9 L201.7,786.9 L202.7,786.8 L203.8,786.8 L204.8,786.8 L205.8,786.8 L206.8,786.8 L207.8,786.8 L208.8,786.8 L209.8,786.8 L210.9,786.8 L211.9,786.8 L212.9,786.8 L213.9,786.8 L214.9,786.8 L215.9,786.8 L216.9,786.8 L218.0,786.8 L219.0,786.8 L220.0,786.8 L221.0,786.8 L222.0,786.8 L223.0,786.8 L224.0,786.8 L225.1,786.8 L226.1,786.9 L227.1,786.9 L228.1,787.0 L229.1,787.1 L230.1,787.2 L231.2,787.8 L232.2,788.2 L233.2,788.7 L234.2,789.8 L234.2,789.8 L233.2,790.9 L232.2,791.4 L231.2,791.8 L230.1,792.4 L229.1,792.5 L228.1,792.6 L227.1,792.7 L226.1,792.7 L225.1,792.8 L224.0,792.8 L223.0,792.8 L222.0,792.8 L221.0,792.8 L220.0,792.8 L219.0,792.8 L218.0,792.8 L216.9,792.8 L215.9,792.8 L214.9,792.8 L213.9,792.8 L212.9,792.8 L211.9,792.8 L210.9,792.8 L209.8,792.8 L208.8,792.8 L207.8,792.8 L206.8,792.8 L205.8,792.8 L204.8,792.8 L203.8,792.8 L202.7,792.8 L201.7,792.7 L200.7,792.7 L199.7,792.6 L198.7,792.5 L197.7,792.4 L196.6,792.2 L195.6,791.4 L194.6,790.9 L193.6,789.8 Z" fill="#7a7a7a" opacity="1.0" filter="url(#bl13)"/>
<path d="M193.6,789.3 L194.0,788.4 L194.3,788.0 L194.7,787.3 L195.0,787.2 L195.4,787.0 L195.8,787.0 L196.1,786.9 L196.5,786.9 L196.8,786.8 L197.2,786.8 L197.6,786.8 L197.9,786.8 L198.3,786.8 L198.6,786.8 L199.0,786.8 L199.4,786.8 L199.7,786.8 L200.1,786.8 L200.4,786.8 L200.8,786.8 L201.2,786.8 L201.5,786.8 L201.9,786.8 L202.2,786.8 L202.6,786.8 L203.0,786.8 L203.3,786.8 L203.7,786.8 L204.0,786.8 L204.4,786.8 L204.8,786.8 L205.1,786.9 L205.5,786.9 L205.8,787.0 L206.2,787.0 L206.6,787.2 L206.9,787.7 L207.3,788.0 L207.6,788.4 L208.0,789.3 L208.0,789.3 L207.6,790.2 L207.3,790.6 L206.9,790.9 L206.6,791.4 L206.2,791.6 L205.8,791.6 L205.5,791.7 L205.1,791.7 L204.8,791.8 L204.4,791.8 L204.0,791.8 L203.7,791.8 L203.3,791.8 L203.0,791.8 L202.6,791.8 L202.2,791.8 L201.9,791.8 L201.5,791.8 L201.2,791.8 L200.8,791.8 L200.4,791.8 L200.1,791.8 L199.7,791.8 L199.4,791.8 L199.0,791.8 L198.6,791.8 L198.3,791.8 L197.9,791.8 L197.6,791.8 L197.2,791.8 L196.8,791.8 L196.5,791.7 L196.1,791.7 L195.8,791.6 L195.4,791.6 L195.0,791.4 L194.7,791.3 L194.3,790.6 L194.0,790.2 L193.6,789.3 Z" fill="#4a4a4a" opacity="1.0" filter="url(#bl13)"/>
<circle cx="198.8" cy="795.0" r="1.0" fill="#333" filter="url(#bl5)"/>
<path d="M246.5,791.2 L247.5,790.2 L248.5,789.7 L249.6,789.0 L250.6,788.8 L251.6,788.7 L252.6,788.6 L253.6,788.6 L254.6,788.5 L255.7,788.5 L256.7,788.5 L257.7,788.5 L258.7,788.5 L259.7,788.5 L260.7,788.5 L261.8,788.5 L262.8,788.5 L263.8,788.5 L264.8,788.5 L265.8,788.5 L266.9,788.5 L267.9,788.5 L268.9,788.5 L269.9,788.5 L270.9,788.5 L271.9,788.5 L273.0,788.5 L274.0,788.5 L275.0,788.5 L276.0,788.5 L277.0,788.5 L278.0,788.5 L279.1,788.5 L280.1,788.6 L281.1,788.6 L282.1,788.7 L283.1,788.8 L284.1,789.4 L285.2,789.7 L286.2,790.2 L287.2,791.2 L287.2,791.2 L286.2,792.2 L285.2,792.7 L284.1,793.0 L283.1,793.6 L282.1,793.7 L281.1,793.8 L280.1,793.8 L279.1,793.9 L278.0,793.9 L277.0,793.9 L276.0,793.9 L275.0,793.9 L274.0,793.9 L273.0,793.9 L271.9,793.9 L270.9,793.9 L269.9,793.9 L268.9,793.9 L267.9,793.9 L266.9,794.0 L265.8,793.9 L264.8,793.9 L263.8,793.9 L262.8,793.9 L261.8,793.9 L260.7,793.9 L259.7,793.9 L258.7,793.9 L257.7,793.9 L256.7,793.9 L255.7,793.9 L254.6,793.9 L253.6,793.8 L252.6,793.8 L251.6,793.7 L250.6,793.6 L249.6,793.4 L248.5,792.7 L247.5,792.2 L246.5,791.2 Z" fill="#9c9c9c" opacity="1.0" filter="url(#bl13)"/>
<path d="M299.5,791.6 L300.5,789.1 L301.5,787.9 L302.6,786.1 L303.6,785.6 L304.6,785.3 L305.6,785.2 L306.7,785.1 L307.7,785.0 L308.7,785.0 L309.7,785.0 L310.7,785.0 L311.8,785.1 L312.8,785.1 L313.8,785.2 L314.8,785.2 L315.9,785.2 L316.9,785.3 L317.9,785.3 L318.9,785.3 L319.9,785.3 L321.0,785.3 L322.0,785.3 L323.0,785.3 L324.0,785.2 L325.1,785.2 L326.1,785.2 L327.1,785.1 L328.1,785.1 L329.2,785.0 L330.2,785.0 L331.2,785.0 L332.2,785.0 L333.2,785.1 L334.3,785.2 L335.3,785.3 L336.3,785.6 L337.3,787.0 L338.4,787.9 L339.4,789.1 L340.4,791.6 L340.4,791.6 L339.4,794.1 L338.4,795.3 L337.3,796.2 L336.3,797.6 L335.3,797.9 L334.3,798.0 L333.2,798.1 L332.2,798.2 L331.2,798.2 L330.2,798.2 L329.2,798.2 L328.1,798.1 L327.1,798.1 L326.1,798.0 L325.1,798.0 L324.0,798.0 L323.0,797.9 L322.0,797.9 L321.0,797.9 L319.9,797.9 L318.9,797.9 L317.9,797.9 L316.9,797.9 L315.9,798.0 L314.8,798.0 L313.8,798.0 L312.8,798.1 L311.8,798.1 L310.7,798.2 L309.7,798.2 L308.7,798.2 L307.7,798.2 L306.7,798.1 L305.6,798.0 L304.6,797.9 L303.6,797.6 L302.6,797.1 L301.5,795.3 L300.5,794.1 L299.5,791.6 Z" fill="#050505" opacity="1.0" filter="url(#bl14)"/>
<ellipse cx="318" cy="796.2" rx="4" ry="1.3" fill="#777" filter="url(#bl10)"/>
<path d="M351.8,793.4 L352.9,791.3 L353.9,790.2 L355.0,788.7 L356.0,788.2 L357.1,788.0 L358.2,787.8 L359.2,787.6 L360.3,787.5 L361.3,787.5 L362.4,787.4 L363.5,787.4 L364.5,787.4 L365.6,787.4 L366.6,787.4 L367.7,787.4 L368.8,787.4 L369.8,787.4 L370.9,787.4 L371.9,787.4 L373.0,787.4 L374.1,787.4 L375.1,787.4 L376.2,787.4 L377.2,787.4 L378.3,787.4 L379.4,787.4 L380.4,787.4 L381.5,787.4 L382.5,787.4 L383.6,787.4 L384.7,787.5 L385.7,787.5 L386.8,787.6 L387.8,787.8 L388.9,788.0 L390.0,788.2 L391.0,789.5 L392.1,790.2 L393.1,791.3 L394.2,793.4 L394.2,793.4 L393.1,795.5 L392.1,796.6 L391.0,797.3 L390.0,798.6 L388.9,798.8 L387.8,799.0 L386.8,799.2 L385.7,799.3 L384.7,799.3 L383.6,799.4 L382.5,799.4 L381.5,799.4 L380.4,799.4 L379.4,799.4 L378.3,799.4 L377.2,799.4 L376.2,799.4 L375.1,799.4 L374.1,799.4 L373.0,799.4 L371.9,799.4 L370.9,799.4 L369.8,799.4 L368.8,799.4 L367.7,799.4 L366.6,799.4 L365.6,799.4 L364.5,799.4 L363.5,799.4 L362.4,799.4 L361.3,799.3 L360.3,799.3 L359.2,799.2 L358.2,799.0 L357.1,798.8 L356.0,798.6 L355.0,798.1 L353.9,796.6 L352.9,795.5 L351.8,793.4 Z" fill="#5a5a5a" opacity="1.0" filter="url(#bl17)"/>
<path d="M352.5,792.4 L353.5,791.4 L354.6,790.9 L355.6,790.2 L356.6,790.0 L357.6,789.9 L358.6,789.8 L359.7,789.8 L360.7,789.7 L361.7,789.7 L362.8,789.7 L363.8,789.7 L364.8,789.7 L365.8,789.7 L366.9,789.7 L367.9,789.7 L368.9,789.7 L369.9,789.7 L370.9,789.7 L372.0,789.7 L373.0,789.6 L374.0,789.7 L375.1,789.7 L376.1,789.7 L377.1,789.7 L378.1,789.7 L379.1,789.7 L380.2,789.7 L381.2,789.7 L382.2,789.7 L383.2,789.7 L384.3,789.7 L385.3,789.7 L386.3,789.8 L387.4,789.8 L388.4,789.9 L389.4,790.0 L390.4,790.6 L391.4,790.9 L392.5,791.4 L393.5,792.4 L393.5,792.4 L392.5,793.4 L391.4,793.9 L390.4,794.2 L389.4,794.8 L388.4,794.9 L387.4,795.0 L386.3,795.0 L385.3,795.1 L384.3,795.1 L383.2,795.1 L382.2,795.1 L381.2,795.1 L380.2,795.1 L379.1,795.1 L378.1,795.1 L377.1,795.1 L376.1,795.1 L375.1,795.1 L374.0,795.1 L373.0,795.1 L372.0,795.1 L370.9,795.1 L369.9,795.1 L368.9,795.1 L367.9,795.1 L366.9,795.1 L365.8,795.1 L364.8,795.1 L363.8,795.1 L362.8,795.1 L361.7,795.1 L360.7,795.1 L359.7,795.0 L358.6,795.0 L357.6,794.9 L356.6,794.8 L355.6,794.6 L354.6,793.9 L353.5,793.4 L352.5,792.4 Z" fill="#151515" opacity="1.0" filter="url(#bl13)"/>
<path d="M404.1,792.6 L405.2,790.1 L406.3,788.9 L407.4,787.1 L408.5,786.6 L409.6,786.3 L410.7,786.0 L411.8,785.9 L412.9,785.8 L414.0,785.7 L415.1,785.7 L416.2,785.6 L417.3,785.6 L418.4,785.6 L419.5,785.6 L420.6,785.6 L421.7,785.6 L422.8,785.6 L423.9,785.6 L425.0,785.6 L426.1,785.6 L427.2,785.6 L428.3,785.6 L429.4,785.6 L430.5,785.6 L431.6,785.6 L432.7,785.6 L433.8,785.6 L434.9,785.6 L436.0,785.6 L437.1,785.7 L438.2,785.7 L439.3,785.8 L440.4,785.9 L441.5,786.0 L442.6,786.3 L443.7,786.6 L444.8,788.0 L445.9,788.9 L447.0,790.1 L448.1,792.6 L448.1,792.6 L447.0,795.1 L445.9,796.3 L444.8,797.2 L443.7,798.6 L442.6,798.9 L441.5,799.2 L440.4,799.3 L439.3,799.4 L438.2,799.5 L437.1,799.5 L436.0,799.6 L434.9,799.6 L433.8,799.6 L432.7,799.6 L431.6,799.6 L430.5,799.6 L429.4,799.6 L428.3,799.6 L427.2,799.6 L426.1,799.6 L425.0,799.6 L423.9,799.6 L422.8,799.6 L421.7,799.6 L420.6,799.6 L419.5,799.6 L418.4,799.6 L417.3,799.6 L416.2,799.6 L415.1,799.5 L414.0,799.5 L412.9,799.4 L411.8,799.3 L410.7,799.2 L409.6,798.9 L408.5,798.6 L407.4,798.1 L406.3,796.3 L405.2,795.1 L404.1,792.6 Z" fill="#4a4a4a" opacity="1.0" filter="url(#bl17)"/>
<path d="M404.5,790.8 L405.6,789.6 L406.6,788.9 L407.7,788.0 L408.8,787.8 L409.9,787.6 L410.9,787.5 L412.0,787.4 L413.1,787.4 L414.2,787.3 L415.2,787.3 L416.3,787.3 L417.4,787.3 L418.5,787.3 L419.6,787.3 L420.6,787.3 L421.7,787.3 L422.8,787.3 L423.9,787.3 L424.9,787.3 L426.0,787.3 L427.1,787.3 L428.1,787.3 L429.2,787.3 L430.3,787.3 L431.4,787.3 L432.4,787.3 L433.5,787.3 L434.6,787.3 L435.7,787.3 L436.8,787.3 L437.8,787.3 L438.9,787.4 L440.0,787.4 L441.1,787.5 L442.1,787.6 L443.2,787.8 L444.3,788.5 L445.4,788.9 L446.4,789.6 L447.5,790.8 L447.5,790.8 L446.4,792.0 L445.4,792.7 L444.3,793.1 L443.2,793.8 L442.1,794.0 L441.1,794.1 L440.0,794.2 L438.9,794.2 L437.8,794.3 L436.8,794.3 L435.7,794.3 L434.6,794.3 L433.5,794.3 L432.4,794.3 L431.4,794.3 L430.3,794.3 L429.2,794.3 L428.1,794.3 L427.1,794.3 L426.0,794.3 L424.9,794.3 L423.9,794.3 L422.8,794.3 L421.7,794.3 L420.6,794.3 L419.6,794.3 L418.5,794.3 L417.4,794.3 L416.3,794.3 L415.2,794.3 L414.2,794.3 L413.1,794.2 L412.0,794.2 L410.9,794.1 L409.9,794.0 L408.8,793.8 L407.7,793.6 L406.6,792.7 L405.6,792.0 L404.5,790.8 Z" fill="#0a0a0a" opacity="1.0" filter="url(#bl13)"/>
<path d="M457.3,792.0 L458.3,790.1 L459.3,789.2 L460.3,787.8 L461.3,787.3 L462.3,787.0 L463.3,786.7 L464.3,786.5 L465.3,786.3 L466.3,786.2 L467.3,786.0 L468.3,785.9 L469.3,785.8 L470.3,785.7 L471.3,785.6 L472.3,785.5 L473.3,785.4 L474.3,785.3 L475.3,785.2 L476.3,785.1 L477.3,785.0 L478.3,784.9 L479.3,784.8 L480.3,784.7 L481.3,784.6 L482.3,784.5 L483.3,784.4 L484.3,784.3 L485.3,784.2 L486.3,784.1 L487.3,784.0 L488.3,784.0 L489.3,783.9 L490.3,783.9 L491.3,783.9 L492.3,784.0 L493.3,784.1 L494.3,785.0 L495.3,785.6 L496.3,786.3 L497.3,788.0 L497.3,788.0 L496.3,789.9 L495.3,790.8 L494.3,791.6 L493.3,792.7 L492.3,793.0 L491.3,793.3 L490.3,793.5 L489.3,793.7 L488.3,793.8 L487.3,794.0 L486.3,794.1 L485.3,794.2 L484.3,794.3 L483.3,794.4 L482.3,794.5 L481.3,794.6 L480.3,794.7 L479.3,794.8 L478.3,794.9 L477.3,795.0 L476.3,795.1 L475.3,795.2 L474.3,795.3 L473.3,795.4 L472.3,795.5 L471.3,795.6 L470.3,795.7 L469.3,795.8 L468.3,795.9 L467.3,796.0 L466.3,796.0 L465.3,796.1 L464.3,796.1 L463.3,796.1 L462.3,796.0 L461.3,795.9 L460.3,795.6 L459.3,794.4 L458.3,793.7 L457.3,792.0 Z" fill="#6a6a6a" opacity="1.0" filter="url(#bl16)"/>
<path d="M459.0,790.2 L459.9,789.3 L460.9,788.8 L461.9,788.1 L462.8,787.9 L463.8,787.7 L464.7,787.5 L465.6,787.3 L466.6,787.2 L467.6,787.1 L468.5,787.0 L469.4,786.9 L470.4,786.8 L471.4,786.7 L472.3,786.6 L473.2,786.5 L474.2,786.4 L475.1,786.3 L476.1,786.2 L477.1,786.1 L478.0,786.0 L478.9,785.9 L479.9,785.8 L480.9,785.7 L481.8,785.6 L482.8,785.5 L483.7,785.4 L484.6,785.3 L485.6,785.2 L486.6,785.1 L487.5,785.0 L488.4,784.9 L489.4,784.8 L490.4,784.7 L491.3,784.7 L492.2,784.7 L493.2,784.7 L494.1,785.0 L495.1,785.2 L496.1,785.5 L497.0,786.2 L497.0,786.2 L496.1,787.1 L495.1,787.6 L494.1,788.0 L493.2,788.5 L492.2,788.7 L491.3,788.9 L490.4,789.1 L489.4,789.2 L488.4,789.3 L487.5,789.4 L486.6,789.5 L485.6,789.6 L484.6,789.7 L483.7,789.8 L482.8,789.9 L481.8,790.0 L480.9,790.1 L479.9,790.2 L478.9,790.3 L478.0,790.5 L477.1,790.5 L476.1,790.6 L475.1,790.7 L474.2,790.8 L473.2,790.9 L472.3,791.0 L471.4,791.1 L470.4,791.2 L469.4,791.3 L468.5,791.4 L467.6,791.5 L466.6,791.6 L465.6,791.7 L464.7,791.7 L463.8,791.7 L462.8,791.7 L461.9,791.7 L460.9,791.2 L459.9,790.9 L459.0,790.2 Z" fill="#2a2a2a" opacity="1.0" filter="url(#bl13)"/>
<circle cx="492.7" cy="784.2" r="1.7" fill="#111" filter="url(#bl5)"/>
<circle cx="357.3" cy="800.2" r="1.4" fill="#111" filter="url(#bl5)"/>
<circle cx="362.8" cy="800.0" r="1.4" fill="#111" filter="url(#bl5)"/>
<rect x="192.5" y="845.7" width="44.3" height="11.8" rx="4" fill="url(#g3)" filter="url(#bl22)"/>
<path d="M190.5,859.8 L191.7,858.7 L192.9,858.2 L194.1,857.4 L195.3,857.1 L196.5,857.0 L197.7,856.9 L199.0,856.8 L200.2,856.8 L201.4,856.7 L202.6,856.7 L203.8,856.7 L205.0,856.7 L206.2,856.7 L207.4,856.7 L208.6,856.7 L209.8,856.7 L211.0,856.7 L212.2,856.7 L213.4,856.7 L214.7,856.7 L215.9,856.7 L217.1,856.7 L218.3,856.7 L219.5,856.7 L220.7,856.7 L221.9,856.7 L223.1,856.7 L224.3,856.7 L225.5,856.7 L226.7,856.7 L227.9,856.7 L229.1,856.8 L230.3,856.8 L231.6,856.9 L232.8,857.0 L234.0,857.1 L235.2,857.8 L236.4,858.2 L237.6,858.7 L238.8,859.8 L238.8,859.8 L237.6,860.9 L236.4,861.4 L235.2,861.8 L234.0,862.5 L232.8,862.6 L231.6,862.7 L230.3,862.8 L229.1,862.8 L227.9,862.9 L226.7,862.9 L225.5,862.9 L224.3,862.9 L223.1,862.9 L221.9,862.9 L220.7,862.9 L219.5,862.9 L218.3,862.9 L217.1,862.9 L215.9,862.9 L214.7,862.9 L213.4,862.9 L212.2,862.9 L211.0,862.9 L209.8,862.9 L208.6,862.9 L207.4,862.9 L206.2,862.9 L205.0,862.9 L203.8,862.9 L202.6,862.9 L201.4,862.9 L200.2,862.8 L199.0,862.8 L197.7,862.7 L196.5,862.6 L195.3,862.5 L194.1,862.2 L192.9,861.4 L191.7,860.9 L190.5,859.8 Z" fill="#4c4c4c" opacity="1.0" filter="url(#bl13)"/>
<path d="M192.0,871.8 L193.1,871.3 L194.2,871.1 L195.4,870.8 L196.5,870.7 L197.6,870.6 L198.8,870.6 L199.9,870.5 L201.0,870.5 L202.1,870.5 L203.2,870.5 L204.4,870.5 L205.5,870.5 L206.6,870.5 L207.8,870.5 L208.9,870.5 L210.0,870.5 L211.1,870.5 L212.2,870.5 L213.4,870.5 L214.5,870.5 L215.6,870.5 L216.8,870.5 L217.9,870.5 L219.0,870.5 L220.1,870.5 L221.2,870.5 L222.4,870.5 L223.5,870.5 L224.6,870.5 L225.8,870.5 L226.9,870.5 L228.0,870.5 L229.1,870.5 L230.2,870.6 L231.4,870.6 L232.5,870.7 L233.6,870.9 L234.8,871.1 L235.9,871.3 L237.0,871.8 L237.0,871.8 L235.9,872.3 L234.8,872.5 L233.6,872.7 L232.5,872.9 L231.4,873.0 L230.2,873.0 L229.1,873.1 L228.0,873.1 L226.9,873.1 L225.8,873.1 L224.6,873.1 L223.5,873.1 L222.4,873.1 L221.2,873.1 L220.1,873.1 L219.0,873.1 L217.9,873.1 L216.8,873.1 L215.6,873.1 L214.5,873.1 L213.4,873.1 L212.2,873.1 L211.1,873.1 L210.0,873.1 L208.9,873.1 L207.8,873.1 L206.6,873.1 L205.5,873.1 L204.4,873.1 L203.2,873.1 L202.1,873.1 L201.0,873.1 L199.9,873.1 L198.8,873.0 L197.6,873.0 L196.5,872.9 L195.4,872.8 L194.2,872.5 L193.1,872.3 L192.0,871.8 Z" fill="#e6e6e6" opacity="1.0" filter="url(#bl10)"/>
<rect x="246.5" y="850.0" width="41.7" height="7.0" rx="4" fill="url(#g4)" filter="url(#bl22)"/>
<path d="M243.5,859.8 L244.7,858.7 L245.9,858.2 L247.1,857.4 L248.3,857.2 L249.5,857.1 L250.7,857.0 L251.8,856.9 L253.0,856.9 L254.2,856.8 L255.4,856.8 L256.6,856.8 L257.8,856.8 L259.0,856.8 L260.2,856.8 L261.4,856.8 L262.6,856.8 L263.8,856.8 L265.0,856.8 L266.2,856.8 L267.4,856.8 L268.5,856.8 L269.7,856.8 L270.9,856.8 L272.1,856.8 L273.3,856.8 L274.5,856.8 L275.7,856.8 L276.9,856.8 L278.1,856.8 L279.3,856.8 L280.5,856.8 L281.7,856.9 L282.9,856.9 L284.0,857.0 L285.2,857.1 L286.4,857.2 L287.6,857.8 L288.8,858.2 L290.0,858.7 L291.2,859.8 L291.2,859.8 L290.0,860.9 L288.8,861.4 L287.6,861.8 L286.4,862.4 L285.2,862.5 L284.0,862.6 L282.9,862.7 L281.7,862.7 L280.5,862.8 L279.3,862.8 L278.1,862.8 L276.9,862.8 L275.7,862.8 L274.5,862.8 L273.3,862.8 L272.1,862.8 L270.9,862.8 L269.7,862.8 L268.5,862.8 L267.4,862.8 L266.2,862.8 L265.0,862.8 L263.8,862.8 L262.6,862.8 L261.4,862.8 L260.2,862.8 L259.0,862.8 L257.8,862.8 L256.6,862.8 L255.4,862.8 L254.2,862.8 L253.0,862.7 L251.8,862.7 L250.7,862.6 L249.5,862.5 L248.3,862.4 L247.1,862.2 L245.9,861.4 L244.7,860.9 L243.5,859.8 Z" fill="#c2c2c2" opacity="1.0" filter="url(#bl14)"/>
<rect x="303.5" y="843.0" width="39.0" height="16.5" rx="4" fill="url(#g5)" filter="url(#bl22)"/>
<path d="M301.5,862.2 L302.6,860.9 L303.7,860.2 L304.8,859.3 L305.9,859.1 L307.1,858.9 L308.2,858.8 L309.3,858.7 L310.4,858.7 L311.5,858.7 L312.6,858.7 L313.7,858.7 L314.9,858.7 L316.0,858.8 L317.1,858.8 L318.2,858.8 L319.3,858.8 L320.4,858.8 L321.5,858.9 L322.6,858.9 L323.8,858.9 L324.9,858.9 L326.0,858.9 L327.1,858.8 L328.2,858.8 L329.3,858.8 L330.4,858.8 L331.5,858.8 L332.6,858.7 L333.8,858.7 L334.9,858.7 L336.0,858.7 L337.1,858.7 L338.2,858.7 L339.3,858.8 L340.4,858.9 L341.6,859.1 L342.7,859.8 L343.8,860.2 L344.9,860.9 L346.0,862.2 L346.0,862.2 L344.9,863.5 L343.8,864.2 L342.7,864.6 L341.6,865.3 L340.4,865.5 L339.3,865.6 L338.2,865.7 L337.1,865.7 L336.0,865.7 L334.9,865.7 L333.8,865.7 L332.6,865.7 L331.5,865.6 L330.4,865.6 L329.3,865.6 L328.2,865.6 L327.1,865.6 L326.0,865.5 L324.9,865.5 L323.8,865.5 L322.6,865.5 L321.5,865.5 L320.4,865.6 L319.3,865.6 L318.2,865.6 L317.1,865.6 L316.0,865.6 L314.9,865.7 L313.7,865.7 L312.6,865.7 L311.5,865.7 L310.4,865.7 L309.3,865.7 L308.2,865.6 L307.1,865.5 L305.9,865.3 L304.8,865.1 L303.7,864.2 L302.6,863.5 L301.5,862.2 Z" fill="#000" opacity="1.0" filter="url(#bl12)"/>
<path d="M303.0,873.0 L304.0,872.4 L305.0,872.2 L306.0,871.7 L307.0,871.6 L308.0,871.5 L309.0,871.5 L310.0,871.5 L311.0,871.4 L312.0,871.4 L313.0,871.4 L314.0,871.4 L315.0,871.4 L316.0,871.4 L317.0,871.4 L318.0,871.4 L319.0,871.4 L320.0,871.4 L321.0,871.4 L322.0,871.4 L323.0,871.4 L324.0,871.4 L325.0,871.4 L326.0,871.4 L327.0,871.4 L328.0,871.4 L329.0,871.4 L330.0,871.4 L331.0,871.4 L332.0,871.4 L333.0,871.4 L334.0,871.4 L335.0,871.4 L336.0,871.5 L337.0,871.5 L338.0,871.5 L339.0,871.6 L340.0,872.0 L341.0,872.2 L342.0,872.4 L343.0,873.0 L343.0,873.0 L342.0,873.6 L341.0,873.8 L340.0,874.0 L339.0,874.4 L338.0,874.5 L337.0,874.5 L336.0,874.5 L335.0,874.6 L334.0,874.6 L333.0,874.6 L332.0,874.6 L331.0,874.6 L330.0,874.6 L329.0,874.6 L328.0,874.6 L327.0,874.6 L326.0,874.6 L325.0,874.6 L324.0,874.6 L323.0,874.6 L322.0,874.6 L321.0,874.6 L320.0,874.6 L319.0,874.6 L318.0,874.6 L317.0,874.6 L316.0,874.6 L315.0,874.6 L314.0,874.6 L313.0,874.6 L312.0,874.6 L311.0,874.6 L310.0,874.5 L309.0,874.5 L308.0,874.5 L307.0,874.4 L306.0,874.3 L305.0,873.8 L304.0,873.6 L303.0,873.0 Z" fill="#dadada" opacity="1.0" filter="url(#bl10)"/>
<path d="M354.2,863.7 L355.4,862.7 L356.6,862.2 L357.8,861.5 L359.0,861.3 L360.2,861.2 L361.4,861.1 L362.5,861.1 L363.7,861.0 L364.9,861.0 L366.1,861.0 L367.3,861.0 L368.5,861.0 L369.7,861.0 L370.9,861.0 L372.1,861.0 L373.3,861.0 L374.5,861.0 L375.7,861.0 L376.9,861.0 L378.0,861.0 L379.2,861.0 L380.4,861.0 L381.6,861.0 L382.8,861.0 L384.0,861.0 L385.2,861.0 L386.4,861.0 L387.6,861.0 L388.8,861.0 L390.0,861.0 L391.2,861.0 L392.4,861.0 L393.6,861.1 L394.7,861.1 L395.9,861.2 L397.1,861.3 L398.3,861.9 L399.5,862.2 L400.7,862.7 L401.9,863.7 L401.9,863.7 L400.7,864.7 L399.5,865.2 L398.3,865.5 L397.1,866.1 L395.9,866.2 L394.7,866.3 L393.6,866.3 L392.4,866.4 L391.2,866.4 L390.0,866.4 L388.8,866.4 L387.6,866.4 L386.4,866.4 L385.2,866.4 L384.0,866.4 L382.8,866.4 L381.6,866.4 L380.4,866.4 L379.2,866.4 L378.0,866.5 L376.9,866.4 L375.7,866.4 L374.5,866.4 L373.3,866.4 L372.1,866.4 L370.9,866.4 L369.7,866.4 L368.5,866.4 L367.3,866.4 L366.1,866.4 L364.9,866.4 L363.7,866.4 L362.5,866.3 L361.4,866.3 L360.2,866.2 L359.0,866.1 L357.8,865.9 L356.6,865.2 L355.4,864.7 L354.2,863.7 Z" fill="#c8c8c8" opacity="1.0" filter="url(#bl14)"/>
<rect x="408.5" y="842.6" width="39.1" height="18.9" rx="4" fill="url(#g6)" filter="url(#bl22)"/>
<path d="M406.5,864.6 L407.6,863.1 L408.7,862.4 L409.7,861.3 L410.8,861.0 L411.9,860.8 L413.0,860.7 L414.0,860.6 L415.1,860.6 L416.2,860.5 L417.3,860.5 L418.4,860.5 L419.4,860.5 L420.5,860.6 L421.6,860.6 L422.7,860.6 L423.7,860.6 L424.8,860.6 L425.9,860.6 L427.0,860.6 L428.1,860.6 L429.1,860.6 L430.2,860.6 L431.3,860.6 L432.4,860.6 L433.4,860.6 L434.5,860.6 L435.6,860.6 L436.7,860.5 L437.7,860.5 L438.8,860.5 L439.9,860.5 L441.0,860.6 L442.1,860.6 L443.1,860.7 L444.2,860.8 L445.3,861.0 L446.4,861.9 L447.4,862.4 L448.5,863.1 L449.6,864.6 L449.6,864.6 L448.5,866.1 L447.4,866.8 L446.4,867.3 L445.3,868.2 L444.2,868.4 L443.1,868.5 L442.1,868.6 L441.0,868.6 L439.9,868.7 L438.8,868.7 L437.7,868.7 L436.7,868.7 L435.6,868.6 L434.5,868.6 L433.4,868.6 L432.4,868.6 L431.3,868.6 L430.2,868.6 L429.1,868.6 L428.1,868.6 L427.0,868.6 L425.9,868.6 L424.8,868.6 L423.7,868.6 L422.7,868.6 L421.6,868.6 L420.5,868.6 L419.4,868.7 L418.4,868.7 L417.3,868.7 L416.2,868.7 L415.1,868.6 L414.0,868.6 L413.0,868.5 L411.9,868.4 L410.8,868.2 L409.7,867.9 L408.7,866.8 L407.6,866.1 L406.5,864.6 Z" fill="#000" opacity="1.0" filter="url(#bl12)"/>
<path d="M408.0,875.5 L409.0,874.9 L410.0,874.7 L411.0,874.2 L412.0,874.1 L413.0,874.0 L414.0,874.0 L415.0,874.0 L416.0,873.9 L417.0,873.9 L418.0,873.9 L419.0,873.9 L420.0,873.9 L421.0,873.9 L422.0,873.9 L423.0,873.9 L424.0,873.9 L425.0,873.9 L426.0,873.9 L427.0,873.9 L428.0,873.9 L429.0,873.9 L430.0,873.9 L431.0,873.9 L432.0,873.9 L433.0,873.9 L434.0,873.9 L435.0,873.9 L436.0,873.9 L437.0,873.9 L438.0,873.9 L439.0,873.9 L440.0,873.9 L441.0,874.0 L442.0,874.0 L443.0,874.0 L444.0,874.1 L445.0,874.5 L446.0,874.7 L447.0,874.9 L448.0,875.5 L448.0,875.5 L447.0,876.1 L446.0,876.3 L445.0,876.5 L444.0,876.9 L443.0,877.0 L442.0,877.0 L441.0,877.0 L440.0,877.1 L439.0,877.1 L438.0,877.1 L437.0,877.1 L436.0,877.1 L435.0,877.1 L434.0,877.1 L433.0,877.1 L432.0,877.1 L431.0,877.1 L430.0,877.1 L429.0,877.1 L428.0,877.1 L427.0,877.1 L426.0,877.1 L425.0,877.1 L424.0,877.1 L423.0,877.1 L422.0,877.1 L421.0,877.1 L420.0,877.1 L419.0,877.1 L418.0,877.1 L417.0,877.1 L416.0,877.1 L415.0,877.0 L414.0,877.0 L413.0,877.0 L412.0,876.9 L411.0,876.8 L410.0,876.3 L409.0,876.1 L408.0,875.5 Z" fill="#d8d8d8" opacity="1.0" filter="url(#bl10)"/>
<path d="M458.8,862.6 L459.8,861.6 L460.8,861.1 L461.8,860.4 L462.8,860.2 L463.8,860.1 L464.8,860.0 L465.8,860.0 L466.8,859.9 L467.8,859.9 L468.8,859.9 L469.8,859.9 L470.8,859.9 L471.8,859.9 L472.8,859.9 L473.8,859.9 L474.8,859.9 L475.8,859.9 L476.8,859.9 L477.8,859.9 L478.8,859.9 L479.8,859.9 L480.8,859.9 L481.8,859.9 L482.8,859.9 L483.8,859.9 L484.8,859.9 L485.8,859.9 L486.8,859.9 L487.8,859.9 L488.8,859.9 L489.8,859.9 L490.8,859.9 L491.8,860.0 L492.8,860.0 L493.8,860.1 L494.8,860.2 L495.8,860.8 L496.8,861.1 L497.8,861.6 L498.8,862.6 L498.8,862.6 L497.8,863.6 L496.8,864.1 L495.8,864.4 L494.8,865.0 L493.8,865.1 L492.8,865.2 L491.8,865.2 L490.8,865.3 L489.8,865.3 L488.8,865.3 L487.8,865.3 L486.8,865.3 L485.8,865.3 L484.8,865.3 L483.8,865.3 L482.8,865.3 L481.8,865.3 L480.8,865.3 L479.8,865.3 L478.8,865.4 L477.8,865.3 L476.8,865.3 L475.8,865.3 L474.8,865.3 L473.8,865.3 L472.8,865.3 L471.8,865.3 L470.8,865.3 L469.8,865.3 L468.8,865.3 L467.8,865.3 L466.8,865.3 L465.8,865.2 L464.8,865.2 L463.8,865.1 L462.8,865.0 L461.8,864.8 L460.8,864.1 L459.8,863.6 L458.8,862.6 Z" fill="#cccccc" opacity="1.0" filter="url(#bl14)"/>
<path d="M192.0,917.5 L193.2,916.5 L194.3,916.0 L195.5,915.3 L196.7,915.2 L197.8,915.3 L199.0,915.3 L200.2,915.4 L201.3,915.5 L202.5,915.6 L203.7,915.7 L204.8,915.9 L206.0,916.0 L207.2,916.1 L208.3,916.2 L209.5,916.2 L210.7,916.3 L211.8,916.4 L213.0,916.4 L214.2,916.4 L215.3,916.4 L216.5,916.4 L217.7,916.4 L218.9,916.4 L220.0,916.3 L221.2,916.2 L222.4,916.2 L223.5,916.1 L224.7,916.0 L225.9,915.9 L227.0,915.7 L228.2,915.6 L229.4,915.5 L230.5,915.4 L231.7,915.3 L232.9,915.3 L234.0,915.2 L235.2,915.8 L236.4,916.0 L237.5,916.5 L238.7,917.5 L238.7,917.5 L237.5,918.9 L236.4,919.7 L235.2,920.3 L234.0,921.2 L232.9,921.5 L231.7,921.7 L230.5,921.9 L229.4,922.1 L228.2,922.2 L227.0,922.3 L225.9,922.3 L224.7,922.4 L223.5,922.4 L222.4,922.5 L221.2,922.5 L220.0,922.5 L218.9,922.6 L217.7,922.6 L216.5,922.6 L215.3,922.6 L214.2,922.6 L213.0,922.6 L211.8,922.6 L210.7,922.5 L209.5,922.5 L208.3,922.5 L207.2,922.4 L206.0,922.4 L204.8,922.3 L203.7,922.3 L202.5,922.2 L201.3,922.1 L200.2,921.9 L199.0,921.7 L197.8,921.5 L196.7,921.2 L195.5,920.8 L194.3,919.7 L193.2,918.9 L192.0,917.5 Z" fill="#050505" opacity="1.0" filter="url(#bl10)"/>
<path d="M246.0,918.3 L247.2,917.3 L248.4,916.8 L249.6,916.1 L250.8,916.0 L251.9,916.1 L253.1,916.1 L254.3,916.2 L255.5,916.3 L256.7,916.4 L257.9,916.5 L259.1,916.7 L260.3,916.8 L261.5,916.9 L262.7,917.0 L263.9,917.0 L265.0,917.1 L266.2,917.2 L267.4,917.2 L268.6,917.2 L269.8,917.2 L271.0,917.2 L272.2,917.2 L273.4,917.2 L274.6,917.1 L275.8,917.0 L276.9,917.0 L278.1,916.9 L279.3,916.8 L280.5,916.7 L281.7,916.5 L282.9,916.4 L284.1,916.3 L285.3,916.2 L286.5,916.1 L287.7,916.1 L288.8,916.0 L290.0,916.6 L291.2,916.8 L292.4,917.3 L293.6,918.3 L293.6,918.3 L292.4,919.7 L291.2,920.5 L290.0,921.1 L288.8,922.0 L287.7,922.3 L286.5,922.5 L285.3,922.7 L284.1,922.9 L282.9,923.0 L281.7,923.1 L280.5,923.1 L279.3,923.2 L278.1,923.2 L276.9,923.3 L275.8,923.3 L274.6,923.3 L273.4,923.4 L272.2,923.4 L271.0,923.4 L269.8,923.4 L268.6,923.4 L267.4,923.4 L266.2,923.4 L265.0,923.3 L263.9,923.3 L262.7,923.3 L261.5,923.2 L260.3,923.2 L259.1,923.1 L257.9,923.1 L256.7,923.0 L255.5,922.9 L254.3,922.7 L253.1,922.5 L251.9,922.3 L250.8,922.0 L249.6,921.6 L248.4,920.5 L247.2,919.7 L246.0,918.3 Z" fill="#050505" opacity="1.0" filter="url(#bl10)"/>
<path d="M302.0,920.7 L303.1,919.7 L304.1,919.2 L305.2,918.5 L306.3,918.4 L307.4,918.5 L308.4,918.5 L309.5,918.6 L310.6,918.7 L311.7,918.8 L312.8,918.9 L313.8,919.1 L314.9,919.2 L316.0,919.3 L317.1,919.4 L318.1,919.4 L319.2,919.5 L320.3,919.6 L321.4,919.6 L322.4,919.6 L323.5,919.6 L324.6,919.6 L325.6,919.6 L326.7,919.6 L327.8,919.5 L328.9,919.4 L329.9,919.4 L331.0,919.3 L332.1,919.2 L333.2,919.1 L334.2,918.9 L335.3,918.8 L336.4,918.7 L337.5,918.6 L338.6,918.5 L339.6,918.5 L340.7,918.4 L341.8,919.0 L342.9,919.2 L343.9,919.7 L345.0,920.7 L345.0,920.7 L343.9,922.1 L342.9,922.9 L341.8,923.5 L340.7,924.4 L339.6,924.7 L338.6,924.9 L337.5,925.1 L336.4,925.3 L335.3,925.4 L334.2,925.5 L333.2,925.5 L332.1,925.6 L331.0,925.6 L329.9,925.7 L328.9,925.7 L327.8,925.7 L326.7,925.8 L325.6,925.8 L324.6,925.8 L323.5,925.8 L322.4,925.8 L321.4,925.8 L320.3,925.8 L319.2,925.7 L318.1,925.7 L317.1,925.7 L316.0,925.6 L314.9,925.6 L313.8,925.5 L312.8,925.5 L311.7,925.4 L310.6,925.3 L309.5,925.1 L308.4,924.9 L307.4,924.7 L306.3,924.4 L305.2,924.0 L304.1,922.9 L303.1,922.1 L302.0,920.7 Z" fill="#050505" opacity="1.0" filter="url(#bl10)"/>
<path d="M352.9,920.2 L354.0,919.2 L355.2,918.7 L356.3,918.0 L357.5,917.9 L358.6,918.0 L359.8,918.0 L360.9,918.1 L362.1,918.2 L363.2,918.3 L364.4,918.4 L365.5,918.6 L366.7,918.7 L367.8,918.8 L369.0,918.9 L370.1,918.9 L371.3,919.0 L372.4,919.1 L373.6,919.1 L374.8,919.1 L375.9,919.1 L377.0,919.1 L378.2,919.1 L379.3,919.1 L380.5,919.0 L381.6,918.9 L382.8,918.9 L383.9,918.8 L385.1,918.7 L386.2,918.6 L387.4,918.4 L388.5,918.3 L389.7,918.2 L390.8,918.1 L392.0,918.0 L393.1,918.0 L394.3,917.9 L395.4,918.5 L396.6,918.7 L397.8,919.2 L398.9,920.2 L398.9,920.2 L397.8,921.6 L396.6,922.4 L395.4,923.0 L394.3,923.9 L393.1,924.2 L392.0,924.4 L390.8,924.6 L389.7,924.8 L388.5,924.9 L387.4,925.0 L386.2,925.0 L385.1,925.1 L383.9,925.1 L382.8,925.2 L381.6,925.2 L380.5,925.2 L379.3,925.3 L378.2,925.3 L377.0,925.3 L375.9,925.3 L374.8,925.3 L373.6,925.3 L372.4,925.3 L371.3,925.2 L370.1,925.2 L369.0,925.2 L367.8,925.1 L366.7,925.1 L365.5,925.0 L364.4,925.0 L363.2,924.9 L362.1,924.8 L360.9,924.6 L359.8,924.4 L358.6,924.2 L357.5,923.9 L356.3,923.5 L355.2,922.4 L354.0,921.6 L352.9,920.2 Z" fill="#050505" opacity="1.0" filter="url(#bl10)"/>
<path d="M405.3,920.7 L406.4,919.7 L407.5,919.2 L408.6,918.5 L409.7,918.4 L410.9,918.5 L412.0,918.5 L413.1,918.6 L414.2,918.7 L415.3,918.8 L416.4,918.9 L417.5,919.1 L418.6,919.2 L419.7,919.3 L420.8,919.4 L421.9,919.4 L423.1,919.5 L424.2,919.6 L425.3,919.6 L426.4,919.6 L427.5,919.6 L428.6,919.6 L429.7,919.6 L430.8,919.6 L431.9,919.5 L433.1,919.4 L434.2,919.4 L435.3,919.3 L436.4,919.2 L437.5,919.1 L438.6,918.9 L439.7,918.8 L440.8,918.7 L441.9,918.6 L443.0,918.5 L444.1,918.5 L445.3,918.4 L446.4,919.0 L447.5,919.2 L448.6,919.7 L449.7,920.7 L449.7,920.7 L448.6,922.1 L447.5,922.9 L446.4,923.5 L445.3,924.4 L444.1,924.7 L443.0,924.9 L441.9,925.1 L440.8,925.3 L439.7,925.4 L438.6,925.5 L437.5,925.5 L436.4,925.6 L435.3,925.6 L434.2,925.7 L433.1,925.7 L431.9,925.7 L430.8,925.8 L429.7,925.8 L428.6,925.8 L427.5,925.8 L426.4,925.8 L425.3,925.8 L424.2,925.8 L423.1,925.7 L421.9,925.7 L420.8,925.7 L419.7,925.6 L418.6,925.6 L417.5,925.5 L416.4,925.5 L415.3,925.4 L414.2,925.3 L413.1,925.1 L412.0,924.9 L410.9,924.7 L409.7,924.4 L408.6,924.0 L407.5,922.9 L406.4,922.1 L405.3,920.7 Z" fill="#050505" opacity="1.0" filter="url(#bl10)"/>
<path d="M457.6,918.8 L458.6,917.8 L459.7,917.3 L460.7,916.6 L461.7,916.5 L462.8,916.6 L463.8,916.6 L464.8,916.7 L465.9,916.8 L466.9,916.9 L467.9,917.0 L469.0,917.2 L470.0,917.3 L471.0,917.4 L472.1,917.5 L473.1,917.5 L474.1,917.6 L475.2,917.7 L476.2,917.7 L477.2,917.7 L478.2,917.7 L479.3,917.7 L480.3,917.7 L481.3,917.7 L482.4,917.6 L483.4,917.5 L484.4,917.5 L485.5,917.4 L486.5,917.3 L487.5,917.2 L488.6,917.0 L489.6,916.9 L490.6,916.8 L491.7,916.7 L492.7,916.6 L493.7,916.6 L494.8,916.5 L495.8,917.1 L496.8,917.3 L497.9,917.8 L498.9,918.8 L498.9,918.8 L497.9,920.2 L496.8,921.0 L495.8,921.6 L494.8,922.5 L493.7,922.8 L492.7,923.0 L491.7,923.2 L490.6,923.4 L489.6,923.5 L488.6,923.6 L487.5,923.6 L486.5,923.7 L485.5,923.7 L484.4,923.8 L483.4,923.8 L482.4,923.8 L481.3,923.9 L480.3,923.9 L479.3,923.9 L478.2,923.9 L477.2,923.9 L476.2,923.9 L475.2,923.9 L474.1,923.8 L473.1,923.8 L472.1,923.8 L471.0,923.7 L470.0,923.7 L469.0,923.6 L467.9,923.6 L466.9,923.5 L465.9,923.4 L464.8,923.2 L463.8,923.0 L462.8,922.8 L461.7,922.5 L460.7,922.1 L459.7,921.0 L458.6,920.2 L457.6,918.8 Z" fill="#050505" opacity="1.0" filter="url(#bl10)"/>
</svg>
</body></html>
